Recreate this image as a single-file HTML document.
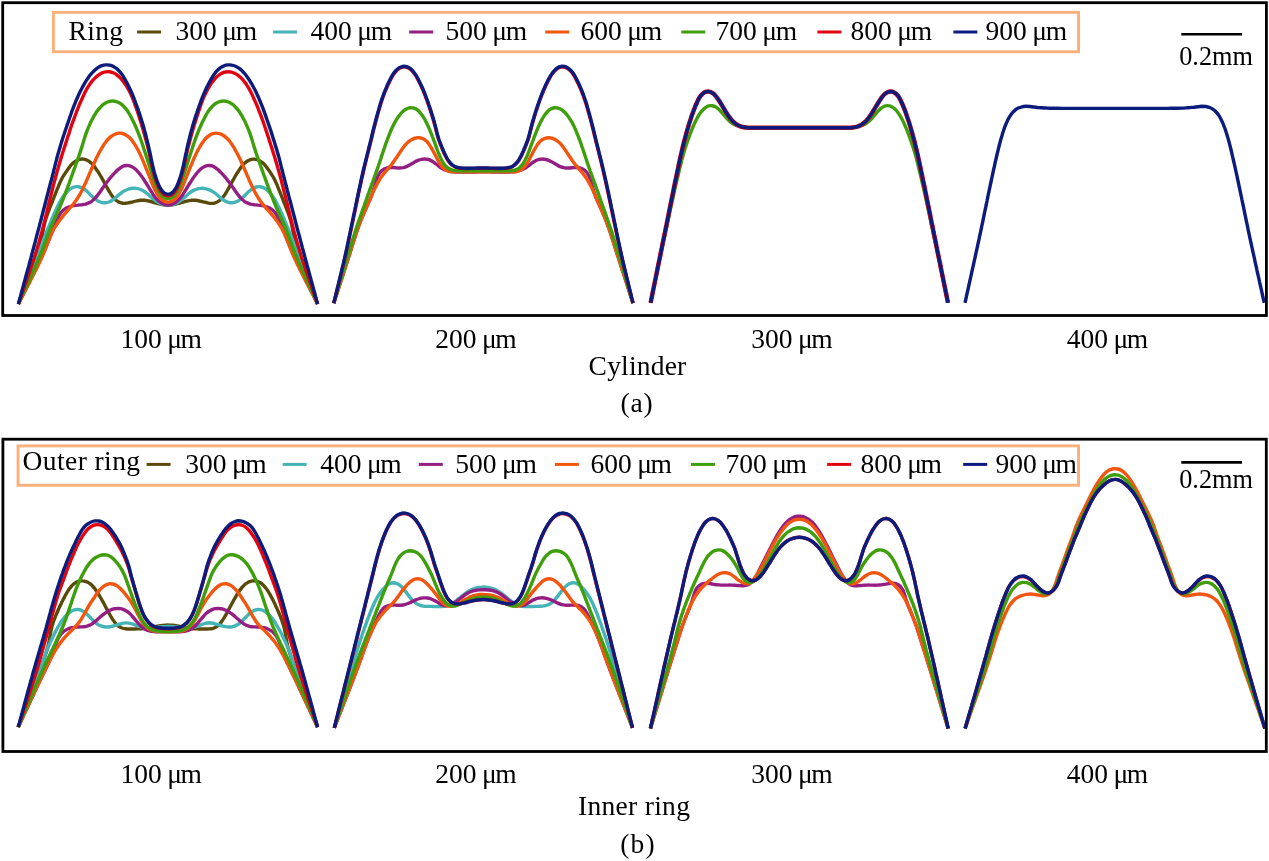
<!DOCTYPE html>
<html><head><meta charset="utf-8"><title>figure</title>
<style>
html,body{margin:0;padding:0;background:#fff;}
svg{display:block;}
text{font-family:"Liberation Serif",serif;font-size:27.5px;fill:#000;}
.c{fill:none;stroke-linecap:butt;stroke-linejoin:round;}
</style></head><body>
<svg width="1269" height="861" viewBox="0 0 1269 861">
<rect width="1269" height="861" fill="#fff"/>
<defs><filter id="g" x="0" y="0" width="1269" height="861" filterUnits="userSpaceOnUse"><feOffset dx="0" dy="0"/></filter></defs>
<g class="c" stroke-width="3.4">
<path d="M18.4,304.0C18.9,302.8 19.4,301.5 19.9,300.3C20.4,299.0 20.9,297.8 21.4,296.6C21.9,295.4 22.5,294.1 23.0,292.9C23.5,291.7 24.0,290.4 24.5,289.2C25.1,288.0 25.6,286.8 26.1,285.5C26.7,284.3 27.2,283.1 27.7,281.9C28.2,280.6 28.8,279.4 29.3,278.2C29.8,277.0 30.3,275.7 30.8,274.5C31.4,273.3 31.9,272.0 32.4,270.8C32.8,269.6 33.3,268.3 33.8,267.1C34.3,265.8 34.8,264.6 35.2,263.3C35.7,262.1 36.1,260.8 36.6,259.5C37.0,258.3 37.4,257.0 37.8,255.7C38.2,254.5 38.6,253.2 38.9,251.9C39.3,250.6 39.6,249.3 40.0,248.0C40.3,246.7 40.6,245.4 40.8,244.1C41.1,242.8 41.3,241.5 41.6,240.2C41.8,238.9 42.0,237.6 42.2,236.3C42.4,234.9 42.6,233.6 42.9,232.3C43.1,231.0 43.3,229.7 43.6,228.4C43.8,227.1 44.1,225.7 44.4,224.4C44.7,223.1 45.0,221.9 45.4,220.6C45.7,219.3 46.1,218.0 46.6,216.7C47.0,215.5 47.4,214.2 47.9,213.0C48.4,211.7 48.9,210.5 49.3,209.2C49.8,208.0 50.3,206.8 50.8,205.5C51.3,204.3 51.8,203.0 52.3,201.8C52.7,200.5 53.2,199.3 53.7,198.1C54.2,196.8 54.7,195.6 55.2,194.3C55.7,193.1 56.2,191.9 56.6,190.6C57.1,189.4 57.6,188.1 58.2,186.9C58.7,185.7 59.2,184.5 59.7,183.2C60.3,182.0 60.8,180.8 61.4,179.6C62.0,178.4 62.6,177.2 63.3,176.1C64.0,174.9 64.7,173.8 65.5,172.7C66.2,171.6 67.0,170.5 67.8,169.4C68.6,168.4 69.3,167.3 70.1,166.2C71.0,165.2 71.8,164.2 72.8,163.3C73.8,162.4 74.9,161.6 76.0,160.9C77.1,160.3 78.4,159.7 79.6,159.4C80.8,159.1 82.2,159.0 83.5,159.1C84.7,159.3 86.0,159.7 87.2,160.3C88.4,160.8 89.5,161.6 90.5,162.4C91.6,163.2 92.5,164.2 93.3,165.2C94.2,166.2 95.0,167.3 95.7,168.4C96.5,169.5 97.3,170.6 98.0,171.7C98.7,172.8 99.4,173.9 100.1,175.1C100.8,176.2 101.4,177.4 102.1,178.6C102.8,179.7 103.4,180.9 104.0,182.0C104.7,183.2 105.3,184.4 105.9,185.6C106.6,186.7 107.2,187.9 107.9,189.1C108.5,190.2 109.2,191.4 109.9,192.5C110.6,193.7 111.3,194.8 112.1,195.9C112.9,196.9 113.7,198.0 114.6,198.9C115.6,199.8 116.6,200.7 117.7,201.4C118.8,202.0 120.1,202.6 121.3,202.9C122.6,203.3 123.9,203.4 125.2,203.3C126.5,203.3 127.8,203.0 129.1,202.7C130.4,202.5 131.7,202.1 133.0,201.8C134.3,201.4 135.6,201.1 136.9,200.9C138.2,200.6 139.5,200.3 140.8,200.2C142.1,200.2 143.5,200.2 144.8,200.3C146.1,200.5 147.4,200.8 148.7,201.0C150.0,201.3 151.3,201.7 152.6,202.0C153.9,202.4 155.2,202.8 156.4,203.1C157.7,203.5 159.0,203.8 160.3,204.1C161.6,204.4 162.9,204.6 164.3,204.7C165.6,204.8 166.9,204.9 168.2,204.9C169.6,204.9 170.9,204.8 172.2,204.7C173.6,204.5 174.9,204.3 176.2,204.0C177.5,203.7 178.8,203.3 180.0,203.0C181.3,202.6 182.6,202.2 183.9,201.9C185.2,201.5 186.5,201.2 187.8,200.9C189.1,200.7 190.4,200.4 191.7,200.3C193.0,200.2 194.3,200.2 195.7,200.3C197.0,200.4 198.3,200.7 199.6,201.0C200.9,201.2 202.2,201.6 203.5,201.9C204.8,202.2 206.1,202.6 207.4,202.8C208.7,203.1 210.0,203.4 211.3,203.4C212.6,203.4 213.9,203.2 215.2,202.8C216.4,202.4 217.6,201.8 218.7,201.1C219.8,200.4 220.8,199.5 221.7,198.6C222.6,197.6 223.4,196.5 224.2,195.5C225.0,194.4 225.7,193.2 226.4,192.1C227.1,191.0 227.7,189.8 228.4,188.6C229.0,187.5 229.7,186.3 230.3,185.1C230.9,184.0 231.5,182.8 232.2,181.6C232.8,180.4 233.5,179.3 234.2,178.1C234.8,177.0 235.5,175.8 236.2,174.7C236.8,173.5 237.6,172.4 238.3,171.3C239.0,170.1 239.8,169.0 240.5,168.0C241.3,166.9 242.1,165.8 243.0,164.8C243.9,163.8 244.8,162.9 245.9,162.1C246.9,161.3 248.1,160.6 249.3,160.1C250.4,159.6 251.7,159.2 253.0,159.1C254.3,159.0 255.6,159.2 256.9,159.5C258.1,159.9 259.3,160.5 260.4,161.2C261.6,161.9 262.6,162.7 263.6,163.6C264.5,164.5 265.3,165.6 266.2,166.6C267.0,167.7 267.7,168.8 268.5,169.9C269.3,170.9 270.1,172.0 270.8,173.1C271.5,174.2 272.3,175.4 272.9,176.5C273.6,177.7 274.2,178.9 274.8,180.1C275.4,181.3 275.9,182.5 276.5,183.7C277.0,184.9 277.5,186.1 278.0,187.4C278.5,188.6 279.0,189.8 279.5,191.1C280.0,192.3 280.5,193.6 281.0,194.8C281.5,196.0 282.0,197.3 282.5,198.5C283.0,199.8 283.4,201.0 283.9,202.3C284.4,203.5 284.9,204.7 285.4,206.0C285.9,207.2 286.4,208.5 286.8,209.7C287.3,211.0 287.8,212.2 288.3,213.4C288.7,214.7 289.2,216.0 289.6,217.2C290.0,218.5 290.4,219.8 290.8,221.0C291.1,222.3 291.4,223.6 291.7,224.9C292.0,226.2 292.3,227.5 292.5,228.9C292.8,230.2 293.0,231.5 293.2,232.8C293.4,234.1 293.6,235.4 293.9,236.7C294.1,238.1 294.3,239.4 294.5,240.7C294.8,242.0 295.0,243.3 295.3,244.6C295.5,245.9 295.8,247.2 296.2,248.5C296.5,249.8 296.8,251.1 297.2,252.4C297.6,253.7 297.9,254.9 298.4,256.2C298.8,257.5 299.2,258.8 299.6,260.0C300.0,261.3 300.5,262.5 301.0,263.8C301.4,265.0 301.9,266.3 302.4,267.5C302.8,268.8 303.3,270.0 303.8,271.3C304.3,272.5 304.8,273.7 305.4,275.0C305.9,276.2 306.4,277.4 306.9,278.6C307.4,279.9 307.9,281.1 308.5,282.3C309.0,283.6 309.5,284.8 310.1,286.0C310.6,287.2 311.1,288.5 311.6,289.7C312.2,290.9 312.7,292.1 313.2,293.4C313.7,294.6 314.3,295.8 314.8,297.0C315.3,298.3 315.8,299.5 316.3,300.7C316.7,301.8 317.2,302.9 317.6,304.0" stroke="#5a4a0a"/>
<path d="M18.4,304.0C18.9,302.8 19.4,301.5 19.9,300.3C20.3,299.0 20.8,297.8 21.3,296.5C21.8,295.3 22.3,294.1 22.8,292.8C23.2,291.6 23.7,290.3 24.2,289.1C24.7,287.8 25.2,286.6 25.7,285.3C26.1,284.1 26.6,282.9 27.1,281.6C27.6,280.4 28.1,279.1 28.6,277.9C29.0,276.6 29.5,275.4 30.0,274.2C30.5,272.9 31.0,271.7 31.5,270.4C32.0,269.2 32.4,267.9 32.9,266.7C33.4,265.5 33.9,264.2 34.4,263.0C34.9,261.7 35.4,260.5 35.8,259.2C36.3,258.0 36.8,256.8 37.3,255.5C37.8,254.3 38.3,253.0 38.8,251.8C39.3,250.6 39.8,249.3 40.3,248.1C40.7,246.8 41.2,245.6 41.7,244.4C42.2,243.1 42.7,241.9 43.2,240.6C43.7,239.4 44.2,238.1 44.6,236.9C45.1,235.7 45.6,234.4 46.1,233.2C46.6,231.9 47.1,230.7 47.6,229.5C48.1,228.2 48.6,227.0 49.1,225.8C49.6,224.5 50.2,223.3 50.7,222.1C51.2,220.8 51.7,219.6 52.2,218.4C52.7,217.1 53.3,215.9 53.8,214.7C54.3,213.5 54.8,212.2 55.4,211.0C56.0,209.8 56.5,208.6 57.1,207.4C57.7,206.2 58.3,205.0 58.9,203.8C59.5,202.6 60.1,201.5 60.8,200.3C61.5,199.2 62.2,198.0 62.9,196.9C63.7,195.8 64.5,194.7 65.3,193.7C66.2,192.7 67.1,191.7 68.0,190.8C69.0,189.9 70.0,189.0 71.1,188.4C72.2,187.7 73.5,187.1 74.7,186.9C76.0,186.6 77.3,186.6 78.6,186.8C79.9,187.0 81.1,187.5 82.3,188.1C83.5,188.6 84.6,189.4 85.7,190.2C86.7,191.0 87.6,191.9 88.6,192.9C89.5,193.8 90.4,194.8 91.3,195.8C92.3,196.7 93.3,197.6 94.3,198.4C95.4,199.2 96.4,200.0 97.6,200.7C98.7,201.3 99.9,201.9 101.2,202.3C102.4,202.6 103.8,202.9 105.0,202.8C106.3,202.8 107.6,202.4 108.8,202.0C110.1,201.5 111.3,200.9 112.4,200.2C113.5,199.4 114.5,198.6 115.5,197.7C116.5,196.9 117.5,195.9 118.5,195.1C119.5,194.2 120.6,193.4 121.7,192.7C122.8,191.9 123.9,191.2 125.1,190.6C126.3,190.0 127.5,189.4 128.7,189.0C130.0,188.7 131.3,188.4 132.6,188.3C133.9,188.2 135.3,188.2 136.6,188.4C137.9,188.6 139.2,189.0 140.4,189.5C141.6,189.9 142.8,190.6 143.9,191.3C145.1,192.0 146.1,192.8 147.2,193.6C148.2,194.4 149.2,195.3 150.2,196.2C151.2,197.1 152.2,198.0 153.2,198.8C154.2,199.7 155.3,200.5 156.4,201.3C157.5,202.0 158.6,202.7 159.8,203.2C161.0,203.8 162.3,204.2 163.6,204.5C164.9,204.8 166.2,205.0 167.5,205.0C168.8,205.1 170.2,204.9 171.5,204.7C172.7,204.5 174.0,204.1 175.3,203.6C176.5,203.1 177.7,202.5 178.8,201.8C179.9,201.1 181.0,200.3 182.0,199.5C183.1,198.6 184.1,197.7 185.1,196.9C186.1,196.0 187.0,195.1 188.1,194.2C189.1,193.4 190.1,192.5 191.2,191.8C192.3,191.1 193.5,190.4 194.7,189.9C195.9,189.3 197.2,188.9 198.5,188.6C199.7,188.3 201.1,188.2 202.4,188.2C203.7,188.2 205.0,188.5 206.3,188.8C207.6,189.1 208.8,189.6 210.0,190.1C211.2,190.7 212.4,191.4 213.5,192.1C214.6,192.8 215.7,193.6 216.7,194.5C217.8,195.3 218.7,196.2 219.7,197.1C220.8,197.9 221.7,198.8 222.8,199.6C223.9,200.4 225.0,201.1 226.2,201.6C227.4,202.1 228.7,202.6 230.0,202.7C231.3,202.9 232.6,202.8 233.9,202.5C235.1,202.3 236.4,201.7 237.5,201.2C238.7,200.6 239.8,199.8 240.9,199.0C242.0,198.2 243.0,197.4 243.9,196.5C244.9,195.5 245.8,194.5 246.7,193.6C247.7,192.7 248.5,191.6 249.6,190.8C250.6,189.9 251.7,189.1 252.8,188.5C254.0,187.9 255.2,187.3 256.5,187.0C257.7,186.7 259.1,186.6 260.3,186.7C261.6,186.9 262.9,187.3 264.0,187.9C265.2,188.4 266.2,189.3 267.2,190.1C268.2,191.0 269.2,192.0 270.0,193.0C270.9,194.0 271.7,195.0 272.5,196.1C273.3,197.2 274.0,198.3 274.7,199.4C275.4,200.6 276.0,201.8 276.6,202.9C277.3,204.1 277.9,205.3 278.4,206.5C279.0,207.7 279.6,208.9 280.2,210.1C280.7,211.3 281.3,212.6 281.8,213.8C282.4,215.0 282.9,216.2 283.4,217.5C283.9,218.7 284.4,219.9 284.9,221.1C285.5,222.4 286.0,223.6 286.5,224.8C287.0,226.1 287.5,227.3 288.0,228.5C288.5,229.8 289.0,231.0 289.5,232.2C290.0,233.5 290.5,234.7 291.0,236.0C291.5,237.2 292.0,238.5 292.4,239.7C292.9,240.9 293.4,242.2 293.9,243.4C294.4,244.7 294.9,245.9 295.4,247.1C295.9,248.4 296.4,249.6 296.8,250.9C297.3,252.1 297.8,253.4 298.3,254.6C298.8,255.8 299.3,257.1 299.8,258.3C300.3,259.6 300.8,260.8 301.2,262.0C301.7,263.3 302.2,264.5 302.7,265.8C303.2,267.0 303.7,268.3 304.2,269.5C304.7,270.7 305.1,272.0 305.6,273.2C306.1,274.5 306.6,275.7 307.1,277.0C307.6,278.2 308.0,279.4 308.5,280.7C309.0,281.9 309.5,283.2 310.0,284.4C310.5,285.7 310.9,286.9 311.4,288.1C311.9,289.4 312.4,290.6 312.9,291.9C313.4,293.1 313.8,294.4 314.3,295.6C314.8,296.9 315.3,298.1 315.8,299.3C316.3,300.6 316.8,301.8 317.2,303.1C317.4,303.4 317.5,303.7 317.6,304.0" stroke="#44b4b6"/>
<path d="M18.4,304.0C19.0,302.8 19.6,301.6 20.2,300.4C20.8,299.2 21.3,298.0 21.9,296.8C22.5,295.6 23.1,294.4 23.7,293.2C24.3,292.0 24.9,290.8 25.5,289.7C26.1,288.5 26.7,287.3 27.3,286.1C27.9,284.9 28.5,283.7 29.1,282.5C29.7,281.3 30.3,280.1 30.9,278.9C31.5,277.7 32.1,276.5 32.7,275.3C33.3,274.1 33.8,272.9 34.4,271.7C35.0,270.5 35.6,269.3 36.2,268.1C36.8,266.9 37.3,265.7 37.9,264.5C38.5,263.3 39.0,262.1 39.6,260.9C40.2,259.7 40.7,258.5 41.3,257.3C41.8,256.0 42.4,254.8 42.9,253.6C43.5,252.4 44.0,251.2 44.5,249.9C45.1,248.7 45.6,247.5 46.2,246.3C46.7,245.1 47.2,243.8 47.7,242.6C48.3,241.4 48.8,240.2 49.3,238.9C49.8,237.7 50.4,236.5 50.9,235.2C51.4,234.0 51.9,232.8 52.4,231.5C52.9,230.3 53.4,229.0 53.8,227.8C54.3,226.6 54.8,225.3 55.3,224.1C55.8,222.8 56.3,221.6 56.8,220.4C57.4,219.1 57.9,217.9 58.5,216.7C59.1,215.6 59.7,214.4 60.5,213.3C61.3,212.2 62.1,211.2 63.1,210.3C64.1,209.5 65.2,208.7 66.3,208.0C67.5,207.4 68.7,206.9 70.0,206.5C71.2,206.1 72.6,205.8 73.9,205.6C75.2,205.3 76.5,205.2 77.8,205.1C79.1,204.9 80.5,204.9 81.8,204.8C83.1,204.6 84.4,204.4 85.7,204.1C87.0,203.7 88.2,203.2 89.4,202.6C90.6,202.1 91.7,201.3 92.7,200.5C93.8,199.7 94.7,198.7 95.6,197.7C96.5,196.7 97.3,195.7 98.1,194.6C98.9,193.6 99.7,192.5 100.4,191.4C101.2,190.3 101.9,189.2 102.7,188.1C103.4,187.0 104.2,185.9 105.0,184.8C105.8,183.7 106.5,182.6 107.4,181.5C108.2,180.5 109.0,179.4 109.8,178.4C110.7,177.4 111.5,176.3 112.4,175.4C113.3,174.4 114.2,173.4 115.2,172.4C116.1,171.5 117.0,170.5 118.0,169.7C119.0,168.8 120.1,167.9 121.2,167.2C122.3,166.6 123.5,166.0 124.8,165.7C126.0,165.5 127.4,165.4 128.6,165.6C129.9,165.8 131.2,166.3 132.3,166.9C133.5,167.5 134.5,168.4 135.5,169.2C136.5,170.1 137.4,171.1 138.3,172.1C139.2,173.0 140.0,174.1 140.8,175.2C141.6,176.2 142.4,177.3 143.1,178.5C143.9,179.6 144.6,180.7 145.3,181.8C146.0,182.9 146.7,184.1 147.4,185.2C148.1,186.3 148.8,187.5 149.5,188.6C150.2,189.8 150.9,190.9 151.6,192.0C152.3,193.2 153.0,194.3 153.8,195.4C154.5,196.5 155.4,197.5 156.2,198.5C157.1,199.5 158.0,200.5 159.1,201.3C160.1,202.2 161.2,203.0 162.3,203.5C163.5,204.1 164.8,204.6 166.0,204.8C167.3,205.0 168.7,205.0 170.0,204.8C171.2,204.6 172.5,204.1 173.7,203.5C174.8,203.0 175.9,202.2 176.9,201.3C178.0,200.5 178.9,199.5 179.8,198.5C180.6,197.5 181.5,196.5 182.2,195.4C183.0,194.3 183.7,193.2 184.4,192.0C185.1,190.9 185.8,189.8 186.5,188.6C187.2,187.5 187.9,186.3 188.6,185.2C189.3,184.1 190.0,182.9 190.7,181.8C191.4,180.7 192.1,179.6 192.9,178.5C193.6,177.3 194.4,176.2 195.2,175.2C196.0,174.1 196.8,173.0 197.7,172.1C198.6,171.1 199.5,170.1 200.5,169.2C201.5,168.4 202.5,167.5 203.7,166.9C204.8,166.3 206.1,165.8 207.4,165.6C208.6,165.4 210.0,165.5 211.2,165.7C212.5,166.0 213.7,166.6 214.8,167.2C215.9,167.9 217.0,168.8 218.0,169.7C219.0,170.5 219.9,171.5 220.8,172.4C221.8,173.4 222.7,174.4 223.6,175.4C224.5,176.3 225.3,177.4 226.2,178.4C227.0,179.4 227.8,180.5 228.6,181.5C229.5,182.6 230.2,183.7 231.0,184.8C231.8,185.9 232.6,187.0 233.3,188.1C234.1,189.2 234.8,190.3 235.6,191.4C236.3,192.5 237.1,193.6 237.9,194.6C238.7,195.7 239.5,196.7 240.4,197.7C241.3,198.7 242.2,199.7 243.3,200.5C244.3,201.3 245.4,202.1 246.6,202.6C247.8,203.2 249.0,203.7 250.3,204.1C251.6,204.4 252.9,204.6 254.2,204.8C255.5,204.9 256.9,204.9 258.2,205.1C259.5,205.2 260.8,205.3 262.1,205.6C263.4,205.8 264.8,206.1 266.0,206.5C267.3,206.9 268.5,207.4 269.7,208.0C270.8,208.7 271.9,209.5 272.9,210.3C273.9,211.2 274.7,212.2 275.5,213.3C276.3,214.4 276.9,215.6 277.5,216.7C278.1,217.9 278.6,219.1 279.2,220.4C279.7,221.6 280.2,222.8 280.7,224.1C281.2,225.3 281.7,226.6 282.2,227.8C282.6,229.0 283.1,230.3 283.6,231.5C284.1,232.8 284.6,234.0 285.1,235.2C285.6,236.5 286.2,237.7 286.7,238.9C287.2,240.2 287.7,241.4 288.3,242.6C288.8,243.8 289.3,245.1 289.8,246.3C290.4,247.5 290.9,248.7 291.5,249.9C292.0,251.2 292.5,252.4 293.1,253.6C293.6,254.8 294.2,256.0 294.7,257.3C295.3,258.5 295.8,259.7 296.4,260.9C297.0,262.1 297.5,263.3 298.1,264.5C298.7,265.7 299.2,266.9 299.8,268.1C300.4,269.3 301.0,270.5 301.6,271.7C302.2,272.9 302.7,274.1 303.3,275.3C303.9,276.5 304.5,277.7 305.1,278.9C305.7,280.1 306.3,281.3 306.9,282.5C307.5,283.7 308.1,284.9 308.7,286.1C309.3,287.3 309.9,288.5 310.5,289.7C311.1,290.8 311.7,292.0 312.3,293.2C312.9,294.4 313.5,295.6 314.1,296.8C314.7,298.0 315.2,299.2 315.8,300.4C316.4,301.6 317.0,302.8 317.6,304.0" stroke="#951e82"/>
<path d="M18.4,304.0C19.0,302.8 19.6,301.6 20.2,300.4C20.8,299.2 21.4,298.0 22.0,296.9C22.6,295.7 23.2,294.5 23.8,293.3C24.4,292.1 25.1,290.9 25.7,289.7C26.3,288.6 26.9,287.4 27.5,286.2C28.1,285.0 28.7,283.8 29.4,282.6C30.0,281.5 30.6,280.3 31.2,279.1C31.8,277.9 32.4,276.7 33.0,275.5C33.6,274.3 34.2,273.1 34.8,272.0C35.4,270.8 36.0,269.6 36.6,268.4C37.2,267.2 37.8,266.0 38.4,264.8C39.0,263.6 39.5,262.4 40.1,261.2C40.7,260.0 41.2,258.8 41.8,257.5C42.3,256.3 42.9,255.1 43.4,253.9C44.0,252.7 44.5,251.4 45.0,250.2C45.5,249.0 46.0,247.7 46.4,246.5C46.9,245.2 47.4,244.0 47.8,242.7C48.3,241.5 48.7,240.2 49.2,239.0C49.7,237.7 50.1,236.5 50.7,235.2C51.2,234.0 51.8,232.8 52.4,231.6C53.0,230.5 53.7,229.3 54.4,228.2C55.0,227.0 55.8,225.9 56.5,224.8C57.2,223.7 58.0,222.6 58.8,221.5C59.5,220.4 60.3,219.3 61.2,218.3C62.0,217.2 62.8,216.2 63.7,215.2C64.5,214.1 65.4,213.1 66.3,212.1C67.1,211.1 68.0,210.1 68.9,209.1C69.8,208.1 70.7,207.2 71.6,206.2C72.5,205.2 73.3,204.1 74.1,203.1C75.0,202.0 75.7,200.9 76.5,199.8C77.2,198.7 77.9,197.6 78.6,196.5C79.3,195.3 80.0,194.2 80.6,193.0C81.3,191.8 81.9,190.6 82.5,189.4C83.1,188.2 83.6,187.0 84.2,185.8C84.8,184.6 85.3,183.4 85.9,182.2C86.4,181.0 86.9,179.8 87.5,178.5C88.0,177.3 88.5,176.1 89.0,174.8C89.5,173.6 90.1,172.4 90.6,171.2C91.1,169.9 91.7,168.7 92.2,167.5C92.7,166.3 93.3,165.1 93.8,163.8C94.4,162.6 94.9,161.4 95.5,160.2C96.0,159.0 96.6,157.8 97.2,156.6C97.8,155.4 98.4,154.2 99.0,153.0C99.6,151.8 100.3,150.7 100.9,149.5C101.6,148.4 102.3,147.2 103.0,146.1C103.7,144.9 104.4,143.8 105.2,142.8C106.0,141.7 106.8,140.7 107.7,139.7C108.6,138.7 109.6,137.7 110.6,136.9C111.6,136.1 112.7,135.3 113.9,134.7C115.0,134.1 116.3,133.6 117.6,133.3C118.8,133.1 120.2,133.0 121.4,133.2C122.7,133.4 124.0,133.9 125.1,134.5C126.3,135.1 127.4,135.8 128.4,136.7C129.4,137.5 130.3,138.5 131.2,139.5C132.1,140.5 132.8,141.6 133.6,142.7C134.4,143.8 135.1,144.9 135.8,146.0C136.5,147.2 137.1,148.3 137.7,149.5C138.4,150.7 139.0,151.9 139.6,153.1C140.1,154.3 140.7,155.5 141.2,156.7C141.8,157.9 142.3,159.1 142.8,160.4C143.4,161.6 143.9,162.8 144.4,164.1C144.9,165.3 145.4,166.5 145.9,167.8C146.4,169.0 146.9,170.2 147.4,171.5C147.9,172.7 148.4,174.0 148.9,175.2C149.4,176.4 149.9,177.7 150.4,178.9C150.8,180.2 151.3,181.4 151.8,182.6C152.3,183.9 152.8,185.1 153.3,186.3C153.9,187.6 154.4,188.8 155.0,190.0C155.6,191.2 156.2,192.3 156.9,193.5C157.6,194.6 158.3,195.7 159.2,196.8C160.0,197.8 160.9,198.8 161.9,199.7C162.9,200.5 164.0,201.3 165.2,201.7C166.4,202.1 167.7,202.3 169.0,202.1C170.2,202.0 171.5,201.4 172.6,200.8C173.7,200.2 174.7,199.2 175.6,198.3C176.5,197.3 177.3,196.3 178.0,195.2C178.8,194.1 179.4,192.9 180.0,191.7C180.7,190.6 181.3,189.4 181.9,188.2C182.4,187.0 182.9,185.7 183.4,184.5C184.0,183.3 184.4,182.0 184.9,180.8C185.4,179.5 185.9,178.3 186.4,177.1C186.9,175.8 187.4,174.6 187.9,173.3C188.4,172.1 188.8,170.9 189.3,169.6C189.8,168.4 190.3,167.1 190.8,165.9C191.4,164.7 191.9,163.4 192.4,162.2C192.9,161.0 193.4,159.8 193.9,158.5C194.5,157.3 195.0,156.1 195.6,154.9C196.1,153.7 196.7,152.5 197.3,151.3C197.9,150.1 198.6,148.9 199.2,147.8C199.9,146.6 200.6,145.5 201.3,144.3C202.0,143.2 202.8,142.1 203.6,141.1C204.4,140.0 205.2,138.9 206.1,138.0C207.1,137.1 208.1,136.2 209.2,135.5C210.3,134.8 211.5,134.1 212.7,133.7C213.9,133.3 215.2,133.0 216.5,133.1C217.8,133.1 219.1,133.4 220.3,133.9C221.5,134.3 222.7,135.0 223.8,135.7C224.9,136.4 225.9,137.3 226.9,138.2C227.8,139.1 228.7,140.2 229.6,141.2C230.4,142.2 231.2,143.3 231.9,144.4C232.7,145.5 233.4,146.6 234.1,147.8C234.7,148.9 235.4,150.1 236.0,151.3C236.7,152.4 237.3,153.6 237.9,154.8C238.5,156.0 239.1,157.2 239.7,158.4C240.3,159.6 240.8,160.8 241.4,162.0C241.9,163.2 242.4,164.4 243.0,165.7C243.5,166.9 244.1,168.1 244.6,169.3C245.1,170.6 245.7,171.8 246.2,173.0C246.7,174.2 247.2,175.5 247.8,176.7C248.3,177.9 248.8,179.1 249.3,180.4C249.9,181.6 250.4,182.8 251.0,184.0C251.5,185.2 252.1,186.4 252.7,187.6C253.2,188.8 253.8,190.0 254.4,191.2C255.0,192.4 255.7,193.6 256.3,194.7C257.0,195.9 257.7,197.0 258.4,198.2C259.1,199.3 259.9,200.4 260.7,201.5C261.4,202.6 262.3,203.6 263.1,204.6C263.9,205.7 264.8,206.7 265.7,207.7C266.6,208.6 267.5,209.6 268.4,210.6C269.3,211.6 270.2,212.6 271.0,213.6C271.9,214.7 272.8,215.7 273.6,216.7C274.4,217.8 275.3,218.8 276.1,219.9C276.9,220.9 277.6,222.0 278.4,223.1C279.1,224.2 279.9,225.3 280.6,226.5C281.3,227.6 282.0,228.7 282.7,229.9C283.3,231.0 283.9,232.2 284.5,233.4C285.1,234.6 285.6,235.9 286.1,237.1C286.6,238.3 287.0,239.6 287.5,240.8C288.0,242.1 288.4,243.3 288.9,244.6C289.3,245.9 289.8,247.1 290.3,248.3C290.8,249.6 291.3,250.8 291.8,252.0C292.3,253.3 292.8,254.5 293.4,255.7C293.9,256.9 294.5,258.1 295.1,259.4C295.6,260.6 296.2,261.8 296.8,263.0C297.3,264.2 297.9,265.4 298.5,266.6C299.1,267.8 299.7,269.0 300.3,270.2C300.9,271.4 301.5,272.6 302.1,273.7C302.7,274.9 303.3,276.1 303.9,277.3C304.5,278.5 305.1,279.7 305.7,280.9C306.3,282.0 307.0,283.2 307.6,284.4C308.2,285.6 308.8,286.8 309.4,288.0C310.0,289.1 310.6,290.3 311.3,291.5C311.9,292.7 312.5,293.9 313.1,295.1C313.7,296.3 314.3,297.4 314.9,298.6C315.5,299.8 316.1,301.0 316.7,302.2C317.0,302.8 317.3,303.4 317.6,304.0" stroke="#f2560e"/>
<path d="M18.4,304.0C18.9,302.8 19.5,301.6 20.0,300.3C20.6,299.1 21.1,297.9 21.7,296.7C22.2,295.5 22.8,294.3 23.3,293.1C23.9,291.8 24.4,290.6 25.0,289.4C25.6,288.2 26.1,287.0 26.7,285.8C27.2,284.6 27.8,283.4 28.3,282.1C28.9,280.9 29.4,279.7 30.0,278.5C30.5,277.3 31.1,276.1 31.6,274.9C32.2,273.7 32.7,272.4 33.3,271.2C33.8,270.0 34.4,268.8 34.9,267.6C35.5,266.3 36.0,265.1 36.5,263.9C37.0,262.7 37.6,261.5 38.1,260.2C38.6,259.0 39.1,257.8 39.6,256.5C40.2,255.3 40.7,254.1 41.2,252.8C41.7,251.6 42.1,250.4 42.6,249.1C43.1,247.9 43.6,246.6 44.1,245.4C44.5,244.1 45.0,242.9 45.4,241.6C45.9,240.4 46.3,239.1 46.8,237.9C47.2,236.6 47.7,235.4 48.2,234.1C48.6,232.9 49.1,231.6 49.6,230.4C50.1,229.1 50.6,227.9 51.1,226.7C51.6,225.4 52.2,224.2 52.7,223.0C53.2,221.8 53.8,220.6 54.3,219.3C54.9,218.1 55.5,216.9 56.0,215.7C56.6,214.5 57.1,213.3 57.7,212.1C58.2,210.8 58.7,209.6 59.2,208.4C59.8,207.2 60.3,205.9 60.8,204.7C61.3,203.5 61.8,202.2 62.3,201.0C62.8,199.8 63.3,198.5 63.8,197.3C64.3,196.1 64.8,194.8 65.3,193.6C65.8,192.3 66.2,191.1 66.7,189.8C67.2,188.6 67.7,187.3 68.1,186.1C68.6,184.8 69.0,183.6 69.5,182.3C69.9,181.1 70.4,179.8 70.8,178.6C71.3,177.3 71.7,176.1 72.2,174.8C72.6,173.6 73.1,172.3 73.5,171.0C74.0,169.8 74.4,168.5 74.9,167.3C75.3,166.0 75.8,164.8 76.2,163.5C76.7,162.2 77.1,161.0 77.6,159.7C78.0,158.5 78.4,157.2 78.9,156.0C79.3,154.7 79.7,153.4 80.2,152.2C80.6,150.9 81.0,149.6 81.4,148.4C81.8,147.1 82.2,145.8 82.6,144.5C83.0,143.3 83.3,142.0 83.7,140.7C84.1,139.4 84.5,138.2 84.9,136.9C85.3,135.6 85.7,134.4 86.2,133.1C86.7,131.9 87.1,130.6 87.6,129.4C88.1,128.1 88.6,126.9 89.2,125.7C89.7,124.5 90.3,123.2 90.8,122.0C91.4,120.8 92.0,119.7 92.7,118.5C93.3,117.3 93.9,116.1 94.6,115.0C95.3,113.9 96.0,112.7 96.8,111.6C97.5,110.5 98.3,109.5 99.2,108.5C100.1,107.5 101.0,106.5 101.9,105.6C102.9,104.7 103.9,103.8 105.1,103.2C106.2,102.5 107.4,101.9 108.7,101.6C109.9,101.2 111.3,101.0 112.6,101.0C113.9,101.0 115.2,101.2 116.4,101.6C117.7,102.0 118.9,102.6 120.0,103.2C121.1,103.9 122.2,104.8 123.1,105.7C124.1,106.6 124.9,107.7 125.7,108.7C126.6,109.7 127.4,110.8 128.1,111.9C128.8,113.0 129.5,114.2 130.1,115.3C130.8,116.5 131.4,117.7 132.0,118.9C132.6,120.1 133.2,121.3 133.8,122.5C134.4,123.7 134.9,124.9 135.4,126.1C136.0,127.3 136.5,128.6 137.0,129.8C137.5,131.0 138.0,132.3 138.5,133.5C139.0,134.7 139.5,136.0 139.9,137.2C140.4,138.5 140.8,139.7 141.3,141.0C141.7,142.3 142.1,143.5 142.6,144.8C143.0,146.0 143.4,147.3 143.8,148.6C144.3,149.8 144.7,151.1 145.1,152.4C145.5,153.7 145.9,154.9 146.3,156.2C146.7,157.5 147.1,158.7 147.5,160.0C147.9,161.3 148.3,162.6 148.7,163.8C149.1,165.1 149.5,166.4 149.9,167.6C150.3,168.9 150.7,170.2 151.2,171.4C151.6,172.7 152.0,174.0 152.4,175.2C152.8,176.5 153.2,177.8 153.6,179.0C154.1,180.3 154.5,181.6 155.0,182.8C155.4,184.1 155.9,185.3 156.5,186.5C157.0,187.7 157.6,189.0 158.2,190.1C158.8,191.3 159.5,192.5 160.2,193.5C161.0,194.6 161.8,195.7 162.8,196.5C163.8,197.3 164.9,198.0 166.1,198.4C167.3,198.7 168.7,198.7 169.9,198.4C171.1,198.0 172.2,197.3 173.2,196.5C174.2,195.7 175.0,194.6 175.8,193.5C176.5,192.5 177.2,191.3 177.8,190.1C178.4,189.0 179.0,187.7 179.5,186.5C180.1,185.3 180.6,184.1 181.0,182.8C181.5,181.6 181.9,180.3 182.4,179.0C182.8,177.8 183.2,176.5 183.6,175.2C184.0,174.0 184.4,172.7 184.8,171.4C185.3,170.2 185.7,168.9 186.1,167.6C186.5,166.4 186.9,165.1 187.3,163.8C187.7,162.6 188.1,161.3 188.5,160.0C188.9,158.7 189.3,157.5 189.7,156.2C190.1,154.9 190.5,153.7 190.9,152.4C191.3,151.1 191.7,149.8 192.2,148.6C192.6,147.3 193.0,146.0 193.4,144.8C193.9,143.5 194.3,142.3 194.7,141.0C195.2,139.7 195.6,138.5 196.1,137.2C196.5,136.0 197.0,134.7 197.5,133.5C198.0,132.3 198.5,131.0 199.0,129.8C199.5,128.6 200.0,127.3 200.6,126.1C201.1,124.9 201.6,123.7 202.2,122.5C202.8,121.3 203.4,120.1 204.0,118.9C204.6,117.7 205.2,116.5 205.9,115.3C206.5,114.2 207.2,113.0 207.9,111.9C208.6,110.8 209.4,109.7 210.3,108.7C211.1,107.7 211.9,106.6 212.9,105.7C213.8,104.8 214.9,103.9 216.0,103.2C217.1,102.6 218.3,102.0 219.6,101.6C220.8,101.2 222.1,101.0 223.4,101.0C224.7,101.0 226.1,101.2 227.3,101.6C228.6,101.9 229.8,102.5 230.9,103.2C232.1,103.8 233.1,104.7 234.1,105.6C235.0,106.5 235.9,107.5 236.8,108.5C237.7,109.5 238.5,110.5 239.2,111.6C240.0,112.7 240.7,113.9 241.4,115.0C242.1,116.1 242.7,117.3 243.3,118.5C244.0,119.7 244.6,120.8 245.2,122.0C245.7,123.2 246.3,124.5 246.8,125.7C247.4,126.9 247.9,128.1 248.4,129.4C248.9,130.6 249.3,131.9 249.8,133.1C250.3,134.4 250.7,135.6 251.1,136.9C251.5,138.2 251.9,139.4 252.3,140.7C252.7,142.0 253.0,143.3 253.4,144.5C253.8,145.8 254.2,147.1 254.6,148.4C255.0,149.6 255.4,150.9 255.8,152.2C256.3,153.4 256.7,154.7 257.1,156.0C257.6,157.2 258.0,158.5 258.4,159.7C258.9,161.0 259.3,162.2 259.8,163.5C260.2,164.8 260.7,166.0 261.1,167.3C261.6,168.5 262.0,169.8 262.5,171.0C262.9,172.3 263.4,173.6 263.8,174.8C264.3,176.1 264.7,177.3 265.2,178.6C265.6,179.8 266.1,181.1 266.5,182.3C267.0,183.6 267.4,184.8 267.9,186.1C268.3,187.3 268.8,188.6 269.3,189.8C269.8,191.1 270.2,192.3 270.7,193.6C271.2,194.8 271.7,196.1 272.2,197.3C272.7,198.5 273.2,199.8 273.7,201.0C274.2,202.2 274.7,203.5 275.2,204.7C275.7,205.9 276.2,207.2 276.8,208.4C277.3,209.6 277.8,210.8 278.3,212.1C278.9,213.3 279.4,214.5 280.0,215.7C280.5,216.9 281.1,218.1 281.7,219.3C282.2,220.6 282.8,221.8 283.3,223.0C283.8,224.2 284.4,225.4 284.9,226.7C285.4,227.9 285.9,229.1 286.4,230.4C286.9,231.6 287.4,232.9 287.8,234.1C288.3,235.4 288.8,236.6 289.2,237.9C289.7,239.1 290.1,240.4 290.6,241.6C291.0,242.9 291.5,244.1 291.9,245.4C292.4,246.6 292.9,247.9 293.4,249.1C293.9,250.4 294.3,251.6 294.8,252.8C295.3,254.1 295.8,255.3 296.4,256.5C296.9,257.8 297.4,259.0 297.9,260.2C298.4,261.5 299.0,262.7 299.5,263.9C300.0,265.1 300.5,266.3 301.1,267.6C301.6,268.8 302.2,270.0 302.7,271.2C303.3,272.4 303.8,273.7 304.4,274.9C304.9,276.1 305.5,277.3 306.0,278.5C306.6,279.7 307.1,280.9 307.7,282.1C308.2,283.4 308.8,284.6 309.3,285.8C309.9,287.0 310.4,288.2 311.0,289.4C311.6,290.6 312.1,291.8 312.7,293.1C313.2,294.3 313.8,295.5 314.3,296.7C314.9,297.9 315.4,299.1 316.0,300.3C316.5,301.6 317.1,302.8 317.6,304.0" stroke="#3e9e0c"/>
<path d="M18.4,304.0C18.8,302.7 19.3,301.5 19.7,300.2C20.1,299.0 20.6,297.7 21.0,296.4C21.4,295.2 21.9,293.9 22.3,292.6C22.7,291.4 23.2,290.1 23.6,288.9C24.1,287.6 24.5,286.3 24.9,285.1C25.4,283.8 25.8,282.6 26.3,281.3C26.7,280.1 27.1,278.8 27.6,277.5C28.0,276.3 28.5,275.0 28.9,273.7C29.3,272.5 29.8,271.2 30.2,270.0C30.6,268.7 31.0,267.4 31.5,266.2C31.9,264.9 32.3,263.6 32.7,262.4C33.2,261.1 33.6,259.8 34.0,258.6C34.4,257.3 34.8,256.0 35.2,254.8C35.6,253.5 36.0,252.2 36.4,250.9C36.8,249.7 37.2,248.4 37.6,247.1C37.9,245.8 38.3,244.6 38.7,243.3C39.1,242.0 39.4,240.7 39.8,239.4C40.1,238.1 40.5,236.8 40.8,235.6C41.2,234.3 41.5,233.0 41.9,231.7C42.2,230.4 42.6,229.1 42.9,227.8C43.2,226.5 43.6,225.2 43.9,223.9C44.2,222.6 44.5,221.4 44.9,220.1C45.2,218.8 45.5,217.5 45.8,216.2C46.1,214.9 46.5,213.6 46.8,212.3C47.1,211.0 47.4,209.7 47.7,208.4C48.0,207.1 48.4,205.8 48.7,204.5C49.0,203.2 49.3,201.9 49.6,200.6C49.9,199.3 50.2,198.0 50.6,196.7C50.9,195.4 51.2,194.1 51.5,192.8C51.9,191.6 52.2,190.3 52.5,189.0C52.8,187.7 53.2,186.4 53.5,185.1C53.8,183.8 54.2,182.5 54.5,181.2C54.9,179.9 55.2,178.6 55.6,177.4C55.9,176.1 56.3,174.8 56.6,173.5C57.0,172.2 57.3,170.9 57.7,169.6C58.1,168.4 58.4,167.1 58.8,165.8C59.2,164.5 59.6,163.2 59.9,162.0C60.3,160.7 60.7,159.4 61.1,158.1C61.4,156.8 61.8,155.6 62.2,154.3C62.6,153.0 63.0,151.7 63.4,150.5C63.8,149.2 64.2,147.9 64.7,146.7C65.1,145.4 65.5,144.1 65.9,142.9C66.3,141.6 66.7,140.3 67.1,139.0C67.5,137.8 67.9,136.5 68.4,135.2C68.8,134.0 69.2,132.7 69.6,131.4C70.0,130.2 70.4,128.9 70.8,127.6C71.3,126.4 71.7,125.1 72.1,123.8C72.6,122.6 73.0,121.3 73.5,120.1C73.9,118.8 74.4,117.6 74.9,116.3C75.3,115.1 75.8,113.8 76.3,112.6C76.8,111.3 77.2,110.1 77.7,108.8C78.2,107.6 78.7,106.4 79.2,105.1C79.7,103.9 80.3,102.7 80.8,101.5C81.4,100.2 81.9,99.0 82.5,97.8C83.0,96.6 83.6,95.4 84.1,94.2C84.7,93.0 85.3,91.8 85.9,90.6C86.5,89.4 87.2,88.2 87.9,87.1C88.6,86.0 89.3,84.9 90.1,83.8C90.9,82.7 91.7,81.6 92.5,80.6C93.4,79.6 94.3,78.6 95.3,77.7C96.2,76.8 97.2,75.9 98.3,75.2C99.4,74.4 100.6,73.7 101.7,73.1C102.9,72.6 104.2,72.1 105.5,71.9C106.8,71.7 108.1,71.6 109.4,71.7C110.7,71.9 112.0,72.2 113.2,72.7C114.4,73.2 115.6,73.9 116.6,74.7C117.7,75.4 118.7,76.4 119.6,77.3C120.6,78.2 121.5,79.2 122.3,80.2C123.2,81.3 123.9,82.4 124.7,83.4C125.5,84.5 126.2,85.7 126.9,86.8C127.6,87.9 128.2,89.1 128.9,90.3C129.5,91.5 130.1,92.6 130.7,93.8C131.3,95.0 131.8,96.3 132.3,97.5C132.8,98.7 133.3,100.0 133.8,101.2C134.3,102.5 134.7,103.7 135.1,105.0C135.6,106.2 136.0,107.5 136.5,108.8C136.9,110.0 137.3,111.3 137.8,112.5C138.2,113.8 138.6,115.1 139.0,116.3C139.4,117.6 139.8,118.9 140.2,120.2C140.6,121.4 141.0,122.7 141.4,124.0C141.8,125.3 142.2,126.5 142.5,127.8C142.9,129.1 143.3,130.4 143.6,131.7C144.0,132.9 144.4,134.2 144.7,135.5C145.1,136.8 145.4,138.1 145.8,139.4C146.1,140.7 146.5,142.0 146.8,143.2C147.2,144.5 147.5,145.8 147.8,147.1C148.1,148.4 148.5,149.7 148.8,151.0C149.1,152.3 149.3,153.6 149.6,154.9C149.9,156.2 150.2,157.5 150.4,158.8C150.7,160.1 150.9,161.5 151.2,162.8C151.5,164.1 151.8,165.4 152.1,166.7C152.4,168.0 152.7,169.3 153.0,170.6C153.3,171.9 153.7,173.2 154.0,174.4C154.4,175.7 154.7,177.0 155.1,178.3C155.5,179.5 156.0,180.8 156.4,182.1C156.9,183.3 157.3,184.6 157.9,185.8C158.4,187.0 159.0,188.2 159.6,189.4C160.3,190.5 161.0,191.7 161.9,192.6C162.8,193.6 163.7,194.5 164.9,195.1C165.9,195.6 167.3,196.0 168.5,195.9C169.7,195.8 170.9,195.3 172.0,194.6C173.0,193.9 173.9,192.9 174.7,191.9C175.5,190.8 176.2,189.7 176.8,188.5C177.5,187.3 178.0,186.1 178.5,184.9C179.0,183.6 179.5,182.4 179.9,181.1C180.3,179.9 180.8,178.6 181.2,177.3C181.5,176.0 181.9,174.8 182.2,173.5C182.6,172.2 182.9,170.9 183.2,169.6C183.5,168.3 183.9,167.0 184.1,165.7C184.4,164.4 184.7,163.1 185.0,161.8C185.3,160.5 185.5,159.2 185.8,157.9C186.0,156.6 186.3,155.2 186.6,153.9C186.9,152.6 187.2,151.3 187.5,150.0C187.8,148.7 188.1,147.4 188.4,146.2C188.8,144.9 189.1,143.6 189.4,142.3C189.8,141.0 190.1,139.7 190.5,138.4C190.8,137.1 191.2,135.8 191.5,134.6C191.9,133.3 192.3,132.0 192.6,130.7C193.0,129.4 193.4,128.1 193.7,126.9C194.1,125.6 194.5,124.3 194.9,123.0C195.3,121.7 195.7,120.5 196.1,119.2C196.5,117.9 196.9,116.7 197.3,115.4C197.7,114.1 198.1,112.9 198.6,111.6C199.0,110.3 199.4,109.1 199.9,107.8C200.3,106.5 200.7,105.3 201.2,104.0C201.6,102.8 202.1,101.5 202.6,100.3C203.0,99.0 203.5,97.8 204.1,96.6C204.6,95.3 205.2,94.1 205.8,92.9C206.4,91.7 207.0,90.6 207.6,89.4C208.3,88.2 208.9,87.1 209.6,86.0C210.4,84.8 211.1,83.7 211.9,82.6C212.6,81.6 213.5,80.5 214.3,79.5C215.2,78.5 216.1,77.5 217.1,76.6C218.0,75.7 219.1,74.8 220.2,74.1C221.3,73.4 222.5,72.8 223.7,72.4C224.9,72.0 226.3,71.7 227.6,71.7C228.9,71.6 230.2,71.8 231.5,72.1C232.7,72.4 234.0,73.0 235.1,73.6C236.3,74.2 237.4,74.9 238.5,75.7C239.5,76.6 240.5,77.4 241.5,78.4C242.4,79.3 243.3,80.4 244.1,81.4C244.9,82.4 245.7,83.5 246.5,84.6C247.2,85.7 247.9,86.8 248.6,88.0C249.3,89.1 249.9,90.3 250.5,91.5C251.1,92.7 251.7,93.9 252.3,95.1C252.8,96.3 253.4,97.5 253.9,98.7C254.5,99.9 255.1,101.1 255.6,102.4C256.1,103.6 256.6,104.8 257.2,106.1C257.7,107.3 258.2,108.5 258.6,109.8C259.1,111.0 259.6,112.3 260.1,113.5C260.6,114.7 261.0,116.0 261.5,117.3C261.9,118.5 262.4,119.8 262.9,121.0C263.3,122.3 263.7,123.5 264.2,124.8C264.6,126.0 265.0,127.3 265.5,128.6C265.9,129.8 266.3,131.1 266.7,132.4C267.1,133.6 267.5,134.9 268.0,136.2C268.4,137.5 268.8,138.7 269.2,140.0C269.6,141.3 270.0,142.5 270.4,143.8C270.8,145.1 271.2,146.3 271.7,147.6C272.1,148.9 272.5,150.1 272.9,151.4C273.3,152.7 273.7,154.0 274.1,155.2C274.5,156.5 274.8,157.8 275.2,159.1C275.6,160.4 276.0,161.6 276.4,162.9C276.7,164.2 277.1,165.5 277.5,166.8C277.8,168.0 278.2,169.3 278.6,170.6C278.9,171.9 279.3,173.2 279.7,174.5C280.0,175.7 280.4,177.0 280.7,178.3C281.1,179.6 281.4,180.9 281.7,182.2C282.1,183.5 282.4,184.8 282.7,186.1C283.1,187.4 283.4,188.6 283.7,189.9C284.1,191.2 284.4,192.5 284.7,193.8C285.0,195.1 285.4,196.4 285.7,197.7C286.0,199.0 286.3,200.3 286.6,201.6C286.9,202.9 287.3,204.2 287.6,205.5C287.9,206.8 288.2,208.1 288.5,209.4C288.8,210.7 289.1,212.0 289.5,213.3C289.8,214.6 290.1,215.9 290.4,217.1C290.7,218.4 291.1,219.7 291.4,221.0C291.7,222.3 292.0,223.6 292.4,224.9C292.7,226.2 293.0,227.5 293.4,228.8C293.7,230.1 294.0,231.4 294.4,232.7C294.7,233.9 295.1,235.2 295.4,236.5C295.8,237.8 296.1,239.1 296.5,240.4C296.8,241.7 297.2,242.9 297.6,244.2C298.0,245.5 298.3,246.8 298.7,248.1C299.1,249.3 299.5,250.6 299.9,251.9C300.3,253.2 300.7,254.4 301.1,255.7C301.5,257.0 301.9,258.3 302.3,259.5C302.7,260.8 303.2,262.1 303.6,263.3C304.0,264.6 304.4,265.9 304.8,267.1C305.3,268.4 305.7,269.6 306.1,270.9C306.6,272.2 307.0,273.4 307.4,274.7C307.9,276.0 308.3,277.2 308.7,278.5C309.2,279.7 309.6,281.0 310.1,282.3C310.5,283.5 310.9,284.8 311.4,286.0C311.8,287.3 312.3,288.6 312.7,289.8C313.1,291.1 313.6,292.3 314.0,293.6C314.5,294.9 314.9,296.1 315.3,297.4C315.8,298.6 316.2,299.9 316.6,301.2C317.0,302.1 317.3,303.1 317.6,304.0" stroke="#e00410"/>
<path d="M18.4,304.0C18.7,302.7 19.1,301.4 19.4,300.1C19.8,298.9 20.1,297.6 20.5,296.3C20.8,295.0 21.2,293.7 21.5,292.4C21.9,291.1 22.2,289.8 22.6,288.6C22.9,287.3 23.3,286.0 23.6,284.7C24.0,283.4 24.3,282.1 24.7,280.8C25.0,279.5 25.4,278.3 25.7,277.0C26.1,275.7 26.4,274.4 26.8,273.1C27.1,271.8 27.5,270.5 27.8,269.2C28.2,268.0 28.5,266.7 28.9,265.4C29.2,264.1 29.6,262.8 29.9,261.5C30.3,260.2 30.6,258.9 31.0,257.7C31.3,256.4 31.6,255.1 32.0,253.8C32.3,252.5 32.7,251.2 33.0,249.9C33.4,248.6 33.7,247.3 34.1,246.1C34.4,244.8 34.7,243.5 35.1,242.2C35.4,240.9 35.8,239.6 36.1,238.3C36.4,237.0 36.8,235.7 37.1,234.4C37.5,233.2 37.8,231.9 38.1,230.6C38.5,229.3 38.8,228.0 39.2,226.7C39.5,225.4 39.8,224.1 40.2,222.8C40.5,221.5 40.9,220.3 41.2,219.0C41.5,217.7 41.9,216.4 42.2,215.1C42.5,213.8 42.9,212.5 43.2,211.2C43.5,209.9 43.9,208.6 44.2,207.4C44.6,206.1 44.9,204.8 45.2,203.5C45.6,202.2 45.9,200.9 46.2,199.6C46.6,198.3 46.9,197.0 47.2,195.7C47.6,194.4 47.9,193.2 48.2,191.9C48.6,190.6 48.9,189.3 49.2,188.0C49.6,186.7 49.9,185.4 50.2,184.1C50.6,182.8 50.9,181.5 51.3,180.2C51.6,178.9 51.9,177.7 52.3,176.4C52.6,175.1 52.9,173.8 53.3,172.5C53.6,171.2 53.9,169.9 54.3,168.6C54.6,167.3 54.9,166.0 55.2,164.7C55.6,163.4 55.9,162.2 56.2,160.9C56.6,159.6 56.9,158.3 57.2,157.0C57.6,155.7 57.9,154.4 58.3,153.1C58.7,151.8 59.0,150.6 59.4,149.3C59.8,148.0 60.2,146.7 60.5,145.5C60.9,144.2 61.3,142.9 61.7,141.6C62.1,140.4 62.5,139.1 62.9,137.8C63.3,136.5 63.7,135.3 64.2,134.0C64.6,132.7 65.0,131.5 65.4,130.2C65.8,128.9 66.3,127.7 66.7,126.4C67.1,125.1 67.5,123.9 68.0,122.6C68.4,121.4 68.8,120.1 69.3,118.8C69.7,117.6 70.1,116.3 70.6,115.1C71.0,113.8 71.5,112.5 71.9,111.3C72.4,110.0 72.9,108.8 73.3,107.5C73.8,106.3 74.3,105.1 74.8,103.8C75.3,102.6 75.8,101.4 76.3,100.1C76.9,98.9 77.4,97.7 77.9,96.5C78.5,95.2 79.0,94.0 79.6,92.8C80.2,91.6 80.8,90.4 81.4,89.2C82.0,88.1 82.6,86.9 83.3,85.7C83.9,84.5 84.6,83.4 85.3,82.2C86.0,81.1 86.7,80.0 87.4,78.9C88.2,77.8 88.9,76.7 89.7,75.6C90.6,74.6 91.4,73.5 92.3,72.6C93.2,71.6 94.1,70.6 95.1,69.8C96.2,68.9 97.2,68.1 98.3,67.4C99.4,66.7 100.7,66.1 101.9,65.7C103.1,65.3 104.5,65.0 105.8,64.9C107.1,64.8 108.4,64.9 109.7,65.1C111.0,65.4 112.2,65.8 113.4,66.4C114.6,67.0 115.7,67.7 116.7,68.6C117.7,69.4 118.7,70.4 119.5,71.4C120.4,72.3 121.2,73.4 122.0,74.5C122.8,75.6 123.5,76.7 124.1,77.9C124.8,79.0 125.5,80.2 126.1,81.3C126.8,82.5 127.4,83.7 128.0,84.9C128.6,86.1 129.2,87.3 129.7,88.5C130.3,89.7 130.9,90.9 131.4,92.1C131.9,93.3 132.5,94.6 133.0,95.8C133.5,97.0 134.0,98.3 134.4,99.5C134.9,100.8 135.4,102.0 135.8,103.3C136.3,104.5 136.8,105.8 137.2,107.0C137.6,108.3 138.1,109.5 138.5,110.8C139.0,112.1 139.4,113.3 139.8,114.6C140.2,115.9 140.6,117.1 141.0,118.4C141.4,119.7 141.8,121.0 142.2,122.2C142.6,123.5 143.0,124.8 143.3,126.1C143.7,127.4 144.1,128.6 144.4,129.9C144.8,131.2 145.1,132.5 145.5,133.8C145.8,135.1 146.1,136.4 146.4,137.7C146.8,139.0 147.1,140.3 147.4,141.6C147.7,142.8 148.0,144.1 148.3,145.4C148.6,146.7 148.9,148.0 149.2,149.3C149.5,150.6 149.8,152.0 150.1,153.3C150.3,154.6 150.6,155.9 150.9,157.2C151.1,158.5 151.4,159.8 151.7,161.1C151.9,162.4 152.2,163.7 152.5,165.0C152.8,166.3 153.1,167.6 153.4,168.9C153.7,170.2 154.1,171.5 154.4,172.8C154.8,174.1 155.2,175.3 155.6,176.6C156.0,177.9 156.4,179.1 156.8,180.4C157.3,181.6 157.8,182.9 158.3,184.1C158.8,185.3 159.4,186.6 160.0,187.7C160.7,188.9 161.4,190.0 162.3,191.0C163.1,192.0 164.0,193.0 165.2,193.5C166.2,194.1 167.5,194.4 168.7,194.3C169.8,194.2 171.1,193.5 172.0,192.7C173.1,192.0 173.9,190.9 174.6,189.8C175.4,188.8 176.1,187.6 176.7,186.4C177.3,185.2 177.8,184.0 178.3,182.7C178.8,181.5 179.2,180.2 179.7,179.0C180.1,177.7 180.5,176.5 180.9,175.2C181.3,173.9 181.6,172.6 182.0,171.3C182.3,170.0 182.6,168.7 182.9,167.4C183.3,166.1 183.6,164.8 183.8,163.5C184.1,162.2 184.4,160.9 184.6,159.6C184.9,158.3 185.2,157.0 185.4,155.7C185.7,154.4 186.0,153.1 186.3,151.8C186.5,150.5 186.8,149.2 187.1,147.9C187.4,146.6 187.7,145.3 188.0,144.0C188.3,142.7 188.6,141.4 189.0,140.1C189.3,138.8 189.6,137.5 189.9,136.2C190.2,134.9 190.6,133.6 190.9,132.3C191.3,131.0 191.6,129.8 192.0,128.5C192.3,127.2 192.7,125.9 193.1,124.6C193.5,123.4 193.8,122.1 194.2,120.8C194.6,119.5 195.0,118.3 195.4,117.0C195.8,115.7 196.3,114.4 196.7,113.2C197.1,111.9 197.5,110.6 198.0,109.4C198.4,108.1 198.9,106.9 199.3,105.6C199.8,104.4 200.2,103.1 200.7,101.9C201.1,100.6 201.6,99.4 202.1,98.1C202.6,96.9 203.1,95.6 203.6,94.4C204.1,93.2 204.7,92.0 205.2,90.8C205.8,89.5 206.3,88.3 206.9,87.1C207.5,85.9 208.1,84.7 208.7,83.5C209.3,82.4 209.9,81.2 210.6,80.0C211.3,78.9 211.9,77.7 212.6,76.6C213.4,75.5 214.1,74.3 214.9,73.3C215.7,72.2 216.5,71.2 217.5,70.3C218.4,69.3 219.4,68.4 220.5,67.7C221.6,66.9 222.7,66.3 224.0,65.8C225.2,65.3 226.5,65.0 227.8,64.9C229.1,64.8 230.4,64.8 231.7,65.1C233.0,65.3 234.3,65.7 235.5,66.2C236.7,66.7 237.8,67.4 238.9,68.2C240.0,69.0 241.0,69.9 242.0,70.8C242.9,71.7 243.8,72.7 244.7,73.7C245.6,74.7 246.4,75.7 247.1,76.8C247.9,77.9 248.7,79.0 249.4,80.1C250.1,81.2 250.8,82.4 251.5,83.5C252.2,84.7 252.8,85.8 253.4,87.0C254.1,88.2 254.7,89.4 255.3,90.6C255.9,91.8 256.5,93.0 257.0,94.2C257.6,95.4 258.1,96.6 258.7,97.8C259.2,99.1 259.7,100.3 260.2,101.5C260.7,102.7 261.2,104.0 261.7,105.2C262.2,106.5 262.7,107.7 263.2,108.9C263.7,110.2 264.1,111.4 264.6,112.7C265.0,114.0 265.5,115.2 265.9,116.5C266.4,117.7 266.8,119.0 267.2,120.3C267.7,121.5 268.1,122.8 268.5,124.0C268.9,125.3 269.4,126.6 269.8,127.8C270.2,129.1 270.6,130.4 271.1,131.6C271.5,132.9 271.9,134.2 272.3,135.4C272.7,136.7 273.1,138.0 273.5,139.2C273.9,140.5 274.3,141.8 274.7,143.1C275.1,144.3 275.5,145.6 275.9,146.9C276.3,148.2 276.6,149.4 277.0,150.7C277.4,152.0 277.8,153.3 278.1,154.6C278.5,155.9 278.8,157.1 279.2,158.4C279.5,159.7 279.8,161.0 280.2,162.3C280.5,163.6 280.8,164.9 281.1,166.2C281.5,167.5 281.8,168.8 282.1,170.1C282.5,171.4 282.8,172.7 283.1,173.9C283.5,175.2 283.8,176.5 284.1,177.8C284.5,179.1 284.8,180.4 285.1,181.7C285.5,183.0 285.8,184.3 286.1,185.6C286.5,186.9 286.8,188.1 287.1,189.4C287.5,190.7 287.8,192.0 288.1,193.3C288.5,194.6 288.8,195.9 289.1,197.2C289.5,198.5 289.8,199.8 290.1,201.1C290.5,202.4 290.8,203.6 291.2,204.9C291.5,206.2 291.8,207.5 292.2,208.8C292.5,210.1 292.8,211.4 293.2,212.7C293.5,214.0 293.8,215.3 294.2,216.5C294.5,217.8 294.9,219.1 295.2,220.4C295.5,221.7 295.9,223.0 296.2,224.3C296.5,225.6 296.9,226.9 297.2,228.2C297.6,229.5 297.9,230.7 298.2,232.0C298.6,233.3 298.9,234.6 299.3,235.9C299.6,237.2 299.9,238.5 300.3,239.8C300.6,241.1 301.0,242.3 301.3,243.6C301.6,244.9 302.0,246.2 302.3,247.5C302.7,248.8 303.0,250.1 303.4,251.4C303.7,252.7 304.1,253.9 304.4,255.2C304.7,256.5 305.1,257.8 305.4,259.1C305.8,260.4 306.1,261.7 306.5,263.0C306.8,264.3 307.2,265.5 307.5,266.8C307.9,268.1 308.2,269.4 308.6,270.7C308.9,272.0 309.3,273.3 309.6,274.6C310.0,275.8 310.3,277.1 310.7,278.4C311.0,279.7 311.4,281.0 311.7,282.3C312.1,283.6 312.4,284.9 312.8,286.1C313.1,287.4 313.5,288.7 313.8,290.0C314.2,291.3 314.5,292.6 314.9,293.9C315.2,295.1 315.6,296.4 315.9,297.7C316.2,299.0 316.6,300.3 316.9,301.6C317.2,302.4 317.4,303.2 317.6,304.0" stroke="#0c1c7c"/>
</g>
<g class="c" stroke-width="3.4">
<path d="M333.8,303.2C334.2,301.9 334.6,300.7 335.0,299.4C335.4,298.1 335.8,296.9 336.2,295.6C336.7,294.3 337.1,293.0 337.5,291.8C337.9,290.5 338.3,289.2 338.7,288.0C339.1,286.7 339.5,285.4 339.9,284.2C340.3,282.9 340.7,281.6 341.2,280.3C341.6,279.1 342.0,277.8 342.4,276.5C342.8,275.3 343.2,274.0 343.6,272.7C344.0,271.5 344.4,270.2 344.8,268.9C345.2,267.6 345.6,266.4 346.1,265.1C346.5,263.8 346.9,262.6 347.3,261.3C347.7,260.0 348.1,258.8 348.5,257.5C348.9,256.2 349.3,254.9 349.7,253.7C350.1,252.4 350.5,251.1 350.9,249.9C351.3,248.6 351.7,247.3 352.1,246.0C352.5,244.8 352.9,243.5 353.3,242.2C353.7,241.0 354.1,239.7 354.5,238.4C354.9,237.1 355.3,235.9 355.7,234.6C356.2,233.3 356.6,232.1 357.0,230.8C357.5,229.5 357.9,228.3 358.4,227.0C358.8,225.8 359.3,224.5 359.8,223.3C360.2,222.0 360.7,220.8 361.2,219.6C361.7,218.3 362.2,217.1 362.7,215.9C363.2,214.6 363.8,213.4 364.3,212.2C364.8,211.0 365.4,209.7 365.9,208.5C366.5,207.3 367.0,206.1 367.5,204.9C368.1,203.6 368.6,202.4 369.2,201.2C369.7,200.0 370.3,198.8 370.8,197.5C371.3,196.3 371.7,195.1 372.2,193.8C372.6,192.5 373.0,191.3 373.4,190.0C373.8,188.7 374.2,187.4 374.6,186.2C375.0,184.9 375.3,183.6 375.7,182.3C376.1,181.0 376.4,179.8 376.9,178.5C377.4,177.3 377.9,176.0 378.5,174.9C379.1,173.7 379.9,172.6 380.7,171.6C381.6,170.7 382.7,169.8 383.8,169.2C384.9,168.5 386.2,168.1 387.4,167.8C388.7,167.5 390.1,167.5 391.4,167.5C392.7,167.5 394.0,167.7 395.3,167.8C396.7,167.9 398.0,168.1 399.3,168.0C400.6,168.0 402.0,167.8 403.3,167.6C404.6,167.3 405.8,166.9 407.0,166.4C408.3,165.8 409.4,165.1 410.5,164.5C411.7,163.8 412.8,163.1 414.0,162.4C415.1,161.8 416.3,161.1 417.5,160.6C418.7,160.1 420.0,159.6 421.3,159.4C422.6,159.1 423.9,158.9 425.2,159.0C426.5,159.0 427.8,159.3 429.0,159.7C430.3,160.2 431.4,160.8 432.6,161.5C433.7,162.2 434.7,163.0 435.8,163.8C436.8,164.6 437.9,165.5 438.9,166.3C440.0,167.1 441.1,167.9 442.2,168.5C443.4,169.2 444.6,169.7 445.9,170.2C447.1,170.6 448.4,170.9 449.7,171.2C451.0,171.4 452.3,171.6 453.7,171.8C455.0,171.9 456.3,172.0 457.6,172.0C459.0,172.1 460.3,172.1 461.6,172.1C463.0,172.1 464.3,172.1 465.6,172.1C467.0,172.1 468.3,172.1 469.6,172.1C471.0,172.1 472.3,172.0 473.6,172.0C475.0,172.0 476.3,171.9 477.6,171.9C479.0,171.9 480.3,171.9 481.6,171.9C483.0,171.9 484.3,171.9 485.7,171.9C487.0,171.9 488.3,171.9 489.7,171.9C491.0,172.0 492.3,172.0 493.7,172.0C495.0,172.0 496.3,172.1 497.7,172.1C499.0,172.1 500.3,172.1 501.7,172.1C503.0,172.1 504.3,172.1 505.7,172.1C507.0,172.1 508.3,172.1 509.7,172.0C511.0,171.9 512.3,171.9 513.6,171.7C515.0,171.6 516.3,171.4 517.6,171.1C518.9,170.8 520.2,170.5 521.4,170.0C522.6,169.5 523.8,168.9 525.0,168.3C526.1,167.6 527.2,166.8 528.3,166.0C529.3,165.2 530.3,164.3 531.4,163.5C532.5,162.7 533.5,161.9 534.7,161.2C535.8,160.6 537.0,160.0 538.2,159.6C539.5,159.2 540.8,159.0 542.1,159.0C543.4,158.9 544.7,159.2 546.0,159.5C547.3,159.8 548.5,160.3 549.7,160.8C551.0,161.3 552.1,162.0 553.3,162.7C554.4,163.3 555.5,164.1 556.7,164.7C557.8,165.4 559.0,166.1 560.2,166.6C561.4,167.0 562.7,167.4 564.0,167.7C565.3,167.9 566.7,168.0 568.0,168.0C569.3,168.0 570.6,167.9 571.9,167.8C573.3,167.7 574.6,167.4 575.9,167.5C577.2,167.5 578.6,167.6 579.8,167.9C581.1,168.2 582.3,168.7 583.4,169.4C584.5,170.1 585.5,171.0 586.4,172.0C587.2,173.0 587.9,174.2 588.5,175.3C589.1,176.5 589.6,177.7 590.1,179.0C590.5,180.2 590.9,181.5 591.3,182.8C591.6,184.1 592.0,185.4 592.4,186.6C592.7,187.9 593.1,189.2 593.5,190.5C593.9,191.7 594.3,193.0 594.8,194.3C595.2,195.5 595.7,196.8 596.2,198.0C596.7,199.2 597.3,200.4 597.8,201.7C598.4,202.9 598.9,204.1 599.5,205.3C600.0,206.5 600.6,207.8 601.1,209.0C601.6,210.2 602.2,211.4 602.7,212.6C603.2,213.9 603.8,215.1 604.3,216.3C604.8,217.5 605.3,218.8 605.8,220.0C606.3,221.3 606.8,222.5 607.2,223.8C607.7,225.0 608.1,226.3 608.6,227.5C609.1,228.8 609.5,230.0 609.9,231.3C610.4,232.5 610.8,233.8 611.2,235.1C611.6,236.3 612.0,237.6 612.4,238.9C612.8,240.2 613.2,241.4 613.6,242.7C614.0,244.0 614.4,245.3 614.8,246.5C615.2,247.8 615.6,249.1 616.0,250.3C616.4,251.6 616.8,252.9 617.2,254.2C617.6,255.4 618.0,256.7 618.5,258.0C618.9,259.2 619.3,260.5 619.7,261.8C620.1,263.0 620.5,264.3 620.9,265.6C621.3,266.9 621.7,268.1 622.1,269.4C622.5,270.7 622.9,271.9 623.4,273.2C623.8,274.5 624.2,275.7 624.6,277.0C625.0,278.3 625.4,279.6 625.8,280.8C626.2,282.1 626.6,283.4 627.0,284.6C627.4,285.9 627.8,287.2 628.3,288.4C628.7,289.7 629.1,291.0 629.5,292.2C629.9,293.5 630.3,294.8 630.7,296.1C631.1,297.3 631.5,298.6 631.9,299.9C632.3,301.0 632.6,302.1 633.0,303.2" stroke="#951e82"/>
<path d="M333.8,303.2C334.2,301.9 334.6,300.7 335.0,299.4C335.4,298.1 335.8,296.9 336.2,295.6C336.7,294.3 337.1,293.0 337.5,291.8C337.9,290.5 338.3,289.2 338.7,288.0C339.1,286.7 339.5,285.4 339.9,284.2C340.3,282.9 340.7,281.6 341.2,280.3C341.6,279.1 342.0,277.8 342.4,276.5C342.8,275.3 343.2,274.0 343.6,272.7C344.0,271.5 344.4,270.2 344.8,268.9C345.2,267.7 345.6,266.4 346.0,265.1C346.5,263.8 346.9,262.6 347.3,261.3C347.7,260.0 348.1,258.8 348.5,257.5C348.9,256.2 349.3,255.0 349.7,253.7C350.1,252.4 350.5,251.1 350.9,249.9C351.3,248.6 351.7,247.3 352.1,246.1C352.5,244.8 352.9,243.5 353.3,242.2C353.7,241.0 354.1,239.7 354.5,238.4C354.9,237.1 355.3,235.9 355.7,234.6C356.2,233.3 356.6,232.1 357.0,230.8C357.5,229.6 357.9,228.3 358.4,227.1C358.8,225.8 359.3,224.5 359.7,223.3C360.2,222.1 360.7,220.8 361.2,219.6C361.7,218.3 362.2,217.1 362.7,215.9C363.2,214.6 363.8,213.4 364.3,212.2C364.8,211.0 365.4,209.8 365.9,208.5C366.4,207.3 367.0,206.1 367.5,204.9C368.0,203.6 368.6,202.4 369.1,201.2C369.6,200.0 370.2,198.7 370.7,197.5C371.2,196.3 371.8,195.1 372.3,193.9C372.8,192.6 373.4,191.4 373.9,190.2C374.5,189.0 375.1,187.8 375.7,186.6C376.3,185.4 376.9,184.2 377.5,183.1C378.2,181.9 378.9,180.8 379.6,179.6C380.3,178.5 381.0,177.4 381.8,176.3C382.6,175.2 383.4,174.2 384.2,173.1C385.1,172.1 385.9,171.1 386.8,170.1C387.7,169.1 388.6,168.1 389.5,167.1C390.3,166.1 391.2,165.0 392.0,164.0C392.8,162.9 393.6,161.8 394.3,160.7C395.1,159.7 395.8,158.5 396.6,157.4C397.3,156.3 398.1,155.2 398.8,154.1C399.5,153.0 400.2,151.9 401.0,150.8C401.7,149.7 402.5,148.5 403.3,147.5C404.1,146.4 404.9,145.4 405.8,144.4C406.7,143.4 407.7,142.5 408.7,141.6C409.7,140.8 410.8,140.0 411.9,139.4C413.1,138.8 414.3,138.2 415.6,138.0C416.9,137.7 418.2,137.6 419.5,137.7C420.8,137.9 422.1,138.3 423.2,138.8C424.4,139.4 425.5,140.2 426.4,141.1C427.4,142.0 428.2,143.1 429.0,144.1C429.7,145.2 430.4,146.3 431.1,147.5C431.8,148.6 432.5,149.8 433.1,151.0C433.7,152.1 434.3,153.3 435.0,154.5C435.6,155.7 436.2,156.9 436.8,158.1C437.4,159.2 438.0,160.4 438.7,161.6C439.4,162.7 440.0,163.9 440.8,165.0C441.6,166.0 442.3,167.1 443.3,168.0C444.3,168.9 445.3,169.7 446.5,170.3C447.6,170.9 448.9,171.3 450.2,171.5C451.5,171.8 452.8,171.8 454.1,171.8C455.5,171.9 456.8,171.8 458.1,171.9C459.5,171.9 460.8,171.9 462.1,171.9C463.5,171.9 464.8,171.9 466.1,171.9C467.5,171.9 468.8,171.9 470.1,171.9C471.5,171.8 472.8,171.8 474.1,171.8C475.5,171.8 476.8,171.7 478.1,171.7C479.5,171.7 480.8,171.7 482.1,171.7C483.5,171.7 484.8,171.7 486.2,171.7C487.5,171.7 488.8,171.7 490.2,171.7C491.5,171.8 492.8,171.8 494.2,171.8C495.5,171.8 496.8,171.9 498.2,171.9C499.5,171.9 500.8,171.9 502.2,171.9C503.5,171.9 504.8,171.9 506.2,171.9C507.5,171.9 508.8,171.9 510.2,171.8C511.5,171.8 512.8,171.9 514.1,171.8C515.4,171.7 516.8,171.6 518.0,171.2C519.3,170.8 520.5,170.3 521.6,169.5C522.7,168.8 523.6,167.9 524.5,166.9C525.4,166.0 526.1,164.8 526.8,163.7C527.6,162.6 528.2,161.4 528.9,160.3C529.5,159.1 530.1,157.9 530.7,156.7C531.3,155.5 531.9,154.3 532.5,153.2C533.2,152.0 533.8,150.8 534.4,149.6C535.1,148.5 535.7,147.3 536.5,146.2C537.2,145.1 537.9,143.9 538.7,142.9C539.6,141.9 540.5,140.9 541.5,140.1C542.5,139.3 543.7,138.7 544.9,138.3C546.1,137.9 547.5,137.7 548.8,137.7C550.1,137.7 551.4,138.0 552.6,138.4C553.8,138.8 555.0,139.4 556.1,140.1C557.2,140.9 558.3,141.7 559.2,142.6C560.2,143.5 561.1,144.5 562.0,145.5C562.8,146.5 563.6,147.6 564.4,148.7C565.2,149.8 565.9,150.9 566.6,152.0C567.4,153.1 568.1,154.2 568.8,155.4C569.6,156.5 570.3,157.6 571.1,158.7C571.8,159.8 572.6,160.9 573.3,162.0C574.1,163.0 574.9,164.1 575.7,165.2C576.6,166.2 577.5,167.2 578.3,168.2C579.2,169.2 580.1,170.2 581.0,171.2C581.8,172.2 582.7,173.3 583.5,174.3C584.3,175.4 585.1,176.4 585.9,177.5C586.6,178.6 587.3,179.8 588.0,180.9C588.7,182.1 589.3,183.2 590.0,184.4C590.6,185.6 591.2,186.8 591.8,188.0C592.4,189.2 592.9,190.4 593.5,191.6C594.0,192.8 594.6,194.0 595.1,195.2C595.6,196.5 596.2,197.7 596.7,198.9C597.2,200.1 597.8,201.3 598.3,202.6C598.8,203.8 599.4,205.0 599.9,206.2C600.4,207.5 601.0,208.7 601.5,209.9C602.0,211.1 602.6,212.3 603.1,213.6C603.6,214.8 604.2,216.0 604.7,217.2C605.2,218.5 605.7,219.7 606.2,221.0C606.6,222.2 607.1,223.5 607.6,224.7C608.0,226.0 608.5,227.2 608.9,228.5C609.4,229.7 609.8,231.0 610.3,232.2C610.7,233.5 611.1,234.8 611.5,236.0C611.9,237.3 612.3,238.6 612.7,239.9C613.1,241.1 613.5,242.4 613.9,243.7C614.3,244.9 614.7,246.2 615.1,247.5C615.5,248.8 615.9,250.0 616.3,251.3C616.7,252.6 617.1,253.8 617.5,255.1C617.9,256.4 618.4,257.7 618.8,258.9C619.2,260.2 619.6,261.5 620.0,262.7C620.4,264.0 620.8,265.3 621.2,266.5C621.6,267.8 622.0,269.1 622.4,270.4C622.8,271.6 623.2,272.9 623.7,274.2C624.1,275.4 624.5,276.7 624.9,278.0C625.3,279.2 625.7,280.5 626.1,281.8C626.5,283.0 626.9,284.3 627.3,285.6C627.7,286.9 628.2,288.1 628.6,289.4C629.0,290.7 629.4,291.9 629.8,293.2C630.2,294.5 630.6,295.7 631.0,297.0C631.4,298.3 631.8,299.5 632.2,300.8C632.5,301.6 632.7,302.4 633.0,303.2" stroke="#f2560e"/>
<path d="M333.8,303.2C334.2,301.9 334.6,300.6 334.9,299.4C335.3,298.1 335.7,296.8 336.1,295.5C336.5,294.2 336.8,293.0 337.2,291.7C337.6,290.4 338.0,289.1 338.3,287.9C338.7,286.6 339.1,285.3 339.5,284.0C339.8,282.7 340.2,281.5 340.6,280.2C341.0,278.9 341.4,277.6 341.7,276.3C342.1,275.1 342.5,273.8 342.9,272.5C343.3,271.2 343.6,270.0 344.0,268.7C344.4,267.4 344.8,266.1 345.1,264.8C345.5,263.6 345.9,262.3 346.3,261.0C346.7,259.7 347.1,258.5 347.4,257.2C347.8,255.9 348.2,254.6 348.6,253.3C349.0,252.1 349.4,250.8 349.7,249.5C350.1,248.2 350.5,247.0 350.9,245.7C351.3,244.4 351.7,243.1 352.0,241.8C352.4,240.6 352.8,239.3 353.2,238.0C353.6,236.7 354.0,235.5 354.4,234.2C354.8,232.9 355.2,231.7 355.6,230.4C356.0,229.1 356.4,227.8 356.8,226.6C357.3,225.3 357.7,224.1 358.1,222.8C358.6,221.5 359.0,220.3 359.5,219.0C359.9,217.8 360.4,216.5 360.8,215.3C361.3,214.0 361.7,212.7 362.1,211.5C362.6,210.2 363.0,209.0 363.5,207.7C363.9,206.5 364.4,205.2 364.8,203.9C365.2,202.7 365.7,201.4 366.1,200.2C366.6,198.9 367.0,197.6 367.4,196.4C367.9,195.1 368.3,193.9 368.8,192.6C369.2,191.4 369.7,190.1 370.1,188.9C370.6,187.6 371.0,186.3 371.5,185.1C371.9,183.8 372.4,182.6 372.9,181.3C373.3,180.1 373.8,178.8 374.2,177.6C374.7,176.3 375.1,175.1 375.6,173.8C376.0,172.6 376.5,171.3 376.9,170.0C377.4,168.8 377.8,167.5 378.3,166.3C378.7,165.0 379.1,163.7 379.5,162.5C380.0,161.2 380.4,159.9 380.8,158.7C381.2,157.4 381.6,156.1 382.0,154.9C382.5,153.6 382.9,152.3 383.3,151.1C383.7,149.8 384.2,148.6 384.6,147.3C385.0,146.0 385.5,144.8 385.9,143.5C386.4,142.3 386.8,141.0 387.3,139.8C387.7,138.5 388.2,137.3 388.7,136.0C389.2,134.8 389.7,133.5 390.2,132.3C390.7,131.1 391.2,129.8 391.8,128.6C392.3,127.4 392.9,126.2 393.5,125.0C394.1,123.8 394.7,122.6 395.4,121.5C396.0,120.3 396.7,119.2 397.4,118.1C398.2,117.0 398.9,115.9 399.8,114.8C400.6,113.8 401.5,112.8 402.4,111.9C403.4,111.0 404.4,110.1 405.5,109.4C406.6,108.8 407.9,108.2 409.1,107.9C410.4,107.7 411.7,107.7 413.0,107.9C414.2,108.1 415.5,108.7 416.6,109.3C417.7,110.0 418.6,110.9 419.5,111.9C420.5,112.8 421.2,113.9 422.0,115.0C422.8,116.1 423.5,117.2 424.2,118.4C424.9,119.5 425.5,120.7 426.1,121.9C426.7,123.1 427.3,124.3 427.8,125.5C428.4,126.7 428.9,127.9 429.4,129.1C430.0,130.4 430.4,131.6 430.9,132.8C431.4,134.1 431.9,135.3 432.4,136.6C432.9,137.8 433.3,139.1 433.8,140.3C434.3,141.6 434.7,142.8 435.2,144.1C435.6,145.3 436.1,146.6 436.5,147.8C437.0,149.1 437.5,150.3 437.9,151.6C438.4,152.8 438.9,154.1 439.4,155.3C440.0,156.5 440.5,157.7 441.1,158.9C441.7,160.1 442.3,161.3 443.0,162.4C443.7,163.6 444.4,164.7 445.3,165.7C446.2,166.7 447.1,167.6 448.2,168.3C449.3,169.0 450.5,169.5 451.8,169.9C453.0,170.3 454.4,170.5 455.7,170.6C457.0,170.8 458.3,170.8 459.6,170.9C461.0,170.9 462.3,170.9 463.6,170.9C465.0,170.9 466.3,170.9 467.6,170.9C469.0,170.9 470.3,170.9 471.6,170.9C473.0,170.9 474.3,170.9 475.6,170.8C477.0,170.8 478.3,170.8 479.6,170.8C481.0,170.8 482.3,170.8 483.7,170.8C485.0,170.8 486.3,170.8 487.7,170.8C489.0,170.8 490.3,170.8 491.7,170.8C493.0,170.9 494.3,170.9 495.7,170.9C497.0,170.9 498.3,170.9 499.7,170.9C501.0,170.9 502.3,170.9 503.7,170.9C505.0,170.9 506.3,170.9 507.6,170.9C509.0,170.8 510.3,170.8 511.6,170.6C512.9,170.4 514.3,170.2 515.5,169.8C516.7,169.4 517.9,168.8 519.0,168.0C520.0,167.3 521.0,166.3 521.8,165.3C522.7,164.3 523.4,163.1 524.1,162.0C524.7,160.9 525.3,159.7 525.9,158.5C526.5,157.3 527.0,156.1 527.5,154.8C528.1,153.6 528.6,152.4 529.0,151.1C529.5,149.9 530.0,148.6 530.4,147.4C530.9,146.1 531.3,144.9 531.8,143.6C532.3,142.4 532.7,141.1 533.2,139.9C533.7,138.6 534.1,137.4 534.6,136.1C535.1,134.9 535.6,133.6 536.1,132.4C536.5,131.1 537.0,129.9 537.6,128.7C538.1,127.4 538.6,126.2 539.2,125.0C539.7,123.8 540.3,122.6 540.9,121.4C541.6,120.3 542.2,119.1 542.9,117.9C543.6,116.8 544.3,115.7 545.1,114.6C545.9,113.5 546.7,112.5 547.6,111.5C548.5,110.6 549.5,109.7 550.7,109.1C551.8,108.5 553.1,108.0 554.3,107.8C555.6,107.6 556.9,107.7 558.2,108.1C559.4,108.4 560.6,109.0 561.7,109.7C562.8,110.4 563.8,111.3 564.7,112.2C565.7,113.2 566.5,114.2 567.3,115.2C568.2,116.3 568.9,117.4 569.6,118.5C570.4,119.6 571.0,120.8 571.7,121.9C572.4,123.1 573.0,124.3 573.6,125.5C574.2,126.6 574.7,127.9 575.2,129.1C575.8,130.3 576.3,131.5 576.8,132.8C577.3,134.0 577.8,135.2 578.3,136.5C578.8,137.7 579.2,139.0 579.7,140.2C580.2,141.5 580.6,142.7 581.1,144.0C581.5,145.2 581.9,146.5 582.4,147.8C582.8,149.0 583.2,150.3 583.7,151.6C584.1,152.8 584.5,154.1 584.9,155.4C585.3,156.6 585.7,157.9 586.2,159.2C586.6,160.4 587.0,161.7 587.4,163.0C587.8,164.2 588.3,165.5 588.7,166.7C589.1,168.0 589.6,169.3 590.0,170.5C590.5,171.8 590.9,173.0 591.4,174.3C591.8,175.5 592.3,176.8 592.7,178.0C593.2,179.3 593.7,180.5 594.1,181.8C594.6,183.1 595.0,184.3 595.5,185.6C595.9,186.8 596.4,188.1 596.8,189.3C597.3,190.6 597.7,191.8 598.2,193.1C598.6,194.3 599.1,195.6 599.5,196.9C600.0,198.1 600.4,199.4 600.8,200.6C601.3,201.9 601.7,203.2 602.2,204.4C602.6,205.7 603.0,206.9 603.5,208.2C603.9,209.4 604.4,210.7 604.8,212.0C605.3,213.2 605.7,214.5 606.2,215.7C606.6,217.0 607.0,218.2 607.5,219.5C607.9,220.8 608.4,222.0 608.8,223.3C609.3,224.5 609.7,225.8 610.1,227.1C610.5,228.3 611.0,229.6 611.4,230.9C611.8,232.1 612.2,233.4 612.6,234.7C613.0,235.9 613.4,237.2 613.8,238.5C614.1,239.8 614.5,241.0 614.9,242.3C615.3,243.6 615.7,244.9 616.0,246.2C616.4,247.4 616.8,248.7 617.2,250.0C617.6,251.3 618.0,252.5 618.4,253.8C618.7,255.1 619.1,256.4 619.5,257.7C619.9,258.9 620.3,260.2 620.7,261.5C621.0,262.8 621.4,264.0 621.8,265.3C622.2,266.6 622.6,267.9 622.9,269.2C623.3,270.4 623.7,271.7 624.1,273.0C624.4,274.3 624.8,275.5 625.2,276.8C625.6,278.1 626.0,279.4 626.3,280.7C626.7,281.9 627.1,283.2 627.5,284.5C627.8,285.8 628.2,287.1 628.6,288.3C629.0,289.6 629.4,290.9 629.7,292.2C630.1,293.5 630.5,294.7 630.9,296.0C631.2,297.3 631.6,298.6 632.0,299.8C632.3,301.0 632.7,302.1 633.0,303.2" stroke="#3e9e0c"/>
<path d="M333.8,303.2C334.1,301.9 334.4,300.6 334.7,299.3C335.1,298.0 335.4,296.7 335.7,295.4C336.0,294.1 336.3,292.8 336.7,291.5C337.0,290.2 337.3,289.0 337.6,287.7C338.0,286.4 338.3,285.1 338.6,283.8C338.9,282.5 339.2,281.2 339.6,279.9C339.9,278.6 340.2,277.3 340.5,276.0C340.8,274.7 341.2,273.4 341.5,272.1C341.8,270.8 342.1,269.5 342.4,268.2C342.7,266.9 343.1,265.6 343.4,264.3C343.7,263.0 344.0,261.7 344.3,260.4C344.6,259.1 344.9,257.9 345.2,256.6C345.5,255.3 345.8,254.0 346.1,252.6C346.4,251.3 346.7,250.0 347.0,248.7C347.3,247.4 347.5,246.1 347.8,244.8C348.1,243.5 348.4,242.2 348.7,240.9C348.9,239.6 349.2,238.3 349.5,237.0C349.8,235.7 350.1,234.4 350.3,233.1C350.6,231.8 350.9,230.5 351.2,229.2C351.5,227.9 351.7,226.6 352.0,225.3C352.3,224.0 352.6,222.7 352.8,221.3C353.1,220.0 353.4,218.7 353.7,217.4C353.9,216.1 354.2,214.8 354.5,213.5C354.7,212.2 355.0,210.9 355.3,209.6C355.6,208.3 355.8,207.0 356.1,205.7C356.4,204.4 356.6,203.1 356.9,201.8C357.2,200.5 357.5,199.1 357.7,197.8C358.0,196.5 358.3,195.2 358.5,193.9C358.8,192.6 359.1,191.3 359.4,190.0C359.7,188.7 359.9,187.4 360.2,186.1C360.5,184.8 360.8,183.5 361.1,182.2C361.4,180.9 361.6,179.6 361.9,178.3C362.2,177.0 362.5,175.7 362.8,174.4C363.1,173.1 363.4,171.8 363.7,170.5C364.0,169.2 364.3,167.9 364.6,166.6C364.9,165.3 365.2,164.0 365.6,162.7C365.9,161.4 366.2,160.1 366.5,158.8C366.8,157.5 367.2,156.2 367.5,154.9C367.8,153.6 368.1,152.3 368.5,151.0C368.8,149.7 369.1,148.4 369.4,147.2C369.8,145.9 370.1,144.6 370.4,143.3C370.7,142.0 371.0,140.7 371.4,139.4C371.7,138.1 372.0,136.8 372.3,135.5C372.6,134.2 372.9,132.9 373.2,131.6C373.6,130.3 373.9,129.0 374.2,127.7C374.5,126.4 374.9,125.1 375.2,123.8C375.5,122.6 375.9,121.3 376.2,120.0C376.6,118.7 376.9,117.4 377.3,116.1C377.6,114.8 378.0,113.5 378.3,112.3C378.7,111.0 379.0,109.7 379.4,108.4C379.8,107.1 380.2,105.8 380.6,104.6C380.9,103.3 381.4,102.0 381.8,100.8C382.2,99.5 382.7,98.2 383.1,97.0C383.6,95.7 384.0,94.5 384.5,93.2C385.0,92.0 385.5,90.8 386.0,89.5C386.5,88.3 387.1,87.1 387.6,85.9C388.2,84.6 388.7,83.4 389.3,82.2C389.9,81.0 390.5,79.8 391.1,78.7C391.7,77.5 392.4,76.3 393.1,75.2C393.8,74.1 394.6,73.0 395.4,72.0C396.3,71.0 397.2,70.0 398.3,69.2C399.3,68.4 400.4,67.7 401.7,67.3C402.8,67.0 404.2,66.8 405.4,67.0C406.7,67.2 408.0,67.7 409.1,68.4C410.2,69.0 411.2,69.9 412.1,70.9C413.0,71.8 413.8,72.9 414.6,74.0C415.4,75.0 416.1,76.2 416.7,77.3C417.4,78.5 418.0,79.7 418.6,80.9C419.2,82.0 419.8,83.2 420.4,84.4C420.9,85.6 421.5,86.9 422.0,88.1C422.6,89.3 423.1,90.5 423.6,91.8C424.1,93.0 424.6,94.2 425.1,95.5C425.6,96.7 426.0,98.0 426.5,99.2C427.0,100.5 427.4,101.7 427.8,103.0C428.3,104.2 428.7,105.5 429.1,106.8C429.6,108.0 430.0,109.3 430.4,110.6C430.8,111.8 431.2,113.1 431.6,114.4C432.0,115.7 432.4,116.9 432.8,118.2C433.2,119.5 433.6,120.8 433.9,122.1C434.3,123.3 434.6,124.6 435.0,125.9C435.3,127.2 435.6,128.5 436.0,129.8C436.3,131.1 436.6,132.4 436.9,133.7C437.3,135.0 437.6,136.2 438.0,137.5C438.4,138.8 438.8,140.1 439.3,141.3C439.7,142.6 440.2,143.8 440.7,145.1C441.2,146.3 441.7,147.5 442.2,148.8C442.7,150.0 443.2,151.2 443.8,152.5C444.3,153.7 444.8,154.9 445.4,156.1C446.0,157.3 446.7,158.5 447.4,159.6C448.1,160.7 448.8,161.8 449.7,162.8C450.6,163.8 451.5,164.7 452.6,165.5C453.6,166.2 454.8,166.9 456.1,167.3C457.3,167.8 458.6,168.0 459.9,168.2C461.2,168.4 462.6,168.4 463.9,168.5C465.2,168.5 466.6,168.5 467.9,168.5C469.2,168.5 470.6,168.5 471.9,168.4C473.2,168.4 474.6,168.4 475.9,168.4C477.2,168.3 478.6,168.3 479.9,168.3C481.2,168.3 482.6,168.2 483.9,168.2C485.2,168.2 486.6,168.3 487.9,168.3C489.2,168.3 490.6,168.4 491.9,168.4C493.2,168.4 494.6,168.4 495.9,168.5C497.2,168.5 498.6,168.5 499.9,168.5C501.2,168.5 502.6,168.5 503.9,168.4C505.2,168.4 506.6,168.3 507.9,168.0C509.2,167.8 510.5,167.5 511.7,167.0C512.8,166.4 514.0,165.7 515.0,164.9C516.0,164.1 516.9,163.1 517.7,162.0C518.6,161.0 519.3,159.9 519.9,158.7C520.6,157.6 521.2,156.4 521.8,155.2C522.4,154.0 522.9,152.8 523.4,151.5C524.0,150.3 524.5,149.1 525.0,147.8C525.5,146.6 526.0,145.4 526.5,144.1C526.9,142.9 527.4,141.6 527.9,140.4C528.3,139.1 528.7,137.8 529.1,136.6C529.4,135.3 529.8,134.0 530.1,132.7C530.4,131.4 530.7,130.1 531.1,128.8C531.4,127.5 531.7,126.2 532.1,124.9C532.4,123.7 532.8,122.4 533.2,121.1C533.5,119.8 533.9,118.5 534.3,117.3C534.7,116.0 535.1,114.7 535.5,113.4C535.9,112.2 536.3,110.9 536.7,109.6C537.1,108.4 537.5,107.1 538.0,105.8C538.4,104.6 538.8,103.3 539.3,102.0C539.7,100.8 540.2,99.5 540.6,98.3C541.1,97.0 541.6,95.8 542.1,94.5C542.6,93.3 543.1,92.1 543.6,90.8C544.1,89.6 544.6,88.4 545.2,87.2C545.7,85.9 546.3,84.7 546.9,83.5C547.4,82.3 548.0,81.1 548.7,80.0C549.3,78.8 549.9,77.6 550.6,76.5C551.3,75.3 552.0,74.2 552.8,73.2C553.6,72.1 554.5,71.0 555.4,70.2C556.4,69.3 557.4,68.4 558.6,67.9C559.7,67.4 561.1,67.0 562.3,66.9C563.5,66.9 564.9,67.2 566.0,67.7C567.2,68.2 568.3,69.0 569.3,69.8C570.3,70.7 571.2,71.7 572.0,72.7C572.8,73.8 573.6,74.9 574.2,76.0C574.9,77.2 575.5,78.4 576.1,79.6C576.7,80.7 577.3,81.9 577.9,83.1C578.5,84.3 579.1,85.6 579.6,86.8C580.1,88.0 580.7,89.2 581.2,90.4C581.7,91.7 582.2,92.9 582.6,94.2C583.1,95.4 583.6,96.7 584.0,97.9C584.5,99.2 584.9,100.4 585.3,101.7C585.8,103.0 586.1,104.2 586.5,105.5C586.9,106.8 587.3,108.1 587.7,109.4C588.0,110.6 588.4,111.9 588.7,113.2C589.1,114.5 589.4,115.8 589.8,117.1C590.2,118.4 590.5,119.7 590.8,120.9C591.2,122.2 591.5,123.5 591.9,124.8C592.2,126.1 592.5,127.4 592.8,128.7C593.2,130.0 593.5,131.3 593.8,132.6C594.1,133.9 594.4,135.2 594.7,136.5C595.1,137.8 595.4,139.1 595.7,140.4C596.0,141.7 596.3,142.9 596.6,144.2C597.0,145.5 597.3,146.8 597.6,148.1C597.9,149.4 598.3,150.7 598.6,152.0C598.9,153.3 599.2,154.6 599.6,155.9C599.9,157.2 600.2,158.5 600.5,159.8C600.8,161.1 601.2,162.4 601.5,163.7C601.8,165.0 602.1,166.3 602.4,167.6C602.7,168.8 603.0,170.1 603.3,171.4C603.6,172.7 603.9,174.0 604.2,175.3C604.5,176.7 604.8,178.0 605.1,179.3C605.4,180.6 605.7,181.9 605.9,183.2C606.2,184.5 606.5,185.8 606.8,187.1C607.1,188.4 607.4,189.7 607.6,191.0C607.9,192.3 608.2,193.6 608.5,194.9C608.7,196.2 609.0,197.5 609.3,198.8C609.6,200.1 609.8,201.4 610.1,202.7C610.4,204.0 610.6,205.4 610.9,206.7C611.2,208.0 611.5,209.3 611.7,210.6C612.0,211.9 612.3,213.2 612.5,214.5C612.8,215.8 613.1,217.1 613.4,218.4C613.6,219.7 613.9,221.0 614.2,222.3C614.4,223.6 614.7,224.9 615.0,226.2C615.3,227.5 615.6,228.9 615.8,230.2C616.1,231.5 616.4,232.8 616.7,234.1C616.9,235.4 617.2,236.7 617.5,238.0C617.8,239.3 618.1,240.6 618.3,241.9C618.6,243.2 618.9,244.5 619.2,245.8C619.5,247.1 619.8,248.4 620.0,249.7C620.3,251.0 620.6,252.3 620.9,253.6C621.2,254.9 621.5,256.2 621.8,257.5C622.1,258.8 622.4,260.1 622.7,261.4C623.0,262.7 623.3,264.0 623.7,265.3C624.0,266.6 624.3,267.9 624.6,269.2C624.9,270.5 625.2,271.8 625.6,273.1C625.9,274.4 626.2,275.7 626.5,277.0C626.8,278.3 627.2,279.6 627.5,280.9C627.8,282.2 628.1,283.5 628.4,284.7C628.8,286.0 629.1,287.3 629.4,288.6C629.7,289.9 630.1,291.2 630.4,292.5C630.7,293.8 631.0,295.1 631.3,296.4C631.7,297.7 632.0,299.0 632.3,300.3C632.5,301.3 632.8,302.2 633.0,303.2" stroke="#e00410"/>
<path d="M333.8,303.2C334.1,301.9 334.4,300.6 334.7,299.3C335.0,298.0 335.4,296.7 335.7,295.4C336.0,294.1 336.3,292.8 336.6,291.5C336.9,290.2 337.2,288.9 337.5,287.6C337.9,286.3 338.2,285.1 338.5,283.8C338.8,282.5 339.1,281.2 339.4,279.9C339.8,278.6 340.1,277.3 340.4,276.0C340.7,274.7 341.0,273.4 341.3,272.1C341.6,270.8 341.9,269.5 342.2,268.2C342.5,266.9 342.9,265.6 343.2,264.3C343.5,263.0 343.8,261.7 344.1,260.4C344.4,259.1 344.7,257.8 345.0,256.5C345.2,255.2 345.5,253.9 345.8,252.6C346.1,251.3 346.4,250.0 346.7,248.7C347.0,247.4 347.2,246.1 347.5,244.8C347.8,243.5 348.1,242.2 348.3,240.9C348.6,239.6 348.9,238.3 349.1,237.0C349.4,235.7 349.7,234.3 350.0,233.0C350.2,231.7 350.5,230.4 350.8,229.1C351.1,227.8 351.3,226.5 351.6,225.2C351.9,223.9 352.2,222.6 352.4,221.3C352.7,220.0 353.0,218.7 353.2,217.4C353.5,216.1 353.8,214.8 354.0,213.5C354.3,212.2 354.6,210.8 354.9,209.5C355.1,208.2 355.4,206.9 355.7,205.6C355.9,204.3 356.2,203.0 356.5,201.7C356.8,200.4 357.0,199.1 357.3,197.8C357.6,196.5 357.9,195.2 358.1,193.9C358.4,192.6 358.7,191.3 359.0,190.0C359.2,188.7 359.5,187.4 359.8,186.1C360.1,184.8 360.4,183.5 360.7,182.2C360.9,180.8 361.2,179.5 361.5,178.2C361.8,176.9 362.1,175.6 362.4,174.3C362.7,173.0 363.0,171.7 363.3,170.4C363.6,169.1 363.9,167.9 364.2,166.6C364.5,165.3 364.9,164.0 365.2,162.7C365.5,161.4 365.8,160.1 366.1,158.8C366.4,157.5 366.8,156.2 367.1,154.9C367.4,153.6 367.7,152.3 368.1,151.0C368.4,149.7 368.7,148.4 369.0,147.1C369.4,145.8 369.7,144.6 370.0,143.3C370.3,142.0 370.6,140.7 371.0,139.4C371.3,138.1 371.6,136.8 371.9,135.5C372.2,134.2 372.5,132.9 372.8,131.6C373.2,130.3 373.5,129.0 373.8,127.7C374.1,126.4 374.5,125.1 374.8,123.8C375.1,122.5 375.5,121.3 375.8,120.0C376.2,118.7 376.5,117.4 376.9,116.1C377.2,114.8 377.6,113.5 377.9,112.2C378.3,111.0 378.6,109.7 379.0,108.4C379.3,107.1 379.7,105.8 380.1,104.6C380.5,103.3 380.9,102.0 381.3,100.7C381.7,99.5 382.2,98.2 382.6,97.0C383.1,95.7 383.5,94.5 384.0,93.2C384.5,92.0 384.9,90.7 385.5,89.5C386.0,88.2 386.5,87.0 387.0,85.8C387.6,84.6 388.1,83.4 388.7,82.2C389.3,81.0 389.9,79.8 390.5,78.6C391.1,77.4 391.7,76.2 392.4,75.1C393.1,74.0 393.9,72.9 394.7,71.9C395.6,70.8 396.5,69.8 397.5,69.0C398.5,68.2 399.6,67.4 400.8,67.0C402.0,66.5 403.3,66.3 404.6,66.3C405.8,66.4 407.2,66.7 408.3,67.3C409.5,67.8 410.5,68.7 411.5,69.5C412.5,70.4 413.3,71.5 414.1,72.5C414.9,73.6 415.7,74.7 416.4,75.8C417.1,76.9 417.7,78.1 418.3,79.3C418.9,80.5 419.5,81.7 420.1,82.9C420.7,84.1 421.3,85.3 421.8,86.5C422.3,87.7 422.9,88.9 423.4,90.1C423.9,91.4 424.4,92.6 424.9,93.9C425.4,95.1 425.9,96.3 426.3,97.6C426.8,98.8 427.3,100.1 427.7,101.3C428.2,102.6 428.6,103.9 429.0,105.1C429.5,106.4 429.9,107.6 430.3,108.9C430.7,110.2 431.1,111.4 431.5,112.7C431.9,114.0 432.3,115.3 432.7,116.5C433.1,117.8 433.5,119.1 433.9,120.4C434.2,121.7 434.6,122.9 434.9,124.2C435.3,125.5 435.6,126.8 435.9,128.1C436.2,129.4 436.5,130.7 436.8,132.0C437.2,133.3 437.5,134.6 437.8,135.9C438.2,137.1 438.6,138.4 439.0,139.7C439.4,140.9 439.9,142.2 440.4,143.4C440.9,144.7 441.4,145.9 441.9,147.1C442.5,148.4 443.0,149.6 443.5,150.8C444.0,152.0 444.5,153.3 445.1,154.5C445.7,155.7 446.3,156.9 446.9,158.0C447.6,159.2 448.3,160.3 449.1,161.4C449.9,162.4 450.7,163.5 451.7,164.3C452.7,165.2 453.8,166.0 454.9,166.5C456.1,167.1 457.4,167.4 458.7,167.7C460.0,168.0 461.3,168.0 462.7,168.1C464.0,168.2 465.3,168.2 466.7,168.2C468.0,168.2 469.3,168.2 470.7,168.2C472.0,168.1 473.3,168.1 474.7,168.1C476.0,168.1 477.3,168.0 478.7,168.0C480.0,168.0 481.3,167.9 482.7,167.9C484.0,167.9 485.3,168.0 486.6,168.0C488.0,168.0 489.3,168.0 490.6,168.1C492.0,168.1 493.3,168.1 494.6,168.1C496.0,168.2 497.3,168.2 498.6,168.2C500.0,168.2 501.3,168.2 502.6,168.2C504.0,168.1 505.3,168.1 506.6,167.9C507.9,167.7 509.3,167.5 510.5,167.1C511.7,166.7 512.9,166.0 513.9,165.3C515.0,164.5 515.9,163.5 516.8,162.5C517.7,161.5 518.4,160.4 519.1,159.3C519.8,158.2 520.4,157.0 521.0,155.8C521.7,154.6 522.2,153.4 522.7,152.2C523.3,151.0 523.8,149.7 524.3,148.5C524.8,147.3 525.3,146.1 525.8,144.8C526.3,143.6 526.8,142.3 527.3,141.1C527.7,139.8 528.2,138.6 528.5,137.3C528.9,136.0 529.3,134.7 529.6,133.4C529.9,132.2 530.2,130.9 530.5,129.6C530.8,128.3 531.1,127.0 531.5,125.7C531.8,124.4 532.2,123.1 532.5,121.8C532.9,120.5 533.3,119.3 533.7,118.0C534.0,116.7 534.4,115.4 534.8,114.2C535.2,112.9 535.6,111.6 536.0,110.3C536.5,109.1 536.9,107.8 537.3,106.5C537.7,105.3 538.2,104.0 538.6,102.8C539.0,101.5 539.5,100.2 539.9,99.0C540.4,97.7 540.9,96.5 541.3,95.2C541.8,94.0 542.3,92.8 542.8,91.5C543.3,90.3 543.9,89.1 544.4,87.9C544.9,86.6 545.5,85.4 546.0,84.2C546.6,83.0 547.2,81.8 547.8,80.6C548.4,79.4 549.0,78.2 549.7,77.1C550.4,75.9 551.0,74.8 551.8,73.7C552.6,72.6 553.4,71.5 554.3,70.6C555.2,69.6 556.1,68.7 557.2,68.0C558.3,67.3 559.6,66.7 560.8,66.5C562.0,66.2 563.4,66.3 564.6,66.5C565.8,66.8 567.1,67.4 568.1,68.1C569.2,68.8 570.2,69.8 571.1,70.7C572.0,71.7 572.8,72.8 573.6,73.8C574.3,74.9 575.0,76.1 575.6,77.3C576.2,78.4 576.8,79.6 577.4,80.8C578.0,82.0 578.6,83.2 579.2,84.4C579.7,85.7 580.3,86.9 580.8,88.1C581.3,89.3 581.8,90.6 582.3,91.8C582.8,93.0 583.2,94.3 583.7,95.5C584.1,96.8 584.6,98.1 585.0,99.3C585.5,100.6 585.9,101.8 586.3,103.1C586.7,104.4 587.0,105.7 587.4,107.0C587.8,108.2 588.1,109.5 588.5,110.8C588.9,112.1 589.2,113.4 589.6,114.7C589.9,115.9 590.2,117.2 590.6,118.5C590.9,119.8 591.3,121.1 591.6,122.4C592.0,123.7 592.3,125.0 592.6,126.3C593.0,127.6 593.3,128.8 593.6,130.1C593.9,131.4 594.2,132.7 594.5,134.0C594.9,135.3 595.2,136.6 595.5,137.9C595.8,139.2 596.1,140.5 596.4,141.8C596.8,143.1 597.1,144.4 597.4,145.7C597.7,147.0 598.0,148.3 598.4,149.6C598.7,150.9 599.0,152.2 599.3,153.4C599.7,154.7 600.0,156.0 600.3,157.3C600.6,158.6 601.0,159.9 601.3,161.2C601.6,162.5 601.9,163.8 602.2,165.1C602.5,166.4 602.8,167.7 603.1,169.0C603.4,170.3 603.8,171.6 604.1,172.9C604.4,174.2 604.6,175.5 604.9,176.8C605.2,178.1 605.5,179.4 605.8,180.7C606.1,182.0 606.4,183.3 606.7,184.6C607.0,185.9 607.2,187.2 607.5,188.5C607.8,189.8 608.1,191.1 608.4,192.4C608.6,193.7 608.9,195.0 609.2,196.3C609.5,197.6 609.7,198.9 610.0,200.2C610.3,201.5 610.6,202.9 610.8,204.2C611.1,205.5 611.4,206.8 611.6,208.1C611.9,209.4 612.2,210.7 612.5,212.0C612.7,213.3 613.0,214.6 613.3,215.9C613.5,217.2 613.8,218.5 614.1,219.8C614.3,221.1 614.6,222.4 614.9,223.7C615.2,225.0 615.4,226.4 615.7,227.7C616.0,229.0 616.3,230.3 616.5,231.6C616.8,232.9 617.1,234.2 617.3,235.5C617.6,236.8 617.9,238.1 618.2,239.4C618.4,240.7 618.7,242.0 619.0,243.3C619.3,244.6 619.5,245.9 619.8,247.2C620.1,248.5 620.4,249.8 620.7,251.1C620.9,252.4 621.2,253.7 621.5,255.0C621.8,256.3 622.1,257.6 622.4,258.9C622.7,260.2 623.0,261.5 623.3,262.8C623.6,264.1 623.9,265.4 624.2,266.7C624.5,268.0 624.8,269.3 625.1,270.6C625.4,271.9 625.8,273.2 626.1,274.5C626.4,275.8 626.7,277.1 627.0,278.4C627.3,279.7 627.6,281.0 628.0,282.3C628.3,283.6 628.6,284.9 628.9,286.2C629.2,287.5 629.5,288.8 629.8,290.1C630.2,291.4 630.5,292.7 630.8,294.0C631.1,295.3 631.4,296.6 631.7,297.9C632.0,299.1 632.3,300.4 632.7,301.7C632.8,302.2 632.9,302.7 633.0,303.2" stroke="#0c1c7c"/>
</g>
<g class="c" stroke-width="3.4">
<path d="M650.6,302.8C650.9,301.5 651.2,300.2 651.4,298.9C651.7,297.6 652.0,296.3 652.2,295.0C652.5,293.7 652.8,292.4 653.1,291.0C653.3,289.7 653.6,288.4 653.9,287.1C654.2,285.8 654.4,284.5 654.7,283.2C655.0,281.9 655.3,280.6 655.5,279.3C655.8,278.0 656.1,276.7 656.4,275.4C656.6,274.1 656.9,272.8 657.2,271.5C657.5,270.2 657.7,268.8 658.0,267.5C658.3,266.2 658.5,264.9 658.8,263.6C659.1,262.3 659.4,261.0 659.6,259.7C659.9,258.4 660.2,257.1 660.5,255.8C660.8,254.5 661.0,253.2 661.3,251.9C661.6,250.6 661.9,249.3 662.1,248.0C662.4,246.7 662.7,245.4 663.0,244.0C663.3,242.7 663.5,241.4 663.8,240.1C664.1,238.8 664.4,237.5 664.7,236.2C664.9,234.9 665.2,233.6 665.5,232.3C665.8,231.0 666.1,229.7 666.3,228.4C666.6,227.1 666.9,225.8 667.2,224.5C667.5,223.2 667.7,221.9 668.0,220.6C668.3,219.3 668.6,218.0 668.9,216.7C669.1,215.3 669.4,214.0 669.7,212.7C670.0,211.4 670.3,210.1 670.5,208.8C670.8,207.5 671.1,206.2 671.4,204.9C671.7,203.6 671.9,202.3 672.2,201.0C672.5,199.7 672.8,198.4 673.1,197.1C673.4,195.8 673.7,194.5 674.0,193.2C674.3,191.9 674.5,190.6 674.8,189.3C675.1,188.0 675.4,186.7 675.7,185.4C676.0,184.1 676.3,182.8 676.6,181.5C676.9,180.2 677.2,178.9 677.6,177.6C677.9,176.3 678.2,175.0 678.5,173.7C678.8,172.4 679.1,171.1 679.4,169.8C679.7,168.5 680.1,167.2 680.4,165.9C680.7,164.6 681.0,163.3 681.3,162.0C681.6,160.7 682.0,159.4 682.3,158.1C682.7,156.9 683.0,155.6 683.4,154.3C683.7,153.0 684.1,151.7 684.5,150.4C684.9,149.2 685.3,147.9 685.7,146.6C686.1,145.4 686.6,144.1 687.0,142.8C687.4,141.6 687.9,140.3 688.3,139.1C688.8,137.8 689.2,136.5 689.7,135.3C690.1,134.0 690.6,132.8 691.1,131.6C691.6,130.3 692.1,129.1 692.6,127.8C693.1,126.6 693.7,125.4 694.2,124.2C694.7,123.0 695.3,121.7 695.9,120.5C696.5,119.3 697.1,118.2 697.7,117.0C698.4,115.9 699.1,114.7 699.9,113.6C700.6,112.5 701.4,111.5 702.3,110.5C703.2,109.5 704.2,108.5 705.2,107.8C706.3,107.0 707.4,106.3 708.7,105.9C709.8,105.6 711.2,105.5 712.4,105.7C713.7,105.9 714.9,106.5 716.0,107.1C717.1,107.8 718.1,108.7 719.1,109.6C720.0,110.5 720.9,111.5 721.8,112.5C722.7,113.5 723.5,114.6 724.3,115.6C725.2,116.6 726.1,117.6 727.0,118.6C727.9,119.6 728.8,120.5 729.8,121.4C730.8,122.3 731.9,123.1 733.0,123.8C734.1,124.5 735.4,125.0 736.6,125.5C737.8,126.0 739.1,126.4 740.4,126.7C741.7,127.1 743.0,127.3 744.3,127.5C745.6,127.7 746.9,127.8 748.3,127.9C749.6,128.0 750.9,128.0 752.3,128.0C753.6,128.0 754.9,128.0 756.3,128.0C757.6,128.0 758.9,128.0 760.3,128.0C761.6,128.0 762.9,128.0 764.3,128.0C765.6,128.0 766.9,128.0 768.3,128.0C769.6,128.0 770.9,128.0 772.3,128.0C773.6,128.0 774.9,128.0 776.3,128.0C777.6,128.0 779.0,128.0 780.3,128.0C781.6,128.0 783.0,128.0 784.3,128.0C785.6,128.0 787.0,128.0 788.3,128.0C789.6,128.0 791.0,128.0 792.3,128.0C793.6,128.0 795.0,128.0 796.3,128.0C797.6,128.0 799.0,128.0 800.3,128.0C801.6,128.0 803.0,128.0 804.3,128.0C805.6,128.0 807.0,128.0 808.3,128.0C809.6,128.0 811.0,128.0 812.3,128.0C813.6,128.0 815.0,128.0 816.3,128.0C817.6,128.0 819.0,128.0 820.3,128.0C821.6,128.0 823.0,128.0 824.3,128.0C825.7,128.0 827.0,128.0 828.3,128.0C829.7,128.0 831.0,128.0 832.3,128.0C833.7,128.0 835.0,128.0 836.3,128.0C837.7,128.0 839.0,128.0 840.3,128.0C841.7,128.0 843.0,128.0 844.3,128.0C845.7,128.0 847.0,128.0 848.3,128.0C849.7,127.9 851.0,127.9 852.3,127.8C853.6,127.6 855.0,127.5 856.3,127.2C857.6,126.9 858.9,126.6 860.1,126.2C861.4,125.8 862.7,125.3 863.8,124.7C865.0,124.1 866.2,123.4 867.2,122.6C868.3,121.9 869.3,121.0 870.2,120.0C871.2,119.1 872.1,118.1 872.9,117.1C873.8,116.1 874.7,115.1 875.5,114.1C876.4,113.0 877.2,112.0 878.2,111.0C879.1,110.1 880.0,109.1 881.0,108.3C882.0,107.5 883.1,106.7 884.3,106.2C885.5,105.8 886.8,105.5 888.1,105.6C889.3,105.6 890.6,106.1 891.7,106.7C892.9,107.3 893.9,108.2 894.9,109.1C895.9,110.0 896.7,111.0 897.5,112.0C898.4,113.1 899.1,114.2 899.8,115.3C900.5,116.4 901.2,117.6 901.8,118.8C902.4,119.9 903.0,121.1 903.6,122.4C904.1,123.6 904.7,124.8 905.2,126.0C905.7,127.2 906.3,128.5 906.8,129.7C907.3,130.9 907.7,132.2 908.2,133.4C908.7,134.7 909.2,135.9 909.6,137.2C910.1,138.4 910.5,139.7 911.0,140.9C911.4,142.2 911.8,143.5 912.2,144.7C912.7,146.0 913.1,147.3 913.5,148.5C913.9,149.8 914.3,151.1 914.7,152.4C915.0,153.6 915.4,154.9 915.8,156.2C916.1,157.5 916.5,158.8 916.8,160.1C917.1,161.4 917.4,162.7 917.8,164.0C918.1,165.3 918.4,166.6 918.7,167.9C919.0,169.2 919.3,170.4 919.6,171.7C920.0,173.0 920.3,174.3 920.6,175.6C920.9,176.9 921.2,178.2 921.5,179.5C921.8,180.8 922.1,182.1 922.4,183.4C922.7,184.7 923.0,186.0 923.3,187.3C923.6,188.6 923.9,189.9 924.2,191.2C924.5,192.5 924.8,193.8 925.1,195.1C925.4,196.4 925.7,197.7 925.9,199.0C926.2,200.3 926.5,201.7 926.8,203.0C927.1,204.3 927.4,205.6 927.6,206.9C927.9,208.2 928.2,209.5 928.5,210.8C928.8,212.1 929.0,213.4 929.3,214.7C929.6,216.0 929.9,217.3 930.2,218.6C930.4,219.9 930.7,221.2 931.0,222.5C931.3,223.8 931.6,225.1 931.8,226.4C932.1,227.7 932.4,229.0 932.7,230.4C933.0,231.7 933.2,233.0 933.5,234.3C933.8,235.6 934.1,236.9 934.4,238.2C934.6,239.5 934.9,240.8 935.2,242.1C935.5,243.4 935.8,244.7 936.0,246.0C936.3,247.3 936.6,248.6 936.9,249.9C937.2,251.2 937.4,252.5 937.7,253.8C938.0,255.1 938.3,256.4 938.5,257.8C938.8,259.1 939.1,260.4 939.4,261.7C939.6,263.0 939.9,264.3 940.2,265.6C940.5,266.9 940.7,268.2 941.0,269.5C941.3,270.8 941.6,272.1 941.8,273.4C942.1,274.7 942.4,276.0 942.7,277.3C942.9,278.6 943.2,279.9 943.5,281.3C943.7,282.6 944.0,283.9 944.3,285.2C944.6,286.5 944.8,287.8 945.1,289.1C945.4,290.4 945.7,291.7 945.9,293.0C946.2,294.3 946.5,295.6 946.8,296.9C947.0,298.2 947.3,299.5 947.6,300.8C947.7,301.5 947.9,302.1 948.0,302.8" stroke="#3e9e0c"/>
<path d="M650.6,302.8C650.9,301.5 651.1,300.2 651.4,298.9C651.7,297.6 651.9,296.3 652.2,295.0C652.5,293.6 652.7,292.3 653.0,291.0C653.3,289.7 653.5,288.4 653.8,287.1C654.1,285.8 654.3,284.5 654.6,283.2C654.9,281.9 655.1,280.6 655.4,279.3C655.7,278.0 655.9,276.7 656.2,275.3C656.5,274.0 656.7,272.7 657.0,271.4C657.3,270.1 657.5,268.8 657.8,267.5C658.0,266.2 658.3,264.9 658.6,263.6C658.8,262.3 659.1,261.0 659.4,259.7C659.6,258.4 659.9,257.0 660.2,255.7C660.4,254.4 660.7,253.1 661.0,251.8C661.2,250.5 661.5,249.2 661.8,247.9C662.0,246.6 662.3,245.3 662.6,244.0C662.8,242.7 663.1,241.4 663.4,240.0C663.6,238.7 663.9,237.4 664.2,236.1C664.4,234.8 664.7,233.5 665.0,232.2C665.2,230.9 665.5,229.6 665.8,228.3C666.0,227.0 666.3,225.7 666.6,224.4C666.8,223.1 667.1,221.7 667.4,220.4C667.6,219.1 667.9,217.8 668.2,216.5C668.4,215.2 668.7,213.9 668.9,212.6C669.2,211.3 669.5,210.0 669.7,208.7C670.0,207.4 670.3,206.1 670.5,204.7C670.8,203.4 671.1,202.1 671.3,200.8C671.6,199.5 671.9,198.2 672.1,196.9C672.4,195.6 672.7,194.3 672.9,193.0C673.2,191.7 673.5,190.4 673.7,189.1C674.0,187.8 674.3,186.4 674.5,185.1C674.8,183.8 675.1,182.5 675.3,181.2C675.6,179.9 675.9,178.6 676.2,177.3C676.4,176.0 676.7,174.7 677.0,173.4C677.3,172.1 677.5,170.8 677.8,169.5C678.1,168.2 678.4,166.9 678.6,165.5C678.9,164.2 679.2,162.9 679.5,161.6C679.7,160.3 680.0,159.0 680.3,157.7C680.6,156.4 680.9,155.1 681.2,153.8C681.5,152.5 681.8,151.2 682.1,149.9C682.4,148.6 682.7,147.3 683.0,146.0C683.4,144.7 683.7,143.4 684.0,142.1C684.3,140.9 684.7,139.6 685.0,138.3C685.4,137.0 685.7,135.7 686.1,134.4C686.4,133.1 686.8,131.8 687.1,130.6C687.5,129.3 687.9,128.0 688.3,126.7C688.6,125.4 689.0,124.2 689.4,122.9C689.8,121.6 690.2,120.3 690.7,119.1C691.1,117.8 691.5,116.5 691.9,115.3C692.4,114.0 692.8,112.8 693.3,111.5C693.7,110.3 694.2,109.0 694.7,107.8C695.2,106.5 695.7,105.3 696.3,104.1C696.8,102.9 697.3,101.6 697.9,100.4C698.5,99.3 699.1,98.0 699.8,97.0C700.6,95.9 701.4,94.8 702.4,94.0C703.3,93.1 704.5,92.3 705.6,91.9C706.8,91.5 708.2,91.4 709.4,91.6C710.6,91.8 711.8,92.4 712.8,93.2C713.9,93.9 714.8,94.9 715.6,95.9C716.5,96.9 717.2,98.0 718.0,99.1C718.8,100.2 719.5,101.3 720.2,102.5C720.9,103.6 721.6,104.7 722.3,105.9C723.0,107.0 723.6,108.2 724.3,109.3C725.0,110.5 725.7,111.6 726.4,112.7C727.1,113.9 727.8,115.0 728.6,116.1C729.4,117.2 730.2,118.2 731.0,119.3C731.9,120.3 732.8,121.3 733.8,122.2C734.7,123.0 735.8,123.9 736.9,124.6C738.0,125.3 739.2,125.9 740.5,126.3C741.7,126.8 743.0,127.1 744.3,127.3C745.6,127.5 746.9,127.6 748.3,127.7C749.6,127.8 750.9,127.8 752.3,127.8C753.6,127.8 754.9,127.8 756.3,127.8C757.6,127.8 758.9,127.8 760.3,127.8C761.6,127.8 762.9,127.8 764.3,127.8C765.6,127.8 766.9,127.8 768.3,127.8C769.6,127.8 770.9,127.8 772.3,127.8C773.6,127.8 775.0,127.8 776.3,127.8C777.6,127.8 779.0,127.8 780.3,127.8C781.6,127.8 783.0,127.8 784.3,127.8C785.6,127.8 787.0,127.8 788.3,127.8C789.6,127.8 791.0,127.8 792.3,127.8C793.6,127.8 795.0,127.8 796.3,127.8C797.6,127.8 799.0,127.8 800.3,127.8C801.6,127.8 803.0,127.8 804.3,127.8C805.6,127.8 807.0,127.8 808.3,127.8C809.6,127.8 811.0,127.8 812.3,127.8C813.6,127.8 815.0,127.8 816.3,127.8C817.6,127.8 819.0,127.8 820.3,127.8C821.6,127.8 823.0,127.8 824.3,127.8C825.6,127.8 827.0,127.8 828.3,127.8C829.7,127.8 831.0,127.8 832.3,127.8C833.7,127.8 835.0,127.8 836.3,127.8C837.7,127.8 839.0,127.8 840.3,127.8C841.7,127.8 843.0,127.8 844.3,127.8C845.7,127.8 847.0,127.8 848.3,127.8C849.7,127.7 851.0,127.7 852.3,127.6C853.6,127.4 855.0,127.2 856.2,126.9C857.5,126.6 858.8,126.1 860.0,125.5C861.1,125.0 862.3,124.2 863.3,123.4C864.4,122.6 865.3,121.7 866.3,120.8C867.2,119.8 868.0,118.7 868.8,117.7C869.6,116.6 870.4,115.5 871.1,114.4C871.8,113.3 872.5,112.2 873.2,111.0C873.9,109.9 874.6,108.7 875.3,107.6C876.0,106.5 876.7,105.3 877.4,104.2C878.1,103.0 878.8,101.9 879.5,100.8C880.2,99.7 880.9,98.5 881.7,97.5C882.5,96.4 883.3,95.3 884.3,94.4C885.2,93.5 886.3,92.7 887.4,92.2C888.5,91.7 889.9,91.4 891.1,91.5C892.3,91.6 893.6,92.1 894.7,92.8C895.8,93.4 896.7,94.4 897.6,95.4C898.4,96.4 899.1,97.5 899.8,98.7C900.4,99.8 901.0,101.1 901.5,102.3C902.1,103.5 902.6,104.7 903.1,105.9C903.6,107.2 904.1,108.4 904.6,109.6C905.1,110.9 905.6,112.1 906.0,113.4C906.4,114.7 906.9,115.9 907.3,117.2C907.7,118.4 908.2,119.7 908.6,121.0C909.0,122.2 909.4,123.5 909.8,124.8C910.2,126.1 910.5,127.4 910.9,128.6C911.3,129.9 911.6,131.2 912.0,132.5C912.4,133.8 912.7,135.1 913.1,136.3C913.4,137.6 913.8,138.9 914.1,140.2C914.4,141.5 914.8,142.8 915.1,144.1C915.4,145.4 915.7,146.7 916.0,148.0C916.3,149.3 916.7,150.6 917.0,151.9C917.3,153.2 917.6,154.5 917.9,155.8C918.1,157.1 918.4,158.4 918.7,159.7C919.0,161.0 919.3,162.3 919.6,163.6C919.8,164.9 920.1,166.2 920.4,167.5C920.7,168.8 920.9,170.1 921.2,171.4C921.5,172.7 921.8,174.0 922.0,175.3C922.3,176.6 922.6,178.0 922.8,179.3C923.1,180.6 923.4,181.9 923.7,183.2C923.9,184.5 924.2,185.8 924.5,187.1C924.7,188.4 925.0,189.7 925.3,191.0C925.5,192.3 925.8,193.6 926.1,194.9C926.3,196.2 926.6,197.6 926.9,198.9C927.1,200.2 927.4,201.5 927.7,202.8C927.9,204.1 928.2,205.4 928.5,206.7C928.7,208.0 929.0,209.3 929.3,210.6C929.5,211.9 929.8,213.2 930.1,214.6C930.3,215.9 930.6,217.2 930.8,218.5C931.1,219.8 931.4,221.1 931.6,222.4C931.9,223.7 932.2,225.0 932.4,226.3C932.7,227.6 933.0,228.9 933.2,230.2C933.5,231.6 933.8,232.9 934.0,234.2C934.3,235.5 934.6,236.8 934.8,238.1C935.1,239.4 935.4,240.7 935.6,242.0C935.9,243.3 936.2,244.6 936.4,245.9C936.7,247.2 937.0,248.5 937.2,249.9C937.5,251.2 937.8,252.5 938.0,253.8C938.3,255.1 938.6,256.4 938.8,257.7C939.1,259.0 939.4,260.3 939.6,261.6C939.9,262.9 940.2,264.2 940.4,265.5C940.7,266.8 940.9,268.2 941.2,269.5C941.5,270.8 941.7,272.1 942.0,273.4C942.3,274.7 942.5,276.0 942.8,277.3C943.1,278.6 943.3,279.9 943.6,281.2C943.9,282.5 944.1,283.8 944.4,285.2C944.7,286.5 944.9,287.8 945.2,289.1C945.5,290.4 945.7,291.7 946.0,293.0C946.3,294.3 946.5,295.6 946.8,296.9C947.1,298.2 947.3,299.5 947.6,300.8C947.7,301.5 947.9,302.1 948.0,302.8" stroke="#e00410" stroke-width="4.5"/>
<path d="M650.6,302.8C650.9,301.5 651.1,300.2 651.4,298.9C651.7,297.6 651.9,296.3 652.2,295.0C652.5,293.6 652.7,292.3 653.0,291.0C653.3,289.7 653.5,288.4 653.8,287.1C654.1,285.8 654.3,284.5 654.6,283.2C654.9,281.9 655.1,280.6 655.4,279.3C655.7,278.0 655.9,276.7 656.2,275.3C656.5,274.0 656.7,272.7 657.0,271.4C657.3,270.1 657.5,268.8 657.8,267.5C658.0,266.2 658.3,264.9 658.6,263.6C658.8,262.3 659.1,261.0 659.4,259.7C659.6,258.4 659.9,257.0 660.2,255.7C660.4,254.4 660.7,253.1 661.0,251.8C661.2,250.5 661.5,249.2 661.8,247.9C662.0,246.6 662.3,245.3 662.6,244.0C662.8,242.7 663.1,241.4 663.4,240.0C663.6,238.7 663.9,237.4 664.2,236.1C664.4,234.8 664.7,233.5 665.0,232.2C665.2,230.9 665.5,229.6 665.8,228.3C666.0,227.0 666.3,225.7 666.6,224.4C666.8,223.1 667.1,221.7 667.4,220.4C667.6,219.1 667.9,217.8 668.2,216.5C668.4,215.2 668.7,213.9 668.9,212.6C669.2,211.3 669.5,210.0 669.7,208.7C670.0,207.4 670.3,206.1 670.5,204.7C670.8,203.4 671.1,202.1 671.3,200.8C671.6,199.5 671.9,198.2 672.1,196.9C672.4,195.6 672.7,194.3 672.9,193.0C673.2,191.7 673.5,190.4 673.7,189.1C674.0,187.8 674.3,186.4 674.5,185.1C674.8,183.8 675.1,182.5 675.3,181.2C675.6,179.9 675.9,178.6 676.2,177.3C676.4,176.0 676.7,174.7 677.0,173.4C677.3,172.1 677.5,170.8 677.8,169.5C678.1,168.2 678.4,166.9 678.6,165.5C678.9,164.2 679.2,162.9 679.5,161.6C679.7,160.3 680.0,159.0 680.3,157.7C680.6,156.4 680.9,155.1 681.2,153.8C681.5,152.5 681.8,151.2 682.1,149.9C682.4,148.6 682.7,147.3 683.0,146.0C683.4,144.7 683.7,143.4 684.0,142.1C684.3,140.9 684.7,139.6 685.0,138.3C685.4,137.0 685.7,135.7 686.1,134.4C686.4,133.1 686.8,131.8 687.1,130.6C687.5,129.3 687.9,128.0 688.3,126.7C688.6,125.4 689.0,124.2 689.4,122.9C689.8,121.6 690.2,120.3 690.7,119.1C691.1,117.8 691.5,116.5 691.9,115.3C692.4,114.0 692.8,112.8 693.3,111.5C693.7,110.3 694.2,109.0 694.7,107.8C695.2,106.5 695.7,105.3 696.3,104.1C696.8,102.9 697.3,101.6 697.9,100.4C698.5,99.3 699.1,98.0 699.8,97.0C700.6,95.9 701.4,94.8 702.4,94.0C703.3,93.1 704.5,92.3 705.6,91.9C706.8,91.5 708.2,91.4 709.4,91.6C710.6,91.8 711.8,92.4 712.8,93.2C713.9,93.9 714.8,94.9 715.6,95.9C716.5,96.9 717.2,98.0 718.0,99.1C718.8,100.2 719.5,101.3 720.2,102.5C720.9,103.6 721.6,104.7 722.3,105.9C723.0,107.0 723.6,108.2 724.3,109.3C725.0,110.5 725.7,111.6 726.4,112.7C727.1,113.9 727.8,115.0 728.6,116.1C729.4,117.2 730.2,118.2 731.0,119.3C731.9,120.3 732.8,121.3 733.8,122.2C734.7,123.0 735.8,123.9 736.9,124.6C738.0,125.3 739.2,125.9 740.5,126.3C741.7,126.8 743.0,127.1 744.3,127.3C745.6,127.5 746.9,127.6 748.3,127.7C749.6,127.8 750.9,127.8 752.3,127.8C753.6,127.8 754.9,127.8 756.3,127.8C757.6,127.8 758.9,127.8 760.3,127.8C761.6,127.8 762.9,127.8 764.3,127.8C765.6,127.8 766.9,127.8 768.3,127.8C769.6,127.8 770.9,127.8 772.3,127.8C773.6,127.8 775.0,127.8 776.3,127.8C777.6,127.8 779.0,127.8 780.3,127.8C781.6,127.8 783.0,127.8 784.3,127.8C785.6,127.8 787.0,127.8 788.3,127.8C789.6,127.8 791.0,127.8 792.3,127.8C793.6,127.8 795.0,127.8 796.3,127.8C797.6,127.8 799.0,127.8 800.3,127.8C801.6,127.8 803.0,127.8 804.3,127.8C805.6,127.8 807.0,127.8 808.3,127.8C809.6,127.8 811.0,127.8 812.3,127.8C813.6,127.8 815.0,127.8 816.3,127.8C817.6,127.8 819.0,127.8 820.3,127.8C821.6,127.8 823.0,127.8 824.3,127.8C825.6,127.8 827.0,127.8 828.3,127.8C829.7,127.8 831.0,127.8 832.3,127.8C833.7,127.8 835.0,127.8 836.3,127.8C837.7,127.8 839.0,127.8 840.3,127.8C841.7,127.8 843.0,127.8 844.3,127.8C845.7,127.8 847.0,127.8 848.3,127.8C849.7,127.7 851.0,127.7 852.3,127.6C853.6,127.4 855.0,127.2 856.2,126.9C857.5,126.6 858.8,126.1 860.0,125.5C861.1,125.0 862.3,124.2 863.3,123.4C864.4,122.6 865.3,121.7 866.3,120.8C867.2,119.8 868.0,118.7 868.8,117.7C869.6,116.6 870.4,115.5 871.1,114.4C871.8,113.3 872.5,112.2 873.2,111.0C873.9,109.9 874.6,108.7 875.3,107.6C876.0,106.5 876.7,105.3 877.4,104.2C878.1,103.0 878.8,101.9 879.5,100.8C880.2,99.7 880.9,98.5 881.7,97.5C882.5,96.4 883.3,95.3 884.3,94.4C885.2,93.5 886.3,92.7 887.4,92.2C888.5,91.7 889.9,91.4 891.1,91.5C892.3,91.6 893.6,92.1 894.7,92.8C895.8,93.4 896.7,94.4 897.6,95.4C898.4,96.4 899.1,97.5 899.8,98.7C900.4,99.8 901.0,101.1 901.5,102.3C902.1,103.5 902.6,104.7 903.1,105.9C903.6,107.2 904.1,108.4 904.6,109.6C905.1,110.9 905.6,112.1 906.0,113.4C906.4,114.7 906.9,115.9 907.3,117.2C907.7,118.4 908.2,119.7 908.6,121.0C909.0,122.2 909.4,123.5 909.8,124.8C910.2,126.1 910.5,127.4 910.9,128.6C911.3,129.9 911.6,131.2 912.0,132.5C912.4,133.8 912.7,135.1 913.1,136.3C913.4,137.6 913.8,138.9 914.1,140.2C914.4,141.5 914.8,142.8 915.1,144.1C915.4,145.4 915.7,146.7 916.0,148.0C916.3,149.3 916.7,150.6 917.0,151.9C917.3,153.2 917.6,154.5 917.9,155.8C918.1,157.1 918.4,158.4 918.7,159.7C919.0,161.0 919.3,162.3 919.6,163.6C919.8,164.9 920.1,166.2 920.4,167.5C920.7,168.8 920.9,170.1 921.2,171.4C921.5,172.7 921.8,174.0 922.0,175.3C922.3,176.6 922.6,178.0 922.8,179.3C923.1,180.6 923.4,181.9 923.7,183.2C923.9,184.5 924.2,185.8 924.5,187.1C924.7,188.4 925.0,189.7 925.3,191.0C925.5,192.3 925.8,193.6 926.1,194.9C926.3,196.2 926.6,197.6 926.9,198.9C927.1,200.2 927.4,201.5 927.7,202.8C927.9,204.1 928.2,205.4 928.5,206.7C928.7,208.0 929.0,209.3 929.3,210.6C929.5,211.9 929.8,213.2 930.1,214.6C930.3,215.9 930.6,217.2 930.8,218.5C931.1,219.8 931.4,221.1 931.6,222.4C931.9,223.7 932.2,225.0 932.4,226.3C932.7,227.6 933.0,228.9 933.2,230.2C933.5,231.6 933.8,232.9 934.0,234.2C934.3,235.5 934.6,236.8 934.8,238.1C935.1,239.4 935.4,240.7 935.6,242.0C935.9,243.3 936.2,244.6 936.4,245.9C936.7,247.2 937.0,248.5 937.2,249.9C937.5,251.2 937.8,252.5 938.0,253.8C938.3,255.1 938.6,256.4 938.8,257.7C939.1,259.0 939.4,260.3 939.6,261.6C939.9,262.9 940.2,264.2 940.4,265.5C940.7,266.8 940.9,268.2 941.2,269.5C941.5,270.8 941.7,272.1 942.0,273.4C942.3,274.7 942.5,276.0 942.8,277.3C943.1,278.6 943.3,279.9 943.6,281.2C943.9,282.5 944.1,283.8 944.4,285.2C944.7,286.5 944.9,287.8 945.2,289.1C945.5,290.4 945.7,291.7 946.0,293.0C946.3,294.3 946.5,295.6 946.8,296.9C947.1,298.2 947.3,299.5 947.6,300.8C947.7,301.5 947.9,302.1 948.0,302.8" stroke="#0c1c7c"/>
</g>
<g class="c" stroke-width="3.4">
<path d="M965.0,302.8C965.3,301.5 965.6,300.2 965.9,298.9C966.2,297.6 966.4,296.3 966.7,295.0C967.0,293.7 967.3,292.4 967.6,291.1C967.9,289.8 968.2,288.5 968.5,287.2C968.7,285.9 969.0,284.6 969.3,283.3C969.6,282.0 969.9,280.7 970.2,279.4C970.5,278.0 970.8,276.7 971.1,275.4C971.4,274.1 971.6,272.8 971.9,271.5C972.2,270.2 972.5,268.9 972.8,267.6C973.1,266.3 973.4,265.0 973.7,263.7C974.0,262.4 974.2,261.1 974.5,259.8C974.8,258.5 975.1,257.2 975.4,255.9C975.7,254.6 976.0,253.3 976.2,252.0C976.5,250.7 976.8,249.4 977.1,248.1C977.4,246.8 977.7,245.5 977.9,244.2C978.2,242.9 978.5,241.6 978.8,240.3C979.1,239.0 979.4,237.6 979.6,236.3C979.9,235.0 980.2,233.7 980.5,232.4C980.7,231.1 981.0,229.8 981.3,228.5C981.6,227.2 981.8,225.9 982.1,224.6C982.4,223.3 982.7,222.0 982.9,220.7C983.2,219.4 983.5,218.1 983.7,216.8C984.0,215.4 984.3,214.1 984.5,212.8C984.8,211.5 985.1,210.2 985.3,208.9C985.6,207.6 985.9,206.3 986.2,205.0C986.4,203.7 986.7,202.4 987.0,201.1C987.2,199.8 987.5,198.5 987.8,197.2C988.0,195.8 988.3,194.5 988.6,193.2C988.9,191.9 989.1,190.6 989.4,189.3C989.7,188.0 990.0,186.7 990.2,185.4C990.5,184.1 990.8,182.8 991.1,181.5C991.4,180.2 991.6,178.9 991.9,177.6C992.2,176.3 992.5,175.0 992.8,173.7C993.0,172.4 993.3,171.1 993.6,169.7C993.9,168.4 994.2,167.1 994.5,165.8C994.8,164.5 995.0,163.2 995.3,161.9C995.6,160.6 995.9,159.3 996.2,158.0C996.5,156.7 996.8,155.4 997.1,154.1C997.5,152.8 997.8,151.5 998.1,150.2C998.4,148.9 998.7,147.6 999.0,146.3C999.3,145.1 999.7,143.8 1000.0,142.5C1000.4,141.2 1000.7,139.9 1001.1,138.6C1001.5,137.3 1001.9,136.1 1002.2,134.8C1002.6,133.5 1003.0,132.2 1003.4,131.0C1003.8,129.7 1004.3,128.4 1004.7,127.2C1005.2,125.9 1005.7,124.7 1006.2,123.5C1006.8,122.2 1007.3,121.0 1007.9,119.8C1008.5,118.6 1009.1,117.5 1009.8,116.3C1010.5,115.2 1011.3,114.1 1012.1,113.1C1013.0,112.1 1013.9,111.1 1014.9,110.3C1015.9,109.4 1017.1,108.7 1018.2,108.1C1019.4,107.5 1020.7,107.1 1022.0,106.8C1023.2,106.5 1024.6,106.4 1025.9,106.3C1027.2,106.3 1028.6,106.4 1029.9,106.5C1031.2,106.6 1032.5,106.9 1033.8,107.0C1035.2,107.2 1036.5,107.3 1037.8,107.5C1039.2,107.6 1040.5,107.7 1041.8,107.8C1043.1,107.9 1044.5,108.0 1045.8,108.0C1047.1,108.1 1048.5,108.1 1049.8,108.2C1051.1,108.2 1052.5,108.2 1053.8,108.3C1055.1,108.3 1056.5,108.3 1057.8,108.3C1059.1,108.3 1060.5,108.3 1061.8,108.4C1063.1,108.4 1064.5,108.4 1065.8,108.4C1067.1,108.4 1068.5,108.4 1069.8,108.4C1071.2,108.4 1072.5,108.4 1073.8,108.4C1075.2,108.4 1076.5,108.4 1077.8,108.4C1079.2,108.4 1080.5,108.4 1081.8,108.4C1083.2,108.4 1084.5,108.4 1085.8,108.4C1087.2,108.4 1088.5,108.4 1089.8,108.4C1091.2,108.4 1092.5,108.4 1093.8,108.4C1095.2,108.4 1096.5,108.4 1097.8,108.4C1099.2,108.4 1100.5,108.4 1101.8,108.4C1103.2,108.4 1104.5,108.4 1105.8,108.4C1107.2,108.4 1108.5,108.4 1109.8,108.4C1111.2,108.4 1112.5,108.4 1113.8,108.4C1115.2,108.4 1116.5,108.4 1117.9,108.4C1119.2,108.4 1120.5,108.4 1121.9,108.4C1123.2,108.4 1124.5,108.4 1125.9,108.4C1127.2,108.4 1128.5,108.4 1129.9,108.4C1131.2,108.4 1132.5,108.4 1133.9,108.4C1135.2,108.4 1136.5,108.4 1137.9,108.4C1139.2,108.4 1140.5,108.4 1141.9,108.4C1143.2,108.4 1144.5,108.4 1145.9,108.4C1147.2,108.4 1148.5,108.4 1149.9,108.4C1151.2,108.4 1152.5,108.4 1153.9,108.4C1155.2,108.4 1156.5,108.4 1157.9,108.4C1159.2,108.4 1160.5,108.4 1161.9,108.4C1163.2,108.4 1164.6,108.4 1165.9,108.4C1167.2,108.4 1168.6,108.3 1169.9,108.3C1171.2,108.3 1172.6,108.3 1173.9,108.3C1175.2,108.3 1176.6,108.2 1177.9,108.2C1179.2,108.2 1180.6,108.2 1181.9,108.1C1183.2,108.1 1184.6,108.0 1185.9,107.9C1187.2,107.8 1188.6,107.7 1189.9,107.6C1191.2,107.5 1192.5,107.3 1193.9,107.2C1195.2,107.0 1196.5,106.8 1197.8,106.7C1199.2,106.6 1200.5,106.4 1201.8,106.3C1203.1,106.3 1204.5,106.3 1205.8,106.5C1207.1,106.7 1208.4,107.0 1209.6,107.5C1210.8,108.0 1212.0,108.6 1213.1,109.4C1214.2,110.1 1215.2,111.0 1216.1,112.0C1217.0,112.9 1217.8,114.0 1218.6,115.1C1219.3,116.2 1220.0,117.3 1220.6,118.5C1221.3,119.7 1221.8,120.9 1222.4,122.1C1222.9,123.3 1223.4,124.5 1223.9,125.8C1224.4,127.0 1224.9,128.3 1225.3,129.5C1225.7,130.8 1226.1,132.1 1226.5,133.3C1226.9,134.6 1227.3,135.9 1227.7,137.2C1228.0,138.5 1228.4,139.7 1228.8,141.0C1229.1,142.3 1229.5,143.6 1229.8,144.9C1230.1,146.2 1230.5,147.5 1230.8,148.8C1231.1,150.1 1231.4,151.4 1231.7,152.7C1232.0,154.0 1232.3,155.3 1232.6,156.6C1232.9,157.9 1233.2,159.2 1233.5,160.5C1233.8,161.8 1234.1,163.1 1234.4,164.4C1234.7,165.7 1235.0,167.0 1235.3,168.3C1235.6,169.6 1235.8,170.9 1236.1,172.2C1236.4,173.5 1236.7,174.8 1237.0,176.1C1237.2,177.4 1237.5,178.7 1237.8,180.0C1238.1,181.3 1238.4,182.6 1238.6,183.9C1238.9,185.2 1239.2,186.5 1239.5,187.8C1239.8,189.2 1240.0,190.5 1240.3,191.8C1240.6,193.1 1240.8,194.4 1241.1,195.7C1241.4,197.0 1241.7,198.3 1241.9,199.6C1242.2,200.9 1242.5,202.2 1242.7,203.5C1243.0,204.8 1243.3,206.1 1243.6,207.4C1243.8,208.7 1244.1,210.1 1244.4,211.4C1244.6,212.7 1244.9,214.0 1245.2,215.3C1245.4,216.6 1245.7,217.9 1246.0,219.2C1246.2,220.5 1246.5,221.8 1246.8,223.1C1247.1,224.4 1247.3,225.7 1247.6,227.0C1247.9,228.3 1248.1,229.7 1248.4,231.0C1248.7,232.3 1249.0,233.6 1249.3,234.9C1249.5,236.2 1249.8,237.5 1250.1,238.8C1250.4,240.1 1250.7,241.4 1250.9,242.7C1251.2,244.0 1251.5,245.3 1251.8,246.6C1252.1,247.9 1252.4,249.2 1252.6,250.5C1252.9,251.8 1253.2,253.1 1253.5,254.4C1253.8,255.7 1254.1,257.0 1254.4,258.3C1254.6,259.6 1254.9,261.0 1255.2,262.3C1255.5,263.6 1255.8,264.9 1256.1,266.2C1256.4,267.5 1256.7,268.8 1256.9,270.1C1257.2,271.4 1257.5,272.7 1257.8,274.0C1258.1,275.3 1258.4,276.6 1258.7,277.9C1259.0,279.2 1259.3,280.5 1259.5,281.8C1259.8,283.1 1260.1,284.4 1260.4,285.7C1260.7,287.0 1261.0,288.3 1261.3,289.6C1261.6,290.9 1261.9,292.2 1262.1,293.5C1262.4,294.8 1262.7,296.1 1263.0,297.4C1263.3,298.7 1263.6,300.0 1263.9,301.3C1264.0,301.8 1264.1,302.3 1264.2,302.8" stroke="#0c1c7c"/>
</g>
<g class="c" stroke-width="3.4">
<path d="M18.2,727.1C18.7,725.9 19.2,724.6 19.6,723.4C20.1,722.1 20.6,720.9 21.1,719.6C21.6,718.4 22.0,717.1 22.5,715.9C23.0,714.7 23.5,713.4 24.0,712.2C24.5,710.9 25.0,709.7 25.4,708.4C25.9,707.2 26.4,706.0 26.9,704.7C27.4,703.5 27.9,702.2 28.3,701.0C28.8,699.7 29.3,698.5 29.8,697.3C30.3,696.0 30.8,694.8 31.2,693.5C31.7,692.3 32.2,691.0 32.7,689.8C33.2,688.5 33.6,687.3 34.1,686.1C34.6,684.8 35.0,683.6 35.5,682.3C36.0,681.1 36.4,679.8 36.9,678.6C37.4,677.3 37.8,676.1 38.3,674.8C38.7,673.5 39.2,672.3 39.6,671.0C40.1,669.8 40.5,668.5 41.0,667.3C41.4,666.0 41.9,664.8 42.4,663.5C42.8,662.3 43.3,661.0 43.7,659.8C44.2,658.5 44.6,657.2 45.1,656.0C45.5,654.7 45.9,653.5 46.3,652.2C46.7,650.9 47.1,649.6 47.5,648.4C47.8,647.1 48.2,645.8 48.5,644.5C48.8,643.2 49.0,641.9 49.3,640.6C49.5,639.2 49.7,637.9 49.9,636.6C50.1,635.3 50.4,634.0 50.6,632.7C50.8,631.4 51.1,630.0 51.4,628.7C51.7,627.4 52.0,626.2 52.4,624.9C52.8,623.6 53.2,622.3 53.7,621.1C54.1,619.8 54.6,618.6 55.1,617.4C55.6,616.1 56.1,614.9 56.6,613.7C57.2,612.4 57.7,611.2 58.2,610.0C58.7,608.8 59.3,607.5 59.9,606.3C60.4,605.1 61.0,603.9 61.6,602.7C62.1,601.5 62.7,600.3 63.4,599.1C64.0,597.9 64.6,596.8 65.2,595.6C65.8,594.4 66.5,593.3 67.2,592.1C67.9,591.0 68.6,589.9 69.4,588.8C70.2,587.7 71.0,586.6 71.9,585.7C72.8,584.7 73.8,583.8 74.9,583.1C75.9,582.4 77.2,581.8 78.4,581.4C79.6,581.0 81.0,580.8 82.3,580.9C83.5,580.9 84.9,581.2 86.1,581.6C87.3,582.0 88.5,582.7 89.6,583.4C90.7,584.2 91.6,585.1 92.6,586.0C93.5,587.0 94.3,588.0 95.1,589.1C95.9,590.1 96.7,591.2 97.4,592.3C98.1,593.5 98.8,594.6 99.5,595.8C100.2,596.9 100.8,598.1 101.5,599.2C102.1,600.4 102.8,601.6 103.4,602.7C104.1,603.9 104.7,605.1 105.3,606.3C105.9,607.4 106.6,608.6 107.2,609.8C107.8,611.0 108.4,612.2 109.1,613.3C109.7,614.5 110.4,615.7 111.1,616.8C111.7,617.9 112.4,619.1 113.2,620.2C113.9,621.3 114.7,622.4 115.6,623.4C116.5,624.3 117.4,625.3 118.5,626.1C119.5,626.9 120.7,627.5 121.9,628.0C123.1,628.4 124.4,628.7 125.7,628.8C127.1,629.0 128.4,629.0 129.7,629.0C131.1,629.1 132.4,629.0 133.7,629.0C135.1,629.0 136.4,629.0 137.7,628.9C139.1,628.9 140.4,628.8 141.7,628.7C143.0,628.6 144.4,628.5 145.7,628.4C147.0,628.2 148.3,628.0 149.7,627.8C151.0,627.5 152.3,627.2 153.6,627.0C154.9,626.7 156.2,626.4 157.5,626.1C158.8,625.9 160.1,625.6 161.4,625.5C162.7,625.3 164.1,625.2 165.4,625.1C166.7,625.0 168.1,625.0 169.4,625.1C170.7,625.1 172.1,625.2 173.4,625.3C174.7,625.5 176.0,625.7 177.3,625.9C178.6,626.2 180.0,626.5 181.3,626.7C182.6,627.0 183.9,627.3 185.2,627.6C186.5,627.8 187.8,628.1 189.1,628.2C190.4,628.4 191.8,628.5 193.1,628.7C194.4,628.8 195.7,628.8 197.1,628.9C198.4,628.9 199.7,629.0 201.1,629.0C202.4,629.0 203.7,629.0 205.1,629.0C206.4,629.0 207.7,629.1 209.1,628.9C210.4,628.8 211.7,628.7 213.0,628.3C214.2,627.9 215.4,627.3 216.5,626.7C217.6,626.0 218.6,625.0 219.5,624.1C220.5,623.1 221.3,622.1 222.0,621.0C222.8,619.9 223.5,618.8 224.2,617.7C224.9,616.5 225.6,615.4 226.2,614.2C226.9,613.0 227.5,611.9 228.1,610.7C228.8,609.5 229.4,608.3 230.0,607.1C230.6,606.0 231.3,604.8 231.9,603.6C232.5,602.4 233.2,601.3 233.8,600.1C234.5,598.9 235.1,597.8 235.8,596.6C236.5,595.5 237.1,594.3 237.8,593.2C238.6,592.1 239.3,590.9 240.1,589.9C240.9,588.8 241.7,587.7 242.6,586.8C243.5,585.8 244.4,584.8 245.4,584.0C246.5,583.2 247.6,582.5 248.8,581.9C250.0,581.4 251.3,581.1 252.6,580.9C253.8,580.8 255.2,580.9 256.5,581.1C257.7,581.4 259.0,581.9 260.1,582.6C261.2,583.2 262.3,584.1 263.2,585.0C264.2,585.9 265.0,586.9 265.8,588.0C266.6,589.0 267.4,590.1 268.1,591.3C268.8,592.4 269.5,593.5 270.1,594.7C270.8,595.9 271.4,597.1 272.0,598.2C272.6,599.4 273.2,600.6 273.8,601.8C274.4,603.0 275.0,604.2 275.5,605.4C276.1,606.6 276.6,607.8 277.2,609.1C277.7,610.3 278.3,611.5 278.8,612.7C279.3,614.0 279.8,615.2 280.3,616.4C280.8,617.7 281.3,618.9 281.8,620.2C282.2,621.4 282.7,622.7 283.1,623.9C283.5,625.2 283.9,626.5 284.2,627.8C284.5,629.1 284.8,630.4 285.0,631.7C285.3,633.0 285.5,634.3 285.7,635.6C285.9,636.9 286.1,638.3 286.4,639.6C286.6,640.9 286.8,642.2 287.1,643.5C287.4,644.8 287.7,646.1 288.0,647.4C288.4,648.7 288.8,650.0 289.2,651.2C289.6,652.5 290.0,653.8 290.4,655.0C290.8,656.3 291.3,657.6 291.7,658.8C292.2,660.1 292.6,661.3 293.1,662.6C293.5,663.8 294.0,665.1 294.5,666.3C294.9,667.6 295.4,668.8 295.8,670.1C296.3,671.3 296.7,672.6 297.2,673.9C297.6,675.1 298.1,676.4 298.6,677.6C299.0,678.9 299.5,680.1 299.9,681.4C300.4,682.6 300.9,683.9 301.3,685.1C301.8,686.4 302.3,687.6 302.8,688.9C303.2,690.1 303.7,691.4 304.2,692.6C304.7,693.8 305.2,695.1 305.6,696.3C306.1,697.6 306.6,698.8 307.1,700.1C307.6,701.3 308.1,702.5 308.5,703.8C309.0,705.0 309.5,706.3 310.0,707.5C310.5,708.8 311.0,710.0 311.5,711.2C311.9,712.5 312.4,713.7 312.9,715.0C313.4,716.2 313.9,717.5 314.4,718.7C314.8,719.9 315.3,721.2 315.8,722.4C316.3,723.7 316.8,724.9 317.2,726.2C317.4,726.5 317.5,726.8 317.6,727.1" stroke="#5a4a0a"/>
<path d="M18.2,727.1C18.7,725.9 19.2,724.6 19.6,723.4C20.1,722.1 20.6,720.9 21.1,719.6C21.6,718.4 22.0,717.1 22.5,715.9C23.0,714.7 23.5,713.4 24.0,712.2C24.4,710.9 24.9,709.7 25.4,708.4C25.9,707.2 26.4,706.0 26.9,704.7C27.3,703.5 27.8,702.2 28.3,701.0C28.8,699.7 29.3,698.5 29.8,697.2C30.2,696.0 30.7,694.8 31.2,693.5C31.7,692.3 32.2,691.0 32.6,689.8C33.1,688.5 33.6,687.3 34.1,686.0C34.5,684.8 35.0,683.5 35.5,682.3C35.9,681.0 36.4,679.8 36.9,678.5C37.3,677.3 37.8,676.0 38.3,674.8C38.7,673.5 39.2,672.3 39.6,671.0C40.1,669.8 40.5,668.5 41.0,667.3C41.4,666.0 41.8,664.7 42.2,663.5C42.7,662.2 43.1,660.9 43.5,659.7C43.9,658.4 44.3,657.1 44.8,655.9C45.2,654.6 45.7,653.4 46.1,652.1C46.6,650.9 47.1,649.6 47.6,648.4C48.1,647.2 48.6,645.9 49.2,644.7C49.7,643.5 50.3,642.3 50.8,641.1C51.4,639.9 52.0,638.7 52.5,637.5C53.1,636.3 53.7,635.1 54.3,633.9C54.9,632.7 55.5,631.5 56.2,630.3C56.8,629.2 57.5,628.0 58.1,626.8C58.8,625.7 59.5,624.5 60.2,623.4C60.9,622.3 61.6,621.1 62.4,620.0C63.1,619.0 63.9,617.9 64.8,616.9C65.7,615.9 66.6,614.9 67.6,614.0C68.6,613.2 69.6,612.3 70.7,611.6C71.8,610.9 73.0,610.2 74.2,609.9C75.5,609.5 76.8,609.4 78.1,609.5C79.4,609.6 80.7,610.0 81.8,610.5C83.0,611.0 84.1,611.8 85.2,612.6C86.2,613.4 87.1,614.4 88.1,615.3C89.0,616.2 89.9,617.2 90.9,618.2C91.8,619.1 92.7,620.1 93.7,621.0C94.7,621.9 95.7,622.8 96.7,623.6C97.8,624.3 98.9,625.1 100.1,625.6C101.3,626.2 102.6,626.5 103.9,626.8C105.2,627.0 106.5,627.0 107.8,627.0C109.1,626.9 110.5,626.7 111.8,626.4C113.1,626.1 114.3,625.7 115.6,625.4C116.9,625.0 118.2,624.6 119.4,624.2C120.7,623.8 122.0,623.4 123.3,623.1C124.6,622.9 125.9,622.8 127.2,622.9C128.5,622.9 129.8,623.2 131.1,623.6C132.4,623.9 133.6,624.4 134.9,624.9C136.1,625.3 137.3,625.9 138.6,626.3C139.8,626.8 141.1,627.2 142.4,627.6C143.7,627.9 145.0,628.1 146.3,628.2C147.6,628.3 148.9,628.3 150.3,628.2C151.6,628.1 152.9,627.9 154.2,627.7C155.6,627.5 156.9,627.3 158.2,627.1C159.5,627.0 160.8,626.8 162.2,626.6C163.5,626.5 164.8,626.4 166.2,626.4C167.5,626.3 168.8,626.4 170.1,626.4C171.5,626.5 172.8,626.6 174.1,626.7C175.5,626.8 176.8,627.0 178.1,627.2C179.4,627.4 180.7,627.6 182.1,627.8C183.4,627.9 184.7,628.1 186.0,628.2C187.4,628.3 188.7,628.3 190.0,628.2C191.3,628.1 192.6,627.8 193.9,627.4C195.2,627.1 196.4,626.6 197.7,626.1C198.9,625.7 200.1,625.1 201.4,624.7C202.7,624.2 203.9,623.7 205.2,623.4C206.5,623.1 207.8,622.9 209.1,622.8C210.4,622.8 211.7,623.0 213.0,623.2C214.3,623.5 215.6,624.0 216.8,624.3C218.1,624.7 219.4,625.2 220.7,625.5C221.9,625.9 223.2,626.3 224.5,626.5C225.8,626.7 227.2,627.0 228.5,627.0C229.8,627.0 231.1,626.9 232.4,626.7C233.7,626.4 235.0,626.0 236.1,625.4C237.3,624.9 238.4,624.1 239.5,623.3C240.5,622.5 241.5,621.5 242.4,620.6C243.4,619.7 244.3,618.7 245.3,617.8C246.2,616.8 247.1,615.9 248.1,614.9C249.0,614.0 249.9,613.0 251.0,612.3C252.1,611.5 253.2,610.8 254.4,610.3C255.6,609.8 256.9,609.5 258.2,609.5C259.5,609.4 260.8,609.6 262.0,610.0C263.2,610.4 264.4,611.1 265.5,611.9C266.6,612.6 267.6,613.5 268.6,614.4C269.5,615.3 270.5,616.3 271.3,617.3C272.2,618.3 273.0,619.4 273.7,620.5C274.5,621.5 275.2,622.7 275.9,623.8C276.6,625.0 277.3,626.1 277.9,627.3C278.6,628.4 279.2,629.6 279.9,630.8C280.5,631.9 281.1,633.1 281.7,634.3C282.3,635.5 282.9,636.7 283.5,637.9C284.1,639.1 284.6,640.3 285.2,641.5C285.8,642.7 286.3,643.9 286.8,645.2C287.4,646.4 287.9,647.6 288.4,648.9C288.9,650.1 289.4,651.3 289.8,652.6C290.3,653.8 290.7,655.1 291.2,656.4C291.6,657.6 292.0,658.9 292.5,660.1C292.9,661.4 293.3,662.7 293.7,663.9C294.1,665.2 294.6,666.5 295.0,667.7C295.4,669.0 295.9,670.2 296.3,671.5C296.8,672.8 297.3,674.0 297.7,675.3C298.2,676.5 298.6,677.8 299.1,679.0C299.6,680.3 300.0,681.5 300.5,682.8C301.0,684.0 301.5,685.3 301.9,686.5C302.4,687.8 302.9,689.0 303.4,690.2C303.8,691.5 304.3,692.7 304.8,694.0C305.3,695.2 305.7,696.5 306.2,697.7C306.7,699.0 307.2,700.2 307.7,701.4C308.2,702.7 308.6,703.9 309.1,705.2C309.6,706.4 310.1,707.7 310.6,708.9C311.1,710.1 311.5,711.4 312.0,712.6C312.5,713.9 313.0,715.1 313.5,716.4C313.9,717.6 314.4,718.9 314.9,720.1C315.4,721.3 315.9,722.6 316.3,723.8C316.8,724.9 317.2,726.0 317.6,727.1" stroke="#44b4b6"/>
<path d="M18.2,727.1C18.8,725.9 19.3,724.7 19.9,723.5C20.5,722.3 21.0,721.1 21.6,719.9C22.2,718.6 22.7,717.4 23.3,716.2C23.9,715.0 24.4,713.8 25.0,712.6C25.6,711.4 26.1,710.2 26.7,709.0C27.2,707.8 27.8,706.6 28.4,705.3C28.9,704.1 29.5,702.9 30.1,701.7C30.6,700.5 31.2,699.3 31.8,698.1C32.3,696.9 32.9,695.7 33.5,694.5C34.0,693.3 34.6,692.0 35.2,690.8C35.7,689.6 36.3,688.4 36.9,687.2C37.4,686.0 38.0,684.8 38.6,683.6C39.1,682.4 39.7,681.2 40.3,680.0C40.9,678.8 41.4,677.6 42.0,676.4C42.6,675.2 43.2,674.0 43.8,672.8C44.3,671.6 44.9,670.4 45.5,669.2C46.1,668.0 46.7,666.8 47.3,665.6C47.9,664.4 48.5,663.2 49.0,662.0C49.6,660.8 50.1,659.6 50.7,658.3C51.2,657.1 51.7,655.9 52.2,654.7C52.7,653.4 53.2,652.2 53.6,650.9C54.1,649.7 54.5,648.4 54.9,647.1C55.3,645.8 55.6,644.5 56.1,643.3C56.5,642.0 57.0,640.8 57.6,639.6C58.1,638.4 58.8,637.2 59.5,636.1C60.2,635.0 61.0,633.9 61.9,633.0C62.8,632.0 63.9,631.2 65.0,630.5C66.1,629.8 67.3,629.2 68.5,628.7C69.8,628.2 71.1,627.9 72.3,627.6C73.6,627.3 75.0,627.2 76.3,627.1C77.6,626.9 79.0,627.0 80.3,626.9C81.6,626.8 83.0,626.9 84.3,626.7C85.6,626.5 86.9,626.2 88.1,625.7C89.4,625.3 90.6,624.8 91.7,624.1C92.8,623.4 93.9,622.5 94.9,621.7C95.9,620.9 96.9,619.9 97.9,619.0C98.9,618.2 99.9,617.3 100.9,616.4C101.9,615.6 103.0,614.7 104.0,613.9C105.1,613.1 106.2,612.3 107.3,611.7C108.4,611.0 109.6,610.3 110.9,609.9C112.1,609.4 113.4,609.0 114.7,608.7C115.9,608.5 117.3,608.4 118.6,608.4C119.9,608.5 121.2,608.7 122.5,609.1C123.7,609.5 124.9,610.1 126.0,610.8C127.2,611.5 128.3,612.3 129.3,613.1C130.3,614.0 131.2,615.0 132.0,616.0C132.9,617.0 133.8,618.0 134.6,619.0C135.5,620.0 136.3,621.1 137.2,622.1C138.1,623.1 139.0,624.1 139.9,625.0C140.8,626.0 141.8,626.9 142.8,627.7C143.9,628.5 145.0,629.3 146.2,629.8C147.4,630.4 148.7,630.7 149.9,631.0C151.2,631.3 152.6,631.4 153.9,631.5C155.2,631.6 156.6,631.7 157.9,631.7C159.2,631.8 160.6,631.8 161.9,631.8C163.2,631.9 164.6,631.9 165.9,631.9C167.2,631.9 168.6,631.9 169.9,631.9C171.2,631.9 172.6,631.9 173.9,631.8C175.2,631.8 176.6,631.8 177.9,631.7C179.2,631.7 180.6,631.6 181.9,631.5C183.2,631.4 184.6,631.3 185.9,631.0C187.1,630.7 188.4,630.4 189.6,629.8C190.8,629.3 191.9,628.5 193.0,627.7C194.0,626.9 195.0,626.0 195.9,625.0C196.8,624.1 197.7,623.1 198.6,622.1C199.5,621.1 200.3,620.0 201.2,619.0C202.0,618.0 202.9,617.0 203.8,616.0C204.6,615.0 205.5,614.0 206.5,613.1C207.5,612.3 208.6,611.5 209.8,610.8C210.9,610.1 212.1,609.5 213.3,609.1C214.6,608.7 215.9,608.5 217.2,608.4C218.5,608.4 219.9,608.5 221.1,608.7C222.4,609.0 223.7,609.4 224.9,609.9C226.2,610.3 227.4,611.0 228.5,611.7C229.6,612.3 230.7,613.1 231.8,613.9C232.8,614.7 233.9,615.6 234.9,616.4C235.9,617.3 236.9,618.2 237.9,619.0C238.9,619.9 239.9,620.9 240.9,621.7C241.9,622.5 243.0,623.4 244.1,624.1C245.2,624.8 246.4,625.3 247.7,625.7C248.9,626.2 250.2,626.5 251.5,626.7C252.8,626.9 254.2,626.8 255.5,626.9C256.8,627.0 258.2,626.9 259.5,627.1C260.8,627.2 262.2,627.3 263.5,627.6C264.7,627.9 266.0,628.2 267.3,628.7C268.5,629.2 269.7,629.8 270.8,630.5C271.9,631.2 273.0,632.0 273.9,633.0C274.8,633.9 275.6,635.0 276.3,636.1C277.0,637.2 277.7,638.4 278.2,639.6C278.8,640.8 279.3,642.0 279.7,643.3C280.2,644.5 280.5,645.8 280.9,647.1C281.3,648.4 281.7,649.7 282.2,650.9C282.6,652.2 283.1,653.4 283.6,654.7C284.1,655.9 284.6,657.1 285.1,658.3C285.7,659.6 286.2,660.8 286.8,662.0C287.3,663.2 287.9,664.4 288.5,665.6C289.1,666.8 289.7,668.0 290.3,669.2C290.9,670.4 291.5,671.6 292.0,672.8C292.6,674.0 293.2,675.2 293.8,676.4C294.4,677.6 294.9,678.8 295.5,680.0C296.1,681.2 296.7,682.4 297.2,683.6C297.8,684.8 298.4,686.0 298.9,687.2C299.5,688.4 300.1,689.6 300.6,690.8C301.2,692.0 301.8,693.3 302.3,694.5C302.9,695.7 303.5,696.9 304.0,698.1C304.6,699.3 305.2,700.5 305.7,701.7C306.3,702.9 306.9,704.1 307.4,705.3C308.0,706.6 308.6,707.8 309.1,709.0C309.7,710.2 310.2,711.4 310.8,712.6C311.4,713.8 311.9,715.0 312.5,716.2C313.1,717.4 313.6,718.6 314.2,719.9C314.8,721.1 315.3,722.3 315.9,723.5C316.5,724.7 317.0,725.9 317.6,727.1" stroke="#951e82"/>
<path d="M18.2,727.1C18.8,725.9 19.3,724.7 19.9,723.5C20.5,722.3 21.0,721.1 21.6,719.9C22.2,718.6 22.7,717.4 23.3,716.2C23.9,715.0 24.4,713.8 25.0,712.6C25.5,711.4 26.1,710.2 26.7,709.0C27.2,707.8 27.8,706.6 28.4,705.4C28.9,704.1 29.5,702.9 30.1,701.7C30.6,700.5 31.2,699.3 31.7,698.1C32.3,696.9 32.9,695.7 33.4,694.5C34.0,693.3 34.6,692.1 35.1,690.9C35.7,689.7 36.3,688.4 36.8,687.2C37.4,686.0 38.0,684.8 38.6,683.6C39.1,682.4 39.7,681.2 40.3,680.0C40.9,678.8 41.4,677.6 42.0,676.4C42.6,675.2 43.2,674.0 43.7,672.8C44.3,671.6 44.9,670.4 45.5,669.2C46.1,668.0 46.6,666.8 47.2,665.6C47.8,664.4 48.4,663.2 49.0,662.0C49.6,660.8 50.2,659.6 50.8,658.4C51.4,657.3 52.1,656.1 52.7,654.9C53.4,653.8 54.0,652.6 54.7,651.4C55.4,650.3 56.1,649.2 56.8,648.0C57.5,646.9 58.2,645.8 59.0,644.7C59.8,643.6 60.5,642.5 61.4,641.5C62.2,640.4 63.0,639.4 63.9,638.4C64.8,637.4 65.7,636.4 66.6,635.4C67.5,634.5 68.5,633.5 69.4,632.6C70.3,631.6 71.3,630.7 72.2,629.8C73.2,628.8 74.2,627.9 75.1,627.0C76.0,626.0 76.9,625.0 77.8,624.0C78.6,623.0 79.4,621.9 80.2,620.8C80.9,619.7 81.6,618.6 82.3,617.4C83.0,616.3 83.7,615.1 84.3,614.0C85.0,612.8 85.6,611.6 86.2,610.5C86.9,609.3 87.5,608.1 88.2,607.0C88.8,605.8 89.5,604.7 90.2,603.5C90.9,602.4 91.7,601.3 92.4,600.2C93.2,599.1 93.9,598.0 94.7,596.9C95.4,595.8 96.1,594.7 96.9,593.6C97.7,592.5 98.5,591.4 99.4,590.4C100.3,589.4 101.2,588.5 102.2,587.6C103.2,586.7 104.2,585.9 105.4,585.3C106.5,584.7 107.8,584.1 109.0,583.9C110.3,583.7 111.6,583.7 112.9,584.0C114.1,584.2 115.4,584.8 116.5,585.4C117.6,586.1 118.7,587.0 119.6,587.9C120.6,588.7 121.5,589.8 122.4,590.7C123.3,591.7 124.2,592.7 125.0,593.7C125.9,594.8 126.7,595.8 127.5,596.9C128.3,597.9 129.1,599.0 129.8,600.1C130.6,601.2 131.3,602.4 132.0,603.5C132.7,604.6 133.3,605.8 134.0,607.0C134.6,608.1 135.3,609.3 135.9,610.5C136.5,611.7 137.1,612.9 137.7,614.1C138.3,615.2 138.9,616.4 139.6,617.6C140.2,618.8 140.9,619.9 141.6,621.0C142.3,622.1 143.0,623.3 143.9,624.3C144.7,625.3 145.6,626.4 146.5,627.2C147.5,628.1 148.6,628.9 149.8,629.5C150.9,630.1 152.2,630.5 153.5,630.9C154.8,631.2 156.1,631.3 157.4,631.4C158.7,631.6 160.1,631.6 161.4,631.6C162.7,631.7 164.1,631.7 165.4,631.7C166.7,631.7 168.1,631.7 169.4,631.7C170.7,631.7 172.1,631.7 173.4,631.7C174.7,631.6 176.1,631.6 177.4,631.5C178.7,631.4 180.1,631.3 181.4,631.1C182.6,630.8 183.9,630.4 185.1,629.9C186.3,629.4 187.5,628.7 188.5,627.9C189.5,627.1 190.4,626.1 191.3,625.1C192.2,624.1 192.9,623.0 193.7,621.9C194.4,620.8 195.1,619.6 195.8,618.5C196.4,617.3 197.1,616.1 197.7,615.0C198.3,613.8 198.9,612.6 199.5,611.4C200.1,610.2 200.7,609.0 201.3,607.8C202.0,606.7 202.6,605.5 203.3,604.4C204.0,603.2 204.7,602.1 205.4,601.0C206.1,599.8 206.9,598.7 207.7,597.7C208.5,596.6 209.3,595.5 210.1,594.5C211.0,593.5 211.8,592.5 212.7,591.5C213.6,590.5 214.5,589.5 215.5,588.6C216.4,587.6 217.4,586.7 218.5,586.0C219.6,585.3 220.7,584.6 222.0,584.2C223.2,583.9 224.5,583.7 225.8,583.8C227.1,583.9 228.4,584.3 229.5,584.8C230.7,585.4 231.8,586.1 232.9,586.9C233.9,587.8 234.8,588.7 235.7,589.7C236.6,590.7 237.5,591.7 238.3,592.8C239.1,593.8 239.8,594.9 240.6,596.0C241.3,597.1 242.1,598.2 242.8,599.4C243.6,600.5 244.3,601.6 245.0,602.7C245.7,603.8 246.5,605.0 247.1,606.1C247.8,607.2 248.4,608.4 249.1,609.6C249.7,610.8 250.3,611.9 251.0,613.1C251.6,614.3 252.3,615.4 253.0,616.6C253.7,617.7 254.3,618.9 255.1,620.0C255.8,621.1 256.6,622.2 257.4,623.2C258.2,624.3 259.1,625.3 260.0,626.3C260.9,627.2 261.9,628.1 262.8,629.1C263.8,630.0 264.7,630.9 265.7,631.9C266.6,632.8 267.6,633.8 268.5,634.7C269.4,635.7 270.3,636.7 271.2,637.7C272.1,638.6 273.0,639.7 273.8,640.7C274.6,641.7 275.5,642.8 276.2,643.9C277.0,645.0 277.7,646.1 278.5,647.2C279.2,648.3 279.9,649.4 280.6,650.6C281.3,651.7 281.9,652.9 282.6,654.0C283.2,655.2 283.9,656.4 284.5,657.6C285.1,658.7 285.7,659.9 286.3,661.1C287.0,662.3 287.5,663.5 288.1,664.7C288.7,665.9 289.3,667.1 289.9,668.3C290.5,669.5 291.0,670.7 291.6,671.9C292.2,673.1 292.8,674.3 293.4,675.5C293.9,676.7 294.5,677.9 295.1,679.1C295.7,680.3 296.2,681.5 296.8,682.7C297.4,683.9 298.0,685.1 298.5,686.3C299.1,687.5 299.7,688.7 300.2,690.0C300.8,691.2 301.4,692.4 301.9,693.6C302.5,694.8 303.1,696.0 303.6,697.2C304.2,698.4 304.8,699.6 305.3,700.8C305.9,702.0 306.4,703.2 307.0,704.4C307.6,705.7 308.1,706.9 308.7,708.1C309.3,709.3 309.8,710.5 310.4,711.7C311.0,712.9 311.5,714.1 312.1,715.3C312.6,716.5 313.2,717.7 313.8,719.0C314.3,720.2 314.9,721.4 315.5,722.6C316.0,723.8 316.6,725.0 317.2,726.2C317.3,726.5 317.5,726.8 317.6,727.1" stroke="#f2560e"/>
<path d="M18.2,727.1C18.7,725.9 19.3,724.6 19.8,723.4C20.3,722.2 20.8,721.0 21.3,719.7C21.9,718.5 22.4,717.3 22.9,716.1C23.4,714.8 24.0,713.6 24.5,712.4C25.0,711.1 25.5,709.9 26.0,708.7C26.6,707.5 27.1,706.2 27.6,705.0C28.1,703.8 28.6,702.5 29.2,701.3C29.7,700.1 30.2,698.9 30.7,697.6C31.2,696.4 31.8,695.2 32.3,693.9C32.8,692.7 33.3,691.5 33.9,690.3C34.4,689.0 34.9,687.8 35.4,686.6C36.0,685.4 36.5,684.1 37.0,682.9C37.6,681.7 38.1,680.5 38.7,679.3C39.2,678.0 39.7,676.8 40.3,675.6C40.8,674.4 41.4,673.2 41.9,671.9C42.5,670.7 43.0,669.5 43.6,668.3C44.1,667.1 44.7,665.9 45.2,664.7C45.8,663.5 46.4,662.2 46.9,661.0C47.5,659.8 48.1,658.6 48.6,657.4C49.2,656.2 49.8,655.0 50.3,653.8C50.9,652.6 51.5,651.4 52.0,650.2C52.6,649.0 53.2,647.8 53.8,646.6C54.4,645.4 54.9,644.2 55.5,643.0C56.1,641.7 56.6,640.5 57.2,639.3C57.7,638.1 58.3,636.9 58.8,635.7C59.4,634.5 59.9,633.2 60.5,632.0C61.0,630.8 61.5,629.6 62.1,628.3C62.6,627.1 63.1,625.9 63.6,624.6C64.1,623.4 64.6,622.2 65.0,620.9C65.5,619.7 66.0,618.4 66.4,617.2C66.9,615.9 67.3,614.6 67.7,613.4C68.2,612.1 68.6,610.9 69.0,609.6C69.5,608.3 69.9,607.1 70.3,605.8C70.8,604.5 71.2,603.3 71.6,602.0C72.0,600.7 72.4,599.5 72.8,598.2C73.3,596.9 73.7,595.7 74.1,594.4C74.6,593.2 75.0,591.9 75.5,590.7C75.9,589.4 76.4,588.2 76.9,586.9C77.4,585.7 77.9,584.5 78.5,583.2C79.0,582.0 79.5,580.8 80.1,579.6C80.7,578.4 81.2,577.2 81.8,576.0C82.4,574.8 83.1,573.6 83.7,572.4C84.3,571.2 85.0,570.1 85.6,568.9C86.3,567.8 87.0,566.6 87.8,565.6C88.5,564.5 89.3,563.4 90.2,562.4C91.1,561.4 92.0,560.4 93.0,559.6C94.0,558.7 95.1,557.9 96.2,557.2C97.4,556.6 98.6,556.0 99.8,555.5C101.1,555.1 102.4,554.8 103.7,554.7C104.9,554.7 106.3,554.8 107.5,555.2C108.8,555.5 109.9,556.2 111.0,556.9C112.1,557.6 113.1,558.6 114.0,559.5C115.0,560.4 115.8,561.4 116.7,562.5C117.5,563.5 118.4,564.5 119.1,565.6C119.9,566.7 120.6,567.8 121.3,569.0C122.0,570.1 122.6,571.3 123.2,572.5C123.8,573.7 124.4,574.9 124.9,576.1C125.4,577.4 125.8,578.6 126.3,579.9C126.7,581.1 127.2,582.4 127.6,583.6C128.1,584.9 128.5,586.2 129.0,587.4C129.4,588.7 129.8,589.9 130.3,591.2C130.7,592.4 131.2,593.7 131.6,595.0C132.1,596.2 132.5,597.5 133.0,598.7C133.4,600.0 133.9,601.2 134.4,602.5C134.8,603.7 135.3,605.0 135.8,606.2C136.3,607.5 136.8,608.7 137.3,609.9C137.8,611.2 138.3,612.4 138.8,613.6C139.3,614.9 139.9,616.1 140.5,617.3C141.1,618.5 141.7,619.6 142.4,620.7C143.1,621.9 143.9,623.0 144.7,624.0C145.6,625.0 146.5,626.0 147.5,626.8C148.5,627.7 149.6,628.4 150.8,629.0C152.0,629.6 153.2,630.1 154.5,630.5C155.8,630.8 157.1,630.9 158.4,631.1C159.7,631.3 161.1,631.3 162.4,631.4C163.7,631.5 165.1,631.5 166.4,631.5C167.7,631.6 169.1,631.6 170.4,631.5C171.7,631.5 173.1,631.4 174.4,631.3C175.7,631.2 177.1,631.2 178.4,631.0C179.7,630.8 181.0,630.6 182.3,630.2C183.5,629.8 184.7,629.2 185.9,628.5C187.0,627.9 188.1,627.1 189.0,626.2C190.0,625.3 190.9,624.3 191.7,623.2C192.5,622.2 193.2,621.0 193.9,619.9C194.6,618.8 195.2,617.6 195.8,616.4C196.4,615.2 196.9,613.9 197.4,612.7C197.9,611.5 198.4,610.3 198.9,609.0C199.4,607.8 199.9,606.5 200.4,605.3C200.9,604.0 201.3,602.8 201.8,601.5C202.2,600.3 202.7,599.0 203.2,597.8C203.6,596.5 204.1,595.3 204.5,594.0C205.0,592.8 205.4,591.5 205.8,590.2C206.3,589.0 206.7,587.7 207.2,586.5C207.6,585.2 208.1,584.0 208.5,582.7C209.0,581.4 209.4,580.2 209.9,578.9C210.3,577.7 210.8,576.4 211.3,575.2C211.8,574.0 212.4,572.8 213.0,571.6C213.6,570.4 214.3,569.2 215.0,568.1C215.7,567.0 216.5,565.9 217.3,564.8C218.1,563.8 218.9,562.7 219.8,561.7C220.6,560.7 221.5,559.7 222.5,558.8C223.4,557.9 224.5,557.0 225.6,556.4C226.7,555.7 228.0,555.2 229.2,554.9C230.5,554.7 231.8,554.7 233.1,554.8C234.4,555.0 235.7,555.4 236.9,555.9C238.1,556.4 239.3,557.0 240.4,557.8C241.5,558.5 242.5,559.3 243.5,560.2C244.5,561.1 245.4,562.1 246.2,563.2C247.1,564.2 247.9,565.3 248.6,566.4C249.3,567.5 250.0,568.6 250.7,569.8C251.3,570.9 252.0,572.1 252.6,573.3C253.2,574.5 253.8,575.7 254.4,576.9C255.0,578.1 255.6,579.3 256.1,580.5C256.7,581.7 257.2,582.9 257.7,584.2C258.2,585.4 258.7,586.6 259.2,587.9C259.7,589.1 260.2,590.3 260.7,591.6C261.1,592.8 261.6,594.1 262.0,595.4C262.5,596.6 262.9,597.9 263.3,599.2C263.7,600.4 264.1,601.7 264.5,603.0C264.9,604.2 265.4,605.5 265.8,606.8C266.2,608.0 266.7,609.3 267.1,610.5C267.5,611.8 268.0,613.1 268.4,614.3C268.8,615.6 269.3,616.8 269.7,618.1C270.2,619.4 270.7,620.6 271.1,621.9C271.6,623.1 272.1,624.3 272.6,625.6C273.1,626.8 273.6,628.0 274.1,629.3C274.7,630.5 275.2,631.7 275.7,632.9C276.3,634.2 276.8,635.4 277.4,636.6C277.9,637.8 278.5,639.0 279.0,640.2C279.6,641.4 280.2,642.6 280.7,643.9C281.3,645.1 281.9,646.3 282.5,647.5C283.0,648.7 283.6,649.9 284.2,651.1C284.8,652.3 285.3,653.5 285.9,654.7C286.5,655.9 287.0,657.1 287.6,658.3C288.2,659.5 288.7,660.7 289.3,661.9C289.9,663.2 290.4,664.4 291.0,665.6C291.5,666.8 292.1,668.0 292.6,669.2C293.2,670.4 293.7,671.6 294.3,672.9C294.8,674.1 295.4,675.3 295.9,676.5C296.5,677.7 297.0,679.0 297.6,680.2C298.1,681.4 298.6,682.6 299.2,683.8C299.7,685.1 300.2,686.3 300.8,687.5C301.3,688.7 301.8,690.0 302.3,691.2C302.9,692.4 303.4,693.6 303.9,694.9C304.4,696.1 305.0,697.3 305.5,698.5C306.0,699.8 306.5,701.0 307.0,702.2C307.6,703.5 308.1,704.7 308.6,705.9C309.1,707.1 309.6,708.4 310.2,709.6C310.7,710.8 311.2,712.1 311.7,713.3C312.2,714.5 312.8,715.7 313.3,717.0C313.8,718.2 314.3,719.4 314.8,720.7C315.4,721.9 315.9,723.1 316.4,724.3C316.8,725.3 317.2,726.2 317.6,727.1" stroke="#3e9e0c"/>
<path d="M18.2,727.1C18.6,725.8 19.0,724.6 19.5,723.3C19.9,722.0 20.3,720.8 20.7,719.5C21.1,718.2 21.6,717.0 22.0,715.7C22.4,714.4 22.8,713.2 23.3,711.9C23.7,710.6 24.1,709.4 24.5,708.1C25.0,706.9 25.4,705.6 25.8,704.3C26.2,703.1 26.7,701.8 27.1,700.5C27.5,699.3 27.9,698.0 28.3,696.7C28.8,695.5 29.2,694.2 29.6,692.9C30.0,691.7 30.4,690.4 30.9,689.1C31.3,687.9 31.7,686.6 32.1,685.3C32.5,684.1 32.9,682.8 33.3,681.5C33.7,680.2 34.1,679.0 34.5,677.7C34.9,676.4 35.3,675.2 35.7,673.9C36.1,672.6 36.5,671.3 36.9,670.0C37.3,668.8 37.6,667.5 38.0,666.2C38.4,664.9 38.8,663.6 39.1,662.4C39.5,661.1 39.9,659.8 40.2,658.5C40.6,657.2 41.0,656.0 41.3,654.7C41.7,653.4 42.0,652.1 42.4,650.8C42.8,649.5 43.1,648.2 43.5,647.0C43.8,645.7 44.2,644.4 44.5,643.1C44.9,641.8 45.3,640.5 45.6,639.2C46.0,638.0 46.3,636.7 46.7,635.4C47.0,634.1 47.4,632.8 47.8,631.5C48.1,630.2 48.5,629.0 48.8,627.7C49.2,626.4 49.6,625.1 49.9,623.8C50.2,622.5 50.6,621.2 50.9,619.9C51.3,618.7 51.6,617.4 51.9,616.1C52.3,614.8 52.6,613.5 53.0,612.2C53.3,610.9 53.7,609.6 54.0,608.3C54.4,607.1 54.7,605.8 55.1,604.5C55.4,603.2 55.8,601.9 56.2,600.6C56.6,599.4 57.0,598.1 57.4,596.8C57.8,595.5 58.2,594.3 58.6,593.0C59.0,591.7 59.4,590.5 59.9,589.2C60.3,588.0 60.8,586.7 61.3,585.5C61.7,584.2 62.2,583.0 62.7,581.7C63.2,580.5 63.6,579.2 64.1,578.0C64.6,576.7 65.0,575.5 65.5,574.2C65.9,573.0 66.4,571.7 66.8,570.5C67.3,569.2 67.8,568.0 68.2,566.7C68.7,565.5 69.2,564.2 69.7,563.0C70.2,561.7 70.7,560.5 71.2,559.3C71.7,558.0 72.3,556.8 72.8,555.6C73.3,554.4 73.8,553.1 74.4,551.9C74.9,550.7 75.4,549.5 76.0,548.3C76.5,547.0 77.1,545.8 77.7,544.6C78.3,543.4 78.9,542.3 79.6,541.1C80.2,539.9 80.9,538.8 81.6,537.6C82.3,536.5 83.0,535.4 83.8,534.3C84.5,533.2 85.3,532.1 86.1,531.1C87.0,530.0 87.8,529.0 88.8,528.2C89.8,527.3 90.9,526.5 92.1,525.9C93.2,525.3 94.5,524.9 95.8,524.7C97.0,524.6 98.4,524.6 99.7,524.9C100.9,525.1 102.2,525.6 103.4,526.2C104.5,526.8 105.6,527.6 106.6,528.4C107.6,529.2 108.5,530.2 109.4,531.3C110.3,532.3 111.0,533.4 111.8,534.5C112.5,535.6 113.2,536.7 113.9,537.8C114.7,538.9 115.4,540.1 116.1,541.2C116.7,542.4 117.4,543.5 118.1,544.7C118.8,545.8 119.4,547.0 120.1,548.1C120.7,549.3 121.3,550.5 122.0,551.7C122.6,552.9 123.1,554.1 123.7,555.3C124.3,556.5 124.8,557.7 125.3,558.9C125.8,560.2 126.3,561.4 126.8,562.6C127.3,563.9 127.7,565.1 128.2,566.4C128.6,567.7 129.0,568.9 129.4,570.2C129.8,571.5 130.1,572.8 130.5,574.1C130.8,575.4 131.2,576.6 131.6,577.9C131.9,579.2 132.3,580.5 132.7,581.8C133.1,583.0 133.4,584.3 133.8,585.6C134.2,586.9 134.6,588.2 135.0,589.4C135.3,590.7 135.7,592.0 136.1,593.3C136.5,594.6 136.8,595.8 137.2,597.1C137.6,598.4 138.0,599.7 138.4,601.0C138.8,602.2 139.2,603.5 139.6,604.8C140.0,606.0 140.4,607.3 140.9,608.5C141.4,609.8 141.8,611.1 142.3,612.3C142.9,613.5 143.4,614.7 144.0,615.9C144.6,617.1 145.3,618.2 146.1,619.3C146.8,620.4 147.6,621.5 148.5,622.5C149.4,623.4 150.4,624.4 151.4,625.2C152.5,625.9 153.7,626.6 154.9,627.1C156.1,627.5 157.4,627.8 158.7,628.1C160.0,628.3 161.3,628.4 162.7,628.5C164.0,628.6 165.3,628.7 166.6,628.7C168.0,628.7 169.3,628.7 170.7,628.7C172.0,628.6 173.3,628.6 174.6,628.4C176.0,628.3 177.3,628.1 178.6,627.8C179.8,627.4 181.1,627.1 182.3,626.5C183.5,625.9 184.5,625.1 185.5,624.2C186.5,623.4 187.4,622.4 188.3,621.3C189.1,620.3 189.8,619.2 190.5,618.1C191.2,616.9 191.9,615.8 192.4,614.6C193.0,613.4 193.5,612.1 194.0,610.9C194.5,609.6 195.0,608.4 195.4,607.1C195.9,605.9 196.3,604.6 196.7,603.3C197.1,602.1 197.5,600.8 197.9,599.5C198.2,598.2 198.6,597.0 199.0,595.7C199.4,594.4 199.8,593.1 200.1,591.8C200.5,590.6 200.9,589.3 201.3,588.0C201.6,586.7 202.0,585.4 202.4,584.2C202.8,582.9 203.2,581.6 203.5,580.3C203.9,579.0 204.3,577.8 204.6,576.5C205.0,575.2 205.4,573.9 205.7,572.6C206.1,571.3 206.5,570.1 206.9,568.8C207.2,567.5 207.7,566.2 208.1,565.0C208.6,563.7 209.0,562.5 209.5,561.2C210.0,560.0 210.5,558.8 211.1,557.6C211.6,556.3 212.2,555.1 212.7,553.9C213.3,552.7 213.9,551.5 214.5,550.3C215.2,549.2 215.8,548.0 216.5,546.8C217.1,545.7 217.8,544.5 218.5,543.4C219.1,542.2 219.8,541.1 220.5,539.9C221.2,538.8 221.9,537.7 222.7,536.5C223.4,535.4 224.1,534.3 224.9,533.2C225.7,532.2 226.5,531.1 227.4,530.1C228.3,529.2 229.3,528.2 230.3,527.5C231.4,526.7 232.6,526.0 233.8,525.6C235.0,525.1 236.3,524.8 237.6,524.7C238.9,524.6 240.2,524.7 241.5,525.0C242.7,525.4 243.9,526.0 245.0,526.6C246.1,527.3 247.1,528.3 248.0,529.2C249.0,530.1 249.8,531.2 250.6,532.2C251.4,533.3 252.2,534.4 252.9,535.5C253.6,536.6 254.3,537.8 255.0,538.9C255.7,540.1 256.3,541.2 257.0,542.4C257.6,543.6 258.2,544.8 258.8,546.0C259.3,547.2 259.9,548.4 260.4,549.6C261.0,550.8 261.5,552.1 262.0,553.3C262.6,554.5 263.1,555.7 263.6,557.0C264.1,558.2 264.6,559.4 265.1,560.7C265.7,561.9 266.2,563.1 266.6,564.4C267.1,565.6 267.6,566.9 268.1,568.1C268.6,569.4 269.0,570.6 269.5,571.9C269.9,573.1 270.4,574.4 270.8,575.6C271.3,576.9 271.8,578.1 272.2,579.4C272.7,580.6 273.2,581.9 273.6,583.1C274.1,584.4 274.6,585.6 275.0,586.9C275.5,588.1 276.0,589.4 276.4,590.6C276.8,591.9 277.3,593.2 277.7,594.4C278.1,595.7 278.5,597.0 278.9,598.2C279.3,599.5 279.7,600.8 280.0,602.1C280.4,603.4 280.8,604.6 281.1,605.9C281.5,607.2 281.8,608.5 282.2,609.8C282.5,611.1 282.9,612.4 283.2,613.7C283.6,614.9 283.9,616.2 284.2,617.5C284.6,618.8 284.9,620.1 285.3,621.4C285.6,622.7 285.9,624.0 286.3,625.3C286.6,626.6 287.0,627.8 287.4,629.1C287.7,630.4 288.1,631.7 288.4,633.0C288.8,634.3 289.2,635.5 289.5,636.8C289.9,638.1 290.2,639.4 290.6,640.7C290.9,642.0 291.3,643.3 291.7,644.5C292.0,645.8 292.4,647.1 292.7,648.4C293.1,649.7 293.4,651.0 293.8,652.3C294.2,653.5 294.5,654.8 294.9,656.1C295.2,657.4 295.6,658.7 296.0,660.0C296.3,661.2 296.7,662.5 297.1,663.8C297.4,665.1 297.8,666.4 298.2,667.6C298.6,668.9 299.0,670.2 299.4,671.5C299.7,672.8 300.1,674.0 300.5,675.3C300.9,676.6 301.3,677.9 301.7,679.1C302.1,680.4 302.5,681.7 302.9,682.9C303.3,684.2 303.8,685.5 304.2,686.8C304.6,688.0 305.0,689.3 305.4,690.6C305.8,691.8 306.2,693.1 306.7,694.4C307.1,695.6 307.5,696.9 307.9,698.2C308.3,699.4 308.8,700.7 309.2,702.0C309.6,703.2 310.0,704.5 310.5,705.7C310.9,707.0 311.3,708.3 311.7,709.5C312.2,710.8 312.6,712.1 313.0,713.3C313.4,714.6 313.9,715.9 314.3,717.1C314.7,718.4 315.1,719.7 315.6,720.9C316.0,722.2 316.4,723.5 316.8,724.7C317.1,725.5 317.3,726.3 317.6,727.1" stroke="#e00410"/>
<path d="M18.2,727.1C18.6,725.8 18.9,724.5 19.3,723.2C19.6,722.0 20.0,720.7 20.3,719.4C20.7,718.1 21.0,716.8 21.4,715.5C21.7,714.2 22.1,712.9 22.4,711.7C22.8,710.4 23.1,709.1 23.5,707.8C23.8,706.5 24.2,705.2 24.5,703.9C24.9,702.6 25.2,701.4 25.6,700.1C25.9,698.8 26.3,697.5 26.6,696.2C27.0,694.9 27.3,693.6 27.7,692.3C28.0,691.1 28.4,689.8 28.7,688.5C29.1,687.2 29.5,685.9 29.8,684.6C30.2,683.3 30.5,682.1 30.9,680.8C31.2,679.5 31.6,678.2 32.0,676.9C32.3,675.6 32.7,674.3 33.0,673.1C33.4,671.8 33.8,670.5 34.1,669.2C34.5,667.9 34.9,666.6 35.2,665.4C35.6,664.1 36.0,662.8 36.3,661.5C36.7,660.2 37.1,659.0 37.4,657.7C37.8,656.4 38.2,655.1 38.6,653.8C38.9,652.5 39.3,651.3 39.7,650.0C40.1,648.7 40.4,647.4 40.8,646.1C41.2,644.9 41.6,643.6 41.9,642.3C42.3,641.0 42.7,639.7 43.1,638.5C43.4,637.2 43.8,635.9 44.2,634.6C44.5,633.3 44.9,632.1 45.3,630.8C45.6,629.5 46.0,628.2 46.4,626.9C46.7,625.6 47.1,624.3 47.4,623.1C47.8,621.8 48.1,620.5 48.5,619.2C48.8,617.9 49.2,616.6 49.5,615.3C49.9,614.0 50.2,612.8 50.6,611.5C50.9,610.2 51.3,608.9 51.6,607.6C52.0,606.3 52.3,605.0 52.7,603.8C53.1,602.5 53.4,601.2 53.8,599.9C54.2,598.6 54.5,597.3 54.9,596.1C55.3,594.8 55.7,593.5 56.1,592.2C56.5,591.0 56.9,589.7 57.3,588.4C57.7,587.2 58.1,585.9 58.6,584.6C59.0,583.3 59.4,582.1 59.8,580.8C60.3,579.6 60.7,578.3 61.1,577.0C61.6,575.8 62.0,574.5 62.5,573.3C62.9,572.0 63.4,570.8 63.8,569.5C64.3,568.3 64.8,567.0 65.3,565.8C65.7,564.5 66.2,563.3 66.7,562.0C67.2,560.8 67.7,559.6 68.2,558.3C68.7,557.1 69.3,555.9 69.8,554.6C70.3,553.4 70.9,552.2 71.4,551.0C71.9,549.8 72.5,548.5 73.1,547.3C73.6,546.1 74.2,544.9 74.8,543.7C75.4,542.5 75.9,541.3 76.5,540.1C77.1,538.9 77.7,537.7 78.3,536.5C78.9,535.4 79.6,534.2 80.2,533.0C80.9,531.9 81.5,530.7 82.3,529.6C83.0,528.5 83.8,527.4 84.7,526.5C85.6,525.5 86.7,524.7 87.8,523.9C88.8,523.2 90.0,522.5 91.2,522.0C92.4,521.5 93.7,521.1 95.0,520.9C96.3,520.8 97.7,520.8 98.9,521.0C100.2,521.2 101.5,521.7 102.6,522.3C103.8,522.9 104.9,523.7 105.9,524.5C107.0,525.3 107.9,526.3 108.8,527.2C109.7,528.2 110.5,529.3 111.3,530.3C112.2,531.4 112.9,532.5 113.7,533.6C114.4,534.7 115.2,535.8 115.9,536.9C116.6,538.0 117.3,539.2 117.9,540.3C118.6,541.5 119.3,542.7 119.9,543.8C120.5,545.0 121.1,546.2 121.7,547.4C122.2,548.6 122.8,549.8 123.3,551.1C123.8,552.3 124.3,553.5 124.8,554.8C125.3,556.0 125.8,557.3 126.2,558.5C126.7,559.8 127.2,561.0 127.6,562.3C128.0,563.5 128.4,564.8 128.8,566.1C129.1,567.4 129.5,568.7 129.8,570.0C130.1,571.3 130.4,572.6 130.7,573.9C131.1,575.1 131.4,576.4 131.7,577.7C132.1,579.0 132.5,580.3 132.8,581.6C133.2,582.9 133.5,584.2 133.9,585.4C134.3,586.7 134.7,588.0 135.0,589.3C135.4,590.6 135.8,591.8 136.2,593.1C136.5,594.4 136.9,595.7 137.3,597.0C137.7,598.2 138.1,599.5 138.5,600.8C138.8,602.1 139.2,603.3 139.7,604.6C140.1,605.9 140.5,607.1 141.0,608.4C141.4,609.6 141.9,610.9 142.4,612.1C143.0,613.3 143.5,614.5 144.1,615.7C144.8,616.9 145.4,618.0 146.2,619.1C147.0,620.2 147.8,621.3 148.7,622.3C149.6,623.2 150.5,624.2 151.6,624.9C152.7,625.7 153.9,626.3 155.1,626.7C156.3,627.2 157.6,627.5 158.9,627.7C160.2,627.9 161.6,628.1 162.9,628.2C164.2,628.3 165.6,628.3 166.9,628.3C168.2,628.3 169.6,628.3 170.9,628.3C172.2,628.2 173.6,628.1 174.9,628.0C176.2,627.8 177.5,627.7 178.8,627.3C180.1,627.0 181.4,626.6 182.5,625.9C183.7,625.3 184.7,624.5 185.7,623.7C186.7,622.8 187.6,621.8 188.4,620.7C189.2,619.7 190.0,618.6 190.7,617.5C191.4,616.3 192.0,615.1 192.6,613.9C193.1,612.7 193.6,611.5 194.1,610.3C194.6,609.0 195.1,607.8 195.5,606.5C195.9,605.2 196.4,604.0 196.8,602.7C197.2,601.4 197.5,600.1 197.9,598.9C198.3,597.6 198.7,596.3 199.1,595.0C199.5,593.8 199.8,592.5 200.2,591.2C200.6,589.9 201.0,588.6 201.3,587.4C201.7,586.1 202.1,584.8 202.4,583.5C202.8,582.2 203.2,580.9 203.5,579.7C203.9,578.4 204.2,577.1 204.6,575.8C204.9,574.5 205.2,573.2 205.5,571.9C205.9,570.6 206.2,569.3 206.5,568.0C206.8,566.7 207.2,565.5 207.6,564.2C208.0,562.9 208.4,561.6 208.9,560.4C209.3,559.1 209.8,557.9 210.3,556.6C210.7,555.4 211.2,554.1 211.7,552.9C212.2,551.7 212.8,550.4 213.3,549.2C213.8,548.0 214.4,546.8 215.0,545.6C215.6,544.4 216.2,543.2 216.9,542.1C217.5,540.9 218.2,539.7 218.9,538.6C219.6,537.5 220.3,536.3 221.0,535.2C221.7,534.1 222.5,533.0 223.3,531.9C224.1,530.8 224.8,529.8 225.7,528.7C226.5,527.7 227.4,526.7 228.4,525.8C229.4,524.9 230.4,524.0 231.5,523.3C232.6,522.6 233.7,521.9 235.0,521.5C236.2,521.1 237.5,520.9 238.8,520.8C240.1,520.8 241.5,521.0 242.7,521.3C244.0,521.7 245.2,522.2 246.4,522.9C247.5,523.5 248.6,524.3 249.6,525.1C250.6,526.0 251.5,527.0 252.4,528.0C253.2,529.0 253.9,530.2 254.6,531.3C255.3,532.4 255.9,533.6 256.5,534.8C257.2,535.9 257.8,537.1 258.4,538.3C259.0,539.5 259.6,540.7 260.2,541.9C260.7,543.1 261.3,544.3 261.9,545.5C262.5,546.7 263.0,547.9 263.6,549.2C264.1,550.4 264.7,551.6 265.2,552.8C265.7,554.0 266.3,555.3 266.8,556.5C267.3,557.7 267.8,558.9 268.3,560.2C268.8,561.4 269.3,562.7 269.8,563.9C270.3,565.1 270.8,566.4 271.2,567.6C271.7,568.9 272.2,570.1 272.6,571.4C273.1,572.6 273.6,573.9 274.0,575.1C274.4,576.4 274.9,577.7 275.3,578.9C275.8,580.2 276.2,581.5 276.6,582.7C277.0,584.0 277.5,585.2 277.9,586.5C278.3,587.8 278.7,589.1 279.1,590.3C279.5,591.6 279.9,592.9 280.3,594.1C280.7,595.4 281.1,596.7 281.4,598.0C281.8,599.3 282.2,600.5 282.5,601.8C282.9,603.1 283.3,604.4 283.6,605.7C284.0,607.0 284.3,608.3 284.7,609.5C285.0,610.8 285.4,612.1 285.7,613.4C286.1,614.7 286.4,616.0 286.8,617.3C287.1,618.6 287.5,619.8 287.8,621.1C288.2,622.4 288.5,623.7 288.9,625.0C289.3,626.3 289.6,627.6 290.0,628.8C290.3,630.1 290.7,631.4 291.1,632.7C291.4,634.0 291.8,635.3 292.2,636.5C292.6,637.8 292.9,639.1 293.3,640.4C293.7,641.7 294.0,642.9 294.4,644.2C294.8,645.5 295.2,646.8 295.5,648.1C295.9,649.3 296.3,650.6 296.7,651.9C297.0,653.2 297.4,654.5 297.8,655.7C298.2,657.0 298.5,658.3 298.9,659.6C299.3,660.9 299.7,662.2 300.0,663.4C300.4,664.7 300.8,666.0 301.1,667.3C301.5,668.6 301.9,669.9 302.2,671.1C302.6,672.4 302.9,673.7 303.3,675.0C303.7,676.3 304.0,677.6 304.4,678.8C304.7,680.1 305.1,681.4 305.5,682.7C305.8,684.0 306.2,685.3 306.5,686.6C306.9,687.8 307.2,689.1 307.6,690.4C307.9,691.7 308.3,693.0 308.6,694.3C309.0,695.6 309.3,696.9 309.7,698.1C310.1,699.4 310.4,700.7 310.8,702.0C311.1,703.3 311.5,704.6 311.8,705.9C312.2,707.1 312.5,708.4 312.9,709.7C313.2,711.0 313.6,712.3 313.9,713.6C314.3,714.9 314.6,716.2 315.0,717.4C315.3,718.7 315.7,720.0 316.0,721.3C316.4,722.6 316.7,723.9 317.1,725.2C317.2,725.8 317.4,726.5 317.6,727.1" stroke="#0c1c7c"/>
</g>
<g class="c" stroke-width="3.4">
<path d="M334.3,727.8C334.7,726.5 335.1,725.2 335.4,724.0C335.8,722.7 336.2,721.4 336.6,720.1C336.9,718.8 337.3,717.6 337.7,716.3C338.1,715.0 338.5,713.7 338.8,712.4C339.2,711.2 339.6,709.9 340.0,708.6C340.3,707.3 340.7,706.0 341.1,704.8C341.5,703.5 341.8,702.2 342.2,700.9C342.6,699.7 343.0,698.4 343.4,697.1C343.7,695.8 344.1,694.5 344.5,693.3C344.9,692.0 345.2,690.7 345.6,689.4C346.0,688.1 346.4,686.9 346.7,685.6C347.1,684.3 347.5,683.0 347.9,681.7C348.3,680.5 348.6,679.2 349.0,677.9C349.4,676.6 349.8,675.3 350.1,674.1C350.5,672.8 350.9,671.5 351.3,670.2C351.7,668.9 352.0,667.7 352.4,666.4C352.8,665.1 353.2,663.8 353.6,662.5C353.9,661.3 354.3,660.0 354.7,658.7C355.1,657.4 355.5,656.2 355.8,654.9C356.2,653.6 356.6,652.3 357.0,651.0C357.3,649.8 357.7,648.5 358.1,647.2C358.5,645.9 358.9,644.7 359.3,643.4C359.7,642.1 360.1,640.8 360.5,639.6C361.0,638.3 361.4,637.0 361.8,635.8C362.2,634.5 362.7,633.3 363.1,632.0C363.6,630.7 364.0,629.5 364.4,628.2C364.9,627.0 365.3,625.7 365.8,624.5C366.2,623.2 366.7,621.9 367.1,620.7C367.6,619.4 368.1,618.2 368.6,616.9C369.0,615.7 369.5,614.5 370.0,613.2C370.5,612.0 371.0,610.7 371.5,609.5C372.0,608.3 372.5,607.0 373.1,605.8C373.6,604.6 374.2,603.4 374.7,602.2C375.3,601.0 375.9,599.8 376.6,598.6C377.2,597.5 377.9,596.3 378.6,595.2C379.3,594.1 380.0,592.9 380.9,591.9C381.7,590.8 382.5,589.8 383.4,588.8C384.3,587.8 385.2,586.9 386.3,586.0C387.3,585.2 388.3,584.3 389.5,583.8C390.6,583.3 391.9,582.9 393.2,582.8C394.4,582.8 395.8,583.1 396.9,583.5C398.1,584.0 399.2,584.8 400.3,585.6C401.3,586.4 402.2,587.4 403.1,588.4C404.0,589.4 404.8,590.5 405.6,591.5C406.4,592.6 407.2,593.7 408.0,594.7C408.8,595.8 409.6,596.9 410.4,597.9C411.3,598.9 412.1,600.0 413.1,600.9C414.0,601.8 415.0,602.7 416.1,603.4C417.2,604.1 418.4,604.7 419.6,605.1C420.9,605.6 422.2,605.9 423.5,606.1C424.8,606.3 426.1,606.3 427.5,606.4C428.8,606.4 430.1,606.4 431.5,606.4C432.8,606.5 434.1,606.5 435.5,606.6C436.8,606.6 438.1,606.7 439.5,606.6C440.8,606.6 442.1,606.6 443.4,606.4C444.7,606.3 446.1,606.0 447.3,605.6C448.6,605.2 449.8,604.7 451.0,604.1C452.2,603.5 453.3,602.7 454.4,602.0C455.5,601.2 456.5,600.4 457.6,599.6C458.6,598.8 459.7,597.9 460.7,597.1C461.7,596.2 462.7,595.3 463.8,594.5C464.8,593.7 465.9,592.9 467.0,592.2C468.1,591.4 469.3,590.7 470.4,590.2C471.6,589.6 472.9,589.0 474.1,588.6C475.4,588.2 476.7,587.8 478.0,587.5C479.3,587.3 480.6,587.1 481.9,587.1C483.2,587.0 484.6,587.0 485.9,587.1C487.2,587.2 488.5,587.5 489.8,587.8C491.1,588.1 492.4,588.5 493.6,588.9C494.9,589.4 496.1,590.0 497.2,590.6C498.4,591.3 499.5,592.0 500.6,592.7C501.7,593.5 502.8,594.3 503.8,595.1C504.8,596.0 505.8,596.9 506.9,597.7C507.9,598.6 508.9,599.4 510.0,600.2C511.1,601.0 512.1,601.8 513.2,602.5C514.4,603.3 515.5,603.9 516.7,604.5C517.9,605.1 519.2,605.5 520.4,605.9C521.7,606.2 523.0,606.4 524.4,606.5C525.7,606.7 527.0,606.6 528.3,606.6C529.7,606.6 531.0,606.6 532.3,606.5C533.7,606.5 535.0,606.5 536.3,606.4C537.7,606.4 539.0,606.4 540.3,606.3C541.7,606.3 543.0,606.2 544.3,605.9C545.6,605.7 546.9,605.3 548.1,604.8C549.3,604.3 550.5,603.6 551.5,602.9C552.6,602.1 553.5,601.1 554.4,600.2C555.3,599.2 556.2,598.2 557.0,597.1C557.8,596.1 558.6,595.0 559.4,593.9C560.2,592.8 561.0,591.8 561.8,590.7C562.6,589.7 563.5,588.6 564.4,587.7C565.3,586.7 566.3,585.8 567.3,585.0C568.4,584.3 569.6,583.6 570.8,583.2C572.0,582.8 573.3,582.7 574.6,582.9C575.8,583.1 577.1,583.6 578.2,584.3C579.3,584.9 580.3,585.8 581.3,586.7C582.3,587.6 583.2,588.6 584.1,589.6C584.9,590.6 585.8,591.6 586.5,592.7C587.3,593.8 588.0,594.9 588.7,596.0C589.4,597.2 590.1,598.3 590.7,599.5C591.3,600.7 591.9,601.9 592.5,603.1C593.1,604.3 593.6,605.5 594.1,606.7C594.7,608.0 595.2,609.2 595.7,610.4C596.2,611.7 596.7,612.9 597.2,614.1C597.6,615.4 598.1,616.6 598.6,617.9C599.1,619.1 599.5,620.4 600.0,621.6C600.5,622.9 600.9,624.1 601.4,625.4C601.8,626.7 602.2,627.9 602.7,629.2C603.1,630.4 603.6,631.7 604.0,632.9C604.4,634.2 604.9,635.5 605.3,636.7C605.7,638.0 606.2,639.3 606.6,640.5C607.0,641.8 607.4,643.1 607.8,644.3C608.2,645.6 608.6,646.9 609.0,648.2C609.4,649.4 609.7,650.7 610.1,652.0C610.5,653.3 610.9,654.6 611.2,655.8C611.6,657.1 612.0,658.4 612.4,659.7C612.8,661.0 613.1,662.2 613.5,663.5C613.9,664.8 614.3,666.1 614.7,667.3C615.0,668.6 615.4,669.9 615.8,671.2C616.2,672.5 616.6,673.7 616.9,675.0C617.3,676.3 617.7,677.6 618.1,678.9C618.4,680.1 618.8,681.4 619.2,682.7C619.6,684.0 620.0,685.3 620.3,686.5C620.7,687.8 621.1,689.1 621.5,690.4C621.8,691.7 622.2,692.9 622.6,694.2C623.0,695.5 623.4,696.8 623.7,698.1C624.1,699.3 624.5,700.6 624.9,701.9C625.2,703.2 625.6,704.4 626.0,705.7C626.4,707.0 626.7,708.3 627.1,709.6C627.5,710.8 627.9,712.1 628.3,713.4C628.6,714.7 629.0,716.0 629.4,717.2C629.8,718.5 630.1,719.8 630.5,721.1C630.9,722.4 631.3,723.6 631.7,724.9C631.9,725.9 632.2,726.8 632.5,727.8" stroke="#44b4b6"/>
<path d="M334.3,727.8C334.8,726.6 335.3,725.3 335.7,724.1C336.2,722.8 336.7,721.6 337.2,720.3C337.7,719.1 338.2,717.8 338.6,716.6C339.1,715.4 339.6,714.1 340.1,712.9C340.6,711.6 341.1,710.4 341.6,709.2C342.0,707.9 342.5,706.7 343.0,705.4C343.5,704.2 344.0,702.9 344.5,701.7C345.0,700.5 345.4,699.2 345.9,698.0C346.4,696.7 346.9,695.5 347.4,694.2C347.9,693.0 348.4,691.8 348.8,690.5C349.3,689.3 349.8,688.0 350.3,686.8C350.8,685.5 351.3,684.3 351.7,683.1C352.2,681.8 352.7,680.6 353.2,679.3C353.7,678.1 354.1,676.8 354.6,675.6C355.1,674.3 355.6,673.1 356.0,671.9C356.5,670.6 357.0,669.4 357.4,668.1C357.9,666.9 358.4,665.6 358.9,664.4C359.3,663.1 359.8,661.9 360.2,660.6C360.7,659.4 361.2,658.1 361.6,656.9C362.1,655.6 362.5,654.3 363.0,653.1C363.4,651.8 363.9,650.6 364.3,649.3C364.8,648.1 365.2,646.8 365.7,645.5C366.1,644.3 366.6,643.0 367.1,641.8C367.5,640.6 368.0,639.3 368.5,638.1C369.0,636.8 369.5,635.6 370.1,634.4C370.6,633.2 371.1,631.9 371.7,630.7C372.2,629.5 372.8,628.3 373.3,627.1C373.9,625.9 374.5,624.7 375.0,623.4C375.6,622.2 376.1,621.0 376.7,619.8C377.2,618.6 377.8,617.4 378.3,616.2C378.9,615.0 379.5,613.8 380.2,612.6C380.8,611.5 381.6,610.4 382.5,609.4C383.3,608.4 384.3,607.5 385.4,606.8C386.5,606.2 387.8,605.7 389.0,605.4C390.3,605.1 391.7,605.0 393.0,605.0C394.3,604.9 395.6,605.1 396.9,605.2C398.3,605.2 399.6,605.3 400.9,605.2C402.2,605.1 403.6,604.9 404.8,604.6C406.1,604.3 407.4,603.8 408.6,603.3C409.8,602.8 411.0,602.1 412.2,601.6C413.4,601.0 414.6,600.4 415.8,599.9C417.0,599.4 418.3,598.9 419.6,598.5C420.9,598.2 422.2,598.0 423.5,597.9C424.8,597.8 426.1,597.8 427.4,598.0C428.7,598.2 430.0,598.6 431.3,599.0C432.5,599.5 433.7,600.1 434.9,600.7C436.1,601.3 437.1,602.1 438.3,602.8C439.4,603.4 440.5,604.2 441.7,604.7C442.9,605.2 444.2,605.6 445.5,605.7C446.8,605.8 448.1,605.6 449.3,605.3C450.6,605.0 451.8,604.4 453.0,603.7C454.1,603.1 455.2,602.3 456.3,601.6C457.4,600.8 458.4,600.0 459.5,599.1C460.5,598.3 461.6,597.5 462.6,596.7C463.7,595.9 464.7,595.0 465.9,594.3C467.0,593.6 468.1,592.9 469.3,592.3C470.5,591.8 471.8,591.3 473.0,590.9C474.3,590.5 475.6,590.3 476.9,590.1C478.2,589.9 479.6,589.9 480.9,589.8C482.2,589.8 483.6,589.8 484.9,589.8C486.2,589.8 487.6,589.9 488.9,590.0C490.2,590.1 491.5,590.3 492.8,590.6C494.1,591.0 495.4,591.4 496.6,591.9C497.8,592.5 499.0,593.1 500.1,593.8C501.2,594.5 502.3,595.3 503.4,596.1C504.5,596.9 505.5,597.7 506.5,598.5C507.6,599.3 508.6,600.2 509.7,601.0C510.8,601.8 511.8,602.6 513.0,603.2C514.1,603.9 515.3,604.6 516.5,605.0C517.7,605.4 519.1,605.7 520.3,605.8C521.6,605.8 522.9,605.5 524.2,605.1C525.4,604.7 526.5,603.9 527.7,603.3C528.8,602.6 529.9,601.8 531.0,601.2C532.2,600.5 533.4,599.9 534.6,599.4C535.8,598.9 537.1,598.5 538.4,598.2C539.7,597.9 541.0,597.8 542.3,597.8C543.6,597.8 545.0,598.0 546.3,598.3C547.5,598.6 548.8,599.0 550.1,599.5C551.3,600.0 552.5,600.6 553.7,601.1C554.9,601.7 556.1,602.3 557.3,602.9C558.5,603.4 559.7,603.9 561.0,604.3C562.3,604.7 563.6,605.0 564.9,605.1C566.2,605.3 567.5,605.2 568.9,605.2C570.2,605.2 571.5,605.0 572.8,605.0C574.2,605.0 575.5,605.0 576.8,605.2C578.1,605.4 579.4,605.8 580.5,606.4C581.7,606.9 582.7,607.8 583.7,608.7C584.6,609.6 585.4,610.7 586.1,611.8C586.8,612.9 587.4,614.1 588.0,615.3C588.6,616.5 589.2,617.7 589.7,618.9C590.3,620.1 590.8,621.3 591.4,622.5C591.9,623.8 592.5,625.0 593.1,626.2C593.6,627.4 594.2,628.6 594.7,629.8C595.3,631.0 595.8,632.2 596.3,633.5C596.9,634.7 597.4,635.9 597.9,637.2C598.4,638.4 598.9,639.6 599.4,640.9C599.9,642.1 600.3,643.4 600.8,644.6C601.3,645.9 601.7,647.1 602.2,648.4C602.6,649.6 603.0,650.9 603.5,652.1C603.9,653.4 604.4,654.7 604.8,655.9C605.3,657.2 605.7,658.4 606.2,659.7C606.7,660.9 607.1,662.2 607.6,663.4C608.1,664.7 608.5,665.9 609.0,667.2C609.5,668.4 609.9,669.7 610.4,670.9C610.9,672.2 611.4,673.4 611.8,674.7C612.3,675.9 612.8,677.1 613.3,678.4C613.7,679.6 614.2,680.9 614.7,682.1C615.2,683.4 615.7,684.6 616.1,685.9C616.6,687.1 617.1,688.3 617.6,689.6C618.1,690.8 618.6,692.1 619.0,693.3C619.5,694.6 620.0,695.8 620.5,697.0C621.0,698.3 621.5,699.5 622.0,700.8C622.5,702.0 622.9,703.3 623.4,704.5C623.9,705.7 624.4,707.0 624.9,708.2C625.4,709.5 625.9,710.7 626.3,711.9C626.8,713.2 627.3,714.4 627.8,715.7C628.3,716.9 628.8,718.2 629.3,719.4C629.7,720.6 630.2,721.9 630.7,723.1C631.2,724.4 631.7,725.6 632.1,726.9C632.3,727.2 632.4,727.5 632.5,727.8" stroke="#951e82"/>
<path d="M334.3,727.8C334.8,726.6 335.3,725.3 335.7,724.1C336.2,722.8 336.7,721.6 337.2,720.3C337.7,719.1 338.2,717.8 338.6,716.6C339.1,715.4 339.6,714.1 340.1,712.9C340.6,711.6 341.1,710.4 341.6,709.1C342.0,707.9 342.5,706.7 343.0,705.4C343.5,704.2 344.0,702.9 344.5,701.7C345.0,700.4 345.4,699.2 345.9,698.0C346.4,696.7 346.9,695.5 347.4,694.2C347.9,693.0 348.4,691.7 348.9,690.5C349.3,689.3 349.8,688.0 350.3,686.8C350.8,685.5 351.3,684.3 351.7,683.0C352.2,681.8 352.7,680.5 353.2,679.3C353.7,678.1 354.1,676.8 354.6,675.6C355.1,674.3 355.6,673.1 356.0,671.8C356.5,670.6 357.0,669.3 357.5,668.1C357.9,666.8 358.4,665.6 358.9,664.3C359.3,663.1 359.8,661.8 360.3,660.6C360.7,659.3 361.2,658.1 361.6,656.8C362.1,655.6 362.5,654.3 363.0,653.0C363.4,651.8 363.9,650.5 364.3,649.3C364.8,648.0 365.2,646.8 365.7,645.5C366.1,644.3 366.6,643.0 367.1,641.8C367.5,640.5 368.0,639.3 368.5,638.0C369.0,636.8 369.5,635.5 370.0,634.3C370.6,633.1 371.1,631.9 371.7,630.7C372.3,629.5 372.8,628.3 373.5,627.1C374.1,625.9 374.7,624.7 375.4,623.6C376.0,622.4 376.7,621.3 377.5,620.2C378.2,619.1 379.0,618.0 379.8,616.9C380.6,615.8 381.4,614.8 382.3,613.8C383.2,612.8 384.1,611.8 385.0,610.8C385.9,609.9 386.9,608.9 387.8,608.0C388.8,607.1 389.7,606.1 390.7,605.2C391.6,604.3 392.6,603.3 393.5,602.3C394.4,601.4 395.2,600.3 396.0,599.3C396.8,598.2 397.6,597.1 398.4,596.0C399.2,595.0 400.0,593.9 400.7,592.8C401.5,591.7 402.3,590.6 403.1,589.6C404.0,588.5 404.8,587.5 405.7,586.5C406.6,585.5 407.4,584.5 408.4,583.6C409.4,582.7 410.4,581.8 411.4,581.0C412.5,580.3 413.7,579.6 414.9,579.2C416.1,578.8 417.5,578.6 418.7,578.8C419.9,578.9 421.2,579.5 422.3,580.0C423.5,580.6 424.5,581.5 425.5,582.4C426.5,583.3 427.4,584.3 428.3,585.2C429.2,586.2 430.1,587.2 431.0,588.2C431.9,589.2 432.7,590.2 433.6,591.3C434.4,592.3 435.3,593.3 436.1,594.4C436.9,595.4 437.7,596.5 438.5,597.6C439.3,598.7 439.9,599.8 440.8,600.8C441.6,601.9 442.5,602.9 443.5,603.7C444.5,604.5 445.7,605.2 446.9,605.7C448.1,606.1 449.4,606.3 450.7,606.3C451.9,606.2 453.2,605.8 454.4,605.4C455.7,604.9 456.8,604.2 458.0,603.6C459.2,603.0 460.3,602.3 461.5,601.6C462.6,600.9 463.7,600.2 464.9,599.6C466.1,598.9 467.2,598.2 468.4,597.7C469.6,597.1 470.9,596.6 472.1,596.1C473.4,595.7 474.7,595.3 476.0,595.1C477.3,594.8 478.6,594.6 479.9,594.5C481.2,594.4 482.6,594.3 483.9,594.4C485.2,594.4 486.6,594.4 487.9,594.6C489.2,594.7 490.5,595.0 491.8,595.3C493.1,595.6 494.4,596.0 495.6,596.5C496.9,597.0 498.1,597.5 499.3,598.1C500.5,598.7 501.6,599.4 502.8,600.1C503.9,600.7 505.0,601.4 506.2,602.1C507.3,602.8 508.5,603.5 509.7,604.1C510.8,604.7 512.0,605.4 513.3,605.7C514.5,606.1 515.8,606.3 517.1,606.3C518.4,606.2 519.7,605.8 520.8,605.3C522.0,604.8 523.1,603.9 524.0,603.1C525.0,602.2 525.8,601.1 526.6,600.0C527.4,599.0 528.1,597.9 528.9,596.8C529.7,595.7 530.5,594.6 531.3,593.6C532.1,592.5 533.0,591.5 533.9,590.5C534.7,589.5 535.6,588.5 536.5,587.5C537.4,586.5 538.2,585.5 539.2,584.5C540.1,583.5 541.0,582.6 542.0,581.7C543.0,580.9 544.1,580.1 545.3,579.6C546.5,579.1 547.8,578.7 549.1,578.7C550.3,578.7 551.6,579.1 552.8,579.5C554.0,580.0 555.1,580.8 556.1,581.6C557.2,582.4 558.2,583.3 559.1,584.3C560.0,585.2 560.9,586.2 561.8,587.3C562.6,588.3 563.5,589.3 564.3,590.4C565.1,591.4 565.9,592.5 566.6,593.6C567.4,594.7 568.2,595.8 569.0,596.8C569.8,597.9 570.6,599.0 571.4,600.1C572.2,601.1 573.1,602.1 574.0,603.1C574.9,604.0 575.9,605.0 576.8,605.9C577.8,606.8 578.8,607.8 579.7,608.7C580.6,609.6 581.6,610.6 582.5,611.5C583.4,612.5 584.3,613.5 585.2,614.5C586.0,615.6 586.8,616.6 587.6,617.7C588.4,618.8 589.1,619.9 589.9,621.0C590.6,622.1 591.3,623.3 591.9,624.4C592.6,625.6 593.2,626.8 593.8,628.0C594.4,629.2 595.0,630.4 595.5,631.6C596.1,632.8 596.6,634.0 597.1,635.2C597.7,636.5 598.2,637.7 598.6,639.0C599.1,640.2 599.6,641.4 600.1,642.7C600.6,643.9 601.0,645.2 601.5,646.4C601.9,647.7 602.4,649.0 602.8,650.2C603.3,651.5 603.7,652.7 604.1,654.0C604.6,655.2 605.1,656.5 605.5,657.8C606.0,659.0 606.4,660.3 606.9,661.5C607.4,662.8 607.8,664.0 608.3,665.3C608.8,666.5 609.2,667.8 609.7,669.0C610.2,670.3 610.6,671.5 611.1,672.8C611.6,674.0 612.1,675.3 612.5,676.5C613.0,677.7 613.5,679.0 614.0,680.2C614.4,681.5 614.9,682.7 615.4,684.0C615.9,685.2 616.4,686.5 616.9,687.7C617.3,688.9 617.8,690.2 618.3,691.4C618.8,692.7 619.3,693.9 619.8,695.2C620.3,696.4 620.7,697.6 621.2,698.9C621.7,700.1 622.2,701.4 622.7,702.6C623.2,703.9 623.7,705.1 624.2,706.3C624.6,707.6 625.1,708.8 625.6,710.1C626.1,711.3 626.6,712.6 627.1,713.8C627.6,715.0 628.0,716.3 628.5,717.5C629.0,718.8 629.5,720.0 630.0,721.3C630.5,722.5 630.9,723.8 631.4,725.0C631.8,725.9 632.1,726.9 632.5,727.8" stroke="#f2560e"/>
<path d="M334.3,727.8C334.7,726.5 335.2,725.3 335.6,724.0C336.0,722.8 336.5,721.5 336.9,720.2C337.3,719.0 337.8,717.7 338.2,716.4C338.6,715.2 339.0,713.9 339.5,712.7C339.9,711.4 340.3,710.1 340.8,708.9C341.2,707.6 341.6,706.3 342.0,705.1C342.5,703.8 342.9,702.5 343.3,701.3C343.7,700.0 344.2,698.7 344.6,697.5C345.0,696.2 345.4,695.0 345.9,693.7C346.3,692.4 346.7,691.2 347.2,689.9C347.6,688.6 348.0,687.4 348.4,686.1C348.9,684.8 349.3,683.6 349.7,682.3C350.2,681.1 350.6,679.8 351.0,678.5C351.5,677.3 351.9,676.0 352.4,674.8C352.8,673.5 353.2,672.2 353.7,671.0C354.1,669.7 354.6,668.5 355.0,667.2C355.5,666.0 355.9,664.7 356.4,663.5C356.8,662.2 357.3,660.9 357.8,659.7C358.2,658.4 358.7,657.2 359.2,655.9C359.6,654.7 360.1,653.4 360.6,652.2C361.0,650.9 361.5,649.7 362.0,648.5C362.5,647.2 362.9,646.0 363.4,644.7C363.9,643.5 364.4,642.2 364.8,641.0C365.3,639.7 365.8,638.5 366.3,637.2C366.8,636.0 367.3,634.8 367.7,633.5C368.2,632.3 368.7,631.0 369.2,629.8C369.7,628.5 370.1,627.3 370.6,626.1C371.1,624.8 371.6,623.6 372.1,622.3C372.6,621.1 373.1,619.8 373.5,618.6C374.0,617.4 374.5,616.1 375.0,614.9C375.5,613.6 376.0,612.4 376.4,611.1C376.9,609.9 377.4,608.6 377.9,607.4C378.4,606.2 378.9,604.9 379.3,603.7C379.8,602.4 380.3,601.2 380.8,599.9C381.3,598.7 381.8,597.5 382.2,596.2C382.7,595.0 383.2,593.7 383.7,592.5C384.2,591.2 384.7,590.0 385.2,588.8C385.7,587.5 386.2,586.3 386.7,585.1C387.3,583.9 387.8,582.6 388.3,581.4C388.9,580.2 389.4,579.0 389.9,577.7C390.4,576.5 391.0,575.3 391.5,574.0C391.9,572.8 392.4,571.5 392.9,570.3C393.4,569.1 393.8,567.8 394.3,566.6C394.8,565.3 395.3,564.1 395.9,562.9C396.5,561.7 397.1,560.5 397.8,559.4C398.5,558.3 399.2,557.1 400.0,556.1C400.9,555.1 401.8,554.1 402.9,553.4C403.9,552.6 405.1,551.9 406.3,551.5C407.5,551.1 408.9,550.8 410.2,550.7C411.4,550.7 412.8,550.9 414.0,551.3C415.2,551.6 416.4,552.3 417.5,553.0C418.6,553.8 419.6,554.7 420.5,555.7C421.4,556.6 422.1,557.7 422.9,558.8C423.7,559.9 424.3,561.1 425.0,562.2C425.7,563.4 426.3,564.5 426.9,565.7C427.6,566.9 428.2,568.0 428.8,569.2C429.4,570.4 430.1,571.6 430.6,572.8C431.2,574.0 431.8,575.2 432.3,576.4C432.8,577.7 433.3,578.9 433.8,580.1C434.3,581.4 434.8,582.6 435.3,583.9C435.8,585.1 436.3,586.3 436.9,587.5C437.4,588.8 438.0,590.0 438.5,591.2C439.1,592.4 439.7,593.6 440.4,594.7C441.0,595.9 441.7,597.0 442.4,598.2C443.1,599.3 443.8,600.4 444.7,601.4C445.5,602.4 446.4,603.5 447.5,604.2C448.5,604.9 449.7,605.6 451.0,605.9C452.2,606.2 453.5,606.2 454.8,606.0C456.1,605.8 457.3,605.3 458.6,604.8C459.8,604.3 461.0,603.7 462.2,603.1C463.4,602.5 464.6,601.9 465.8,601.4C467.0,600.9 468.2,600.3 469.5,599.9C470.7,599.4 472.0,599.0 473.3,598.6C474.6,598.3 475.9,598.0 477.2,597.8C478.5,597.6 479.8,597.4 481.2,597.3C482.5,597.3 483.8,597.3 485.1,597.3C486.5,597.4 487.8,597.5 489.1,597.7C490.4,597.9 491.7,598.2 493.0,598.5C494.3,598.8 495.6,599.2 496.8,599.7C498.1,600.1 499.3,600.7 500.5,601.2C501.8,601.7 503.0,602.3 504.2,602.9C505.4,603.5 506.6,604.1 507.8,604.6C509.0,605.1 510.2,605.6 511.5,605.9C512.8,606.1 514.1,606.2 515.4,606.0C516.6,605.7 517.9,605.2 518.9,604.5C520.0,603.8 520.9,602.8 521.8,601.8C522.7,600.8 523.4,599.7 524.1,598.6C524.9,597.5 525.5,596.3 526.2,595.2C526.8,594.0 527.5,592.8 528.0,591.6C528.6,590.4 529.2,589.2 529.7,588.0C530.3,586.8 530.8,585.5 531.3,584.3C531.8,583.1 532.3,581.8 532.8,580.6C533.3,579.4 533.8,578.1 534.3,576.9C534.8,575.7 535.4,574.5 535.9,573.2C536.5,572.0 537.1,570.9 537.7,569.7C538.4,568.5 539.0,567.3 539.6,566.1C540.3,565.0 540.9,563.8 541.6,562.6C542.2,561.5 542.9,560.3 543.6,559.2C544.4,558.1 545.1,557.0 546.0,556.0C546.9,555.1 547.8,554.1 548.9,553.3C549.9,552.5 551.1,551.9 552.3,551.4C553.5,551.0 554.9,550.7 556.1,550.7C557.4,550.7 558.8,551.0 560.0,551.3C561.2,551.7 562.5,552.4 563.5,553.1C564.6,553.8 565.6,554.7 566.5,555.7C567.3,556.7 568.0,557.8 568.7,559.0C569.4,560.1 570.1,561.3 570.6,562.5C571.2,563.7 571.8,564.9 572.3,566.1C572.8,567.3 573.3,568.6 573.7,569.8C574.2,571.1 574.7,572.3 575.2,573.6C575.7,574.8 576.2,576.0 576.7,577.3C577.2,578.5 577.7,579.7 578.3,580.9C578.8,582.2 579.3,583.4 579.9,584.6C580.4,585.8 580.9,587.1 581.4,588.3C581.9,589.5 582.4,590.8 582.9,592.0C583.4,593.3 583.9,594.5 584.4,595.7C584.9,597.0 585.3,598.2 585.8,599.5C586.3,600.7 586.8,602.0 587.3,603.2C587.8,604.5 588.2,605.7 588.7,606.9C589.2,608.2 589.7,609.4 590.2,610.7C590.7,611.9 591.1,613.2 591.6,614.4C592.1,615.6 592.6,616.9 593.1,618.1C593.6,619.4 594.0,620.6 594.5,621.9C595.0,623.1 595.5,624.3 596.0,625.6C596.5,626.8 597.0,628.1 597.4,629.3C597.9,630.6 598.4,631.8 598.9,633.0C599.4,634.3 599.9,635.5 600.3,636.8C600.8,638.0 601.3,639.3 601.8,640.5C602.3,641.8 602.7,643.0 603.2,644.2C603.7,645.5 604.2,646.7 604.6,648.0C605.1,649.2 605.6,650.5 606.1,651.7C606.5,653.0 607.0,654.2 607.5,655.5C607.9,656.7 608.4,658.0 608.9,659.2C609.3,660.5 609.8,661.7 610.2,663.0C610.7,664.2 611.1,665.5 611.6,666.7C612.0,668.0 612.5,669.3 612.9,670.5C613.4,671.8 613.8,673.0 614.3,674.3C614.7,675.5 615.2,676.8 615.6,678.1C616.0,679.3 616.5,680.6 616.9,681.9C617.3,683.1 617.8,684.4 618.2,685.6C618.6,686.9 619.1,688.2 619.5,689.4C619.9,690.7 620.3,692.0 620.8,693.2C621.2,694.5 621.6,695.7 622.1,697.0C622.5,698.3 622.9,699.5 623.3,700.8C623.8,702.1 624.2,703.3 624.6,704.6C625.0,705.9 625.5,707.1 625.9,708.4C626.3,709.6 626.7,710.9 627.2,712.2C627.6,713.4 628.0,714.7 628.5,716.0C628.9,717.2 629.3,718.5 629.7,719.8C630.2,721.0 630.6,722.3 631.0,723.5C631.5,724.8 631.9,726.1 632.3,727.3C632.4,727.5 632.4,727.6 632.5,727.8" stroke="#3e9e0c"/>
<path d="M334.3,727.8C334.6,726.5 335.0,725.2 335.3,723.9C335.6,722.6 335.9,721.3 336.3,720.0C336.6,718.7 336.9,717.5 337.3,716.2C337.6,714.9 337.9,713.6 338.2,712.3C338.6,711.0 338.9,709.7 339.2,708.4C339.5,707.1 339.9,705.8 340.2,704.5C340.5,703.2 340.9,701.9 341.2,700.6C341.5,699.4 341.8,698.1 342.2,696.8C342.5,695.5 342.8,694.2 343.2,692.9C343.5,691.6 343.8,690.3 344.1,689.0C344.5,687.7 344.8,686.4 345.1,685.1C345.5,683.8 345.8,682.5 346.1,681.2C346.4,680.0 346.8,678.7 347.1,677.4C347.4,676.1 347.7,674.8 348.1,673.5C348.4,672.2 348.7,670.9 349.1,669.6C349.4,668.3 349.7,667.0 350.0,665.7C350.4,664.4 350.7,663.1 351.0,661.8C351.3,660.6 351.7,659.3 352.0,658.0C352.3,656.7 352.6,655.4 353.0,654.1C353.3,652.8 353.6,651.5 354.0,650.2C354.3,648.9 354.6,647.6 354.9,646.3C355.3,645.0 355.6,643.7 355.9,642.4C356.2,641.2 356.6,639.9 356.9,638.6C357.2,637.3 357.5,636.0 357.9,634.7C358.2,633.4 358.5,632.1 358.8,630.8C359.2,629.5 359.5,628.2 359.8,626.9C360.1,625.6 360.4,624.3 360.8,623.0C361.1,621.7 361.4,620.4 361.7,619.2C362.1,617.9 362.4,616.6 362.7,615.3C363.0,614.0 363.4,612.7 363.7,611.4C364.0,610.1 364.3,608.8 364.7,607.5C365.0,606.2 365.3,604.9 365.6,603.6C366.0,602.3 366.3,601.0 366.6,599.7C366.9,598.4 367.2,597.2 367.6,595.9C367.9,594.6 368.2,593.3 368.5,592.0C368.9,590.7 369.2,589.4 369.5,588.1C369.8,586.8 370.2,585.5 370.5,584.2C370.8,582.9 371.1,581.6 371.5,580.3C371.8,579.0 372.1,577.7 372.4,576.4C372.8,575.2 373.1,573.9 373.4,572.6C373.7,571.3 374.0,570.0 374.3,568.7C374.7,567.4 375.0,566.1 375.3,564.8C375.6,563.5 375.9,562.2 376.3,560.9C376.6,559.6 376.9,558.3 377.3,557.0C377.6,555.7 378.0,554.5 378.4,553.2C378.8,551.9 379.1,550.6 379.5,549.4C379.9,548.1 380.3,546.8 380.7,545.5C381.2,544.3 381.6,543.0 382.0,541.8C382.5,540.5 382.9,539.2 383.4,538.0C383.9,536.7 384.4,535.5 384.9,534.3C385.4,533.0 385.9,531.8 386.4,530.6C387.0,529.4 387.6,528.2 388.2,527.0C388.8,525.8 389.4,524.6 390.1,523.5C390.8,522.4 391.5,521.2 392.3,520.2C393.2,519.2 394.1,518.2 395.1,517.3C396.1,516.5 397.2,515.7 398.3,515.1C399.5,514.5 400.8,514.0 402.0,513.8C403.3,513.6 404.6,513.5 405.9,513.8C407.2,514.0 408.4,514.5 409.6,515.0C410.8,515.6 411.8,516.5 412.8,517.3C413.8,518.2 414.7,519.2 415.6,520.2C416.4,521.2 417.2,522.3 418.0,523.4C418.7,524.5 419.4,525.6 420.1,526.8C420.7,527.9 421.4,529.1 422.0,530.3C422.6,531.5 423.2,532.7 423.7,533.9C424.3,535.1 424.8,536.3 425.4,537.5C425.9,538.8 426.4,540.0 426.9,541.2C427.4,542.5 427.8,543.7 428.3,545.0C428.7,546.2 429.2,547.5 429.6,548.8C430.0,550.0 430.4,551.3 430.8,552.6C431.2,553.9 431.6,555.1 432.0,556.4C432.4,557.7 432.7,559.0 433.1,560.3C433.5,561.5 433.8,562.8 434.2,564.1C434.6,565.4 435.1,566.6 435.5,567.9C435.9,569.2 436.4,570.4 436.8,571.7C437.2,572.9 437.7,574.2 438.1,575.5C438.5,576.7 438.9,578.0 439.4,579.3C439.8,580.5 440.2,581.8 440.6,583.0C441.1,584.3 441.5,585.6 442.0,586.8C442.4,588.1 442.9,589.3 443.3,590.6C443.8,591.8 444.4,593.0 444.9,594.2C445.5,595.4 446.2,596.6 446.9,597.7C447.6,598.8 448.4,599.9 449.4,600.8C450.3,601.6 451.5,602.4 452.6,603.0C453.8,603.5 455.1,603.7 456.4,603.9C457.7,604.0 459.0,603.8 460.3,603.7C461.7,603.5 463.0,603.2 464.3,602.9C465.6,602.6 466.9,602.3 468.1,602.0C469.4,601.6 470.7,601.3 472.0,601.0C473.3,600.7 474.6,600.4 475.9,600.2C477.3,600.0 478.6,599.8 479.9,599.7C481.2,599.6 482.6,599.5 483.9,599.6C485.2,599.6 486.6,599.6 487.9,599.8C489.2,599.9 490.5,600.1 491.8,600.4C493.1,600.6 494.4,600.9 495.7,601.2C497.0,601.5 498.3,601.9 499.6,602.2C500.9,602.5 502.2,602.9 503.5,603.1C504.8,603.4 506.1,603.7 507.4,603.8C508.8,603.9 510.1,604.0 511.4,603.8C512.6,603.5 513.9,603.1 515.1,602.5C516.2,601.9 517.2,601.0 518.1,600.1C519.0,599.1 519.7,598.0 520.4,596.9C521.1,595.7 521.7,594.5 522.3,593.3C522.8,592.1 523.3,590.9 523.8,589.6C524.3,588.4 524.7,587.1 525.2,585.9C525.6,584.6 526.1,583.4 526.5,582.1C526.9,580.8 527.3,579.6 527.7,578.3C528.2,577.0 528.6,575.8 529.0,574.5C529.4,573.2 529.9,572.0 530.3,570.7C530.8,569.5 531.2,568.2 531.6,566.9C532.1,565.7 532.5,564.4 532.9,563.1C533.2,561.9 533.6,560.6 534.0,559.3C534.4,558.0 534.7,556.7 535.1,555.4C535.5,554.2 535.9,552.9 536.3,551.6C536.7,550.4 537.1,549.1 537.5,547.8C538.0,546.6 538.4,545.3 538.9,544.1C539.3,542.8 539.8,541.6 540.3,540.3C540.8,539.1 541.3,537.8 541.8,536.6C542.4,535.4 542.9,534.2 543.5,533.0C544.1,531.8 544.7,530.6 545.3,529.4C545.9,528.2 546.6,527.1 547.2,525.9C547.9,524.8 548.6,523.6 549.4,522.6C550.2,521.5 551.0,520.4 551.9,519.4C552.8,518.4 553.7,517.5 554.7,516.7C555.8,515.9 556.9,515.1 558.1,514.6C559.3,514.1 560.6,513.7 561.9,513.6C563.1,513.5 564.5,513.7 565.7,514.0C567.0,514.3 568.2,514.9 569.3,515.6C570.5,516.2 571.5,517.1 572.4,518.0C573.4,518.9 574.3,519.9 575.1,521.0C575.9,522.0 576.5,523.2 577.2,524.3C577.9,525.5 578.5,526.7 579.1,527.9C579.7,529.1 580.2,530.3 580.8,531.5C581.3,532.7 581.8,534.0 582.3,535.2C582.8,536.4 583.3,537.7 583.7,538.9C584.2,540.2 584.7,541.4 585.1,542.7C585.5,544.0 586.0,545.2 586.4,546.5C586.8,547.8 587.2,549.0 587.6,550.3C587.9,551.6 588.3,552.9 588.7,554.1C589.1,555.4 589.4,556.7 589.8,558.0C590.1,559.3 590.5,560.6 590.8,561.9C591.1,563.2 591.4,564.5 591.8,565.8C592.1,567.1 592.4,568.3 592.7,569.6C593.0,570.9 593.3,572.2 593.6,573.5C594.0,574.8 594.3,576.1 594.6,577.4C594.9,578.7 595.3,580.0 595.6,581.3C595.9,582.6 596.2,583.9 596.6,585.2C596.9,586.5 597.2,587.8 597.5,589.1C597.9,590.4 598.2,591.7 598.5,592.9C598.8,594.2 599.1,595.5 599.5,596.8C599.8,598.1 600.1,599.4 600.4,600.7C600.8,602.0 601.1,603.3 601.4,604.6C601.7,605.9 602.1,607.2 602.4,608.5C602.7,609.8 603.0,611.1 603.4,612.4C603.7,613.7 604.0,614.9 604.3,616.2C604.7,617.5 605.0,618.8 605.3,620.1C605.6,621.4 605.9,622.7 606.3,624.0C606.6,625.3 606.9,626.6 607.2,627.9C607.6,629.2 607.9,630.5 608.2,631.8C608.5,633.1 608.9,634.4 609.2,635.7C609.5,636.9 609.8,638.2 610.2,639.5C610.5,640.8 610.8,642.1 611.1,643.4C611.5,644.7 611.8,646.0 612.1,647.3C612.4,648.6 612.8,649.9 613.1,651.2C613.4,652.5 613.7,653.8 614.1,655.1C614.4,656.4 614.7,657.6 615.1,658.9C615.4,660.2 615.7,661.5 616.0,662.8C616.4,664.1 616.7,665.4 617.0,666.7C617.3,668.0 617.7,669.3 618.0,670.6C618.3,671.9 618.6,673.2 619.0,674.5C619.3,675.8 619.6,677.0 620.0,678.3C620.3,679.6 620.6,680.9 620.9,682.2C621.3,683.5 621.6,684.8 621.9,686.1C622.3,687.4 622.6,688.7 622.9,690.0C623.2,691.3 623.6,692.6 623.9,693.9C624.2,695.1 624.5,696.4 624.9,697.7C625.2,699.0 625.5,700.3 625.9,701.6C626.2,702.9 626.5,704.2 626.8,705.5C627.2,706.8 627.5,708.1 627.8,709.4C628.2,710.7 628.5,712.0 628.8,713.3C629.1,714.5 629.5,715.8 629.8,717.1C630.1,718.4 630.5,719.7 630.8,721.0C631.1,722.3 631.4,723.6 631.8,724.9C632.0,725.9 632.3,726.8 632.5,727.8" stroke="#e00410"/>
<path d="M334.3,727.8C334.6,726.5 334.9,725.2 335.3,723.9C335.6,722.6 335.9,721.3 336.2,720.0C336.6,718.7 336.9,717.4 337.2,716.2C337.5,714.9 337.8,713.6 338.2,712.3C338.5,711.0 338.8,709.7 339.1,708.4C339.5,707.1 339.8,705.8 340.1,704.5C340.4,703.2 340.8,701.9 341.1,700.6C341.4,699.3 341.7,698.0 342.0,696.7C342.4,695.4 342.7,694.2 343.0,692.9C343.3,691.6 343.7,690.3 344.0,689.0C344.3,687.7 344.6,686.4 344.9,685.1C345.3,683.8 345.6,682.5 345.9,681.2C346.2,679.9 346.6,678.6 346.9,677.3C347.2,676.0 347.5,674.7 347.8,673.4C348.2,672.1 348.5,670.9 348.8,669.6C349.1,668.3 349.5,667.0 349.8,665.7C350.1,664.4 350.4,663.1 350.8,661.8C351.1,660.5 351.4,659.2 351.7,657.9C352.0,656.6 352.4,655.3 352.7,654.0C353.0,652.7 353.3,651.4 353.7,650.2C354.0,648.9 354.3,647.6 354.6,646.3C355.0,645.0 355.3,643.7 355.6,642.4C355.9,641.1 356.3,639.8 356.6,638.5C356.9,637.2 357.2,635.9 357.5,634.6C357.9,633.3 358.2,632.0 358.5,630.7C358.8,629.4 359.2,628.2 359.5,626.9C359.8,625.6 360.1,624.3 360.5,623.0C360.8,621.7 361.1,620.4 361.4,619.1C361.8,617.8 362.1,616.5 362.4,615.2C362.7,613.9 363.1,612.6 363.4,611.3C363.7,610.0 364.0,608.7 364.4,607.5C364.7,606.2 365.0,604.9 365.3,603.6C365.7,602.3 366.0,601.0 366.3,599.7C366.6,598.4 367.0,597.1 367.3,595.8C367.6,594.5 367.9,593.2 368.2,591.9C368.6,590.6 368.9,589.3 369.2,588.1C369.5,586.8 369.9,585.5 370.2,584.2C370.5,582.9 370.8,581.6 371.2,580.3C371.5,579.0 371.8,577.7 372.1,576.4C372.5,575.1 372.8,573.8 373.1,572.5C373.4,571.2 373.7,569.9 374.0,568.6C374.4,567.3 374.7,566.0 375.0,564.7C375.3,563.4 375.6,562.2 376.0,560.9C376.3,559.6 376.6,558.3 377.0,557.0C377.3,555.7 377.7,554.4 378.1,553.2C378.5,551.9 378.8,550.6 379.2,549.3C379.6,548.0 380.0,546.8 380.5,545.5C380.9,544.2 381.3,543.0 381.7,541.7C382.2,540.5 382.7,539.2 383.1,538.0C383.6,536.7 384.1,535.5 384.6,534.2C385.1,533.0 385.6,531.8 386.2,530.6C386.7,529.3 387.3,528.1 387.9,527.0C388.5,525.8 389.1,524.6 389.8,523.5C390.5,522.3 391.3,521.2 392.1,520.2C392.9,519.1 393.7,518.1 394.7,517.2C395.7,516.3 396.7,515.4 397.8,514.8C398.9,514.1 400.2,513.6 401.5,513.3C402.7,513.1 404.1,513.0 405.3,513.1C406.6,513.3 407.9,513.7 409.1,514.2C410.3,514.7 411.4,515.5 412.4,516.3C413.4,517.2 414.3,518.2 415.1,519.2C416.0,520.2 416.8,521.3 417.6,522.4C418.3,523.5 419.0,524.6 419.7,525.7C420.4,526.9 421.1,528.0 421.7,529.2C422.3,530.4 422.9,531.6 423.5,532.8C424.1,534.0 424.6,535.2 425.2,536.4C425.7,537.6 426.2,538.9 426.7,540.1C427.2,541.3 427.7,542.6 428.2,543.8C428.6,545.1 429.1,546.3 429.5,547.6C429.9,548.9 430.4,550.1 430.8,551.4C431.2,552.7 431.6,553.9 431.9,555.2C432.3,556.5 432.7,557.8 433.1,559.1C433.4,560.3 433.8,561.6 434.2,562.9C434.6,564.2 435.0,565.5 435.4,566.7C435.8,568.0 436.3,569.2 436.7,570.5C437.1,571.8 437.6,573.0 438.0,574.3C438.4,575.5 438.9,576.8 439.3,578.1C439.7,579.3 440.1,580.6 440.5,581.9C441.0,583.1 441.4,584.4 441.9,585.7C442.3,586.9 442.7,588.2 443.2,589.4C443.7,590.7 444.2,591.9 444.7,593.1C445.3,594.3 445.9,595.5 446.6,596.7C447.2,597.8 448.0,598.9 448.8,599.9C449.7,600.9 450.7,601.8 451.8,602.4C452.9,603.1 454.2,603.5 455.4,603.8C456.7,604.0 458.1,603.9 459.4,603.8C460.7,603.7 462.0,603.4 463.3,603.1C464.6,602.9 465.9,602.5 467.2,602.2C468.5,601.9 469.8,601.5 471.1,601.2C472.4,600.9 473.7,600.6 475.0,600.4C476.3,600.1 477.6,599.9 478.9,599.8C480.2,599.6 481.6,599.6 482.9,599.6C484.2,599.5 485.6,599.6 486.9,599.7C488.2,599.8 489.5,600.0 490.9,600.2C492.2,600.4 493.5,600.7 494.8,601.0C496.1,601.3 497.4,601.6 498.6,602.0C499.9,602.3 501.2,602.6 502.5,602.9C503.8,603.2 505.1,603.5 506.5,603.7C507.8,603.8 509.1,604.0 510.4,603.9C511.7,603.7 513.0,603.4 514.1,602.9C515.3,602.4 516.4,601.5 517.3,600.6C518.2,599.7 519.0,598.6 519.7,597.5C520.5,596.4 521.1,595.2 521.7,594.0C522.2,592.8 522.7,591.6 523.2,590.4C523.7,589.1 524.2,587.9 524.6,586.6C525.1,585.3 525.5,584.1 525.9,582.8C526.4,581.6 526.8,580.3 527.2,579.0C527.6,577.8 528.0,576.5 528.5,575.2C528.9,574.0 529.3,572.7 529.8,571.4C530.2,570.2 530.7,568.9 531.1,567.7C531.5,566.4 531.9,565.1 532.3,563.9C532.7,562.6 533.1,561.3 533.5,560.0C533.8,558.7 534.2,557.5 534.6,556.2C534.9,554.9 535.3,553.6 535.7,552.4C536.1,551.1 536.6,549.8 537.0,548.6C537.4,547.3 537.8,546.0 538.3,544.8C538.8,543.5 539.2,542.3 539.7,541.0C540.2,539.8 540.7,538.6 541.2,537.3C541.8,536.1 542.3,534.9 542.9,533.7C543.4,532.5 544.0,531.3 544.6,530.1C545.2,528.9 545.9,527.7 546.6,526.6C547.2,525.4 547.9,524.3 548.7,523.2C549.4,522.1 550.2,521.0 551.0,520.0C551.9,518.9 552.7,517.9 553.7,517.0C554.6,516.1 555.7,515.3 556.8,514.6C558.0,514.0 559.2,513.5 560.5,513.3C561.7,513.0 563.1,513.0 564.4,513.2C565.7,513.3 567.0,513.7 568.1,514.3C569.3,514.9 570.4,515.7 571.4,516.5C572.4,517.4 573.3,518.4 574.1,519.4C575.0,520.4 575.7,521.5 576.4,522.6C577.2,523.7 577.8,524.9 578.4,526.1C579.1,527.3 579.7,528.4 580.2,529.7C580.8,530.9 581.3,532.1 581.8,533.3C582.4,534.5 582.8,535.8 583.3,537.0C583.8,538.3 584.3,539.5 584.7,540.8C585.2,542.0 585.6,543.3 586.0,544.6C586.5,545.8 586.9,547.1 587.3,548.4C587.7,549.6 588.0,550.9 588.4,552.2C588.8,553.5 589.2,554.8 589.5,556.0C589.9,557.3 590.2,558.6 590.6,559.9C590.9,561.2 591.3,562.5 591.6,563.8C591.9,565.1 592.2,566.4 592.5,567.7C592.8,569.0 593.1,570.3 593.5,571.6C593.8,572.8 594.1,574.1 594.4,575.4C594.7,576.7 595.1,578.0 595.4,579.3C595.7,580.6 596.0,581.9 596.4,583.2C596.7,584.5 597.0,585.8 597.3,587.1C597.7,588.4 598.0,589.7 598.3,591.0C598.6,592.3 599.0,593.5 599.3,594.8C599.6,596.1 599.9,597.4 600.3,598.7C600.6,600.0 600.9,601.3 601.2,602.6C601.6,603.9 601.9,605.2 602.2,606.5C602.5,607.8 602.9,609.1 603.2,610.4C603.5,611.7 603.8,613.0 604.1,614.2C604.5,615.5 604.8,616.8 605.1,618.1C605.4,619.4 605.8,620.7 606.1,622.0C606.4,623.3 606.7,624.6 607.1,625.9C607.4,627.2 607.7,628.5 608.0,629.8C608.4,631.1 608.7,632.4 609.0,633.7C609.3,634.9 609.7,636.2 610.0,637.5C610.3,638.8 610.6,640.1 611.0,641.4C611.3,642.7 611.6,644.0 611.9,645.3C612.2,646.6 612.6,647.9 612.9,649.2C613.2,650.5 613.5,651.8 613.9,653.1C614.2,654.4 614.5,655.7 614.8,656.9C615.2,658.2 615.5,659.5 615.8,660.8C616.1,662.1 616.5,663.4 616.8,664.7C617.1,666.0 617.4,667.3 617.7,668.6C618.1,669.9 618.4,671.2 618.7,672.5C619.0,673.8 619.4,675.1 619.7,676.4C620.0,677.6 620.3,678.9 620.6,680.2C621.0,681.5 621.3,682.8 621.6,684.1C621.9,685.4 622.3,686.7 622.6,688.0C622.9,689.3 623.2,690.6 623.6,691.9C623.9,693.2 624.2,694.5 624.5,695.8C624.8,697.1 625.2,698.4 625.5,699.7C625.8,700.9 626.1,702.2 626.5,703.5C626.8,704.8 627.1,706.1 627.4,707.4C627.7,708.7 628.1,710.0 628.4,711.3C628.7,712.6 629.0,713.9 629.4,715.2C629.7,716.5 630.0,717.8 630.3,719.1C630.6,720.4 631.0,721.7 631.3,722.9C631.6,724.2 631.9,725.5 632.3,726.8C632.3,727.2 632.4,727.5 632.5,727.8" stroke="#0c1c7c"/>
</g>
<g class="c" stroke-width="3.4">
<path d="M650.4,728.5C650.8,727.2 651.2,726.0 651.6,724.7C652.0,723.4 652.4,722.1 652.8,720.9C653.2,719.6 653.5,718.3 653.9,717.0C654.3,715.8 654.7,714.5 655.1,713.2C655.5,711.9 655.9,710.7 656.3,709.4C656.7,708.1 657.1,706.8 657.5,705.5C657.9,704.3 658.2,703.0 658.6,701.7C659.0,700.4 659.4,699.2 659.8,697.9C660.2,696.6 660.6,695.3 661.0,694.1C661.4,692.8 661.8,691.5 662.2,690.2C662.5,689.0 662.9,687.7 663.3,686.4C663.7,685.1 664.1,683.9 664.5,682.6C664.9,681.3 665.3,680.0 665.7,678.8C666.1,677.5 666.5,676.2 666.9,674.9C667.3,673.7 667.6,672.4 668.0,671.1C668.4,669.8 668.8,668.6 669.2,667.3C669.6,666.0 670.0,664.7 670.4,663.5C670.8,662.2 671.2,660.9 671.6,659.6C672.0,658.4 672.4,657.1 672.8,655.8C673.2,654.6 673.6,653.3 674.0,652.0C674.4,650.7 674.8,649.5 675.2,648.2C675.6,646.9 676.0,645.6 676.4,644.4C676.8,643.1 677.2,641.8 677.6,640.6C678.0,639.3 678.4,638.0 678.8,636.7C679.2,635.5 679.6,634.2 680.0,632.9C680.4,631.7 680.8,630.4 681.3,629.1C681.7,627.9 682.1,626.6 682.6,625.3C683.0,624.1 683.5,622.8 684.0,621.6C684.4,620.3 684.9,619.1 685.4,617.9C685.9,616.6 686.4,615.4 686.9,614.1C687.4,612.9 687.9,611.7 688.4,610.5C689.0,609.2 689.5,608.0 690.0,606.8C690.5,605.5 690.9,604.3 691.4,603.0C691.8,601.8 692.2,600.5 692.6,599.2C693.0,597.9 693.4,596.6 693.8,595.4C694.2,594.1 694.5,592.8 695.0,591.6C695.6,590.4 696.1,589.2 696.9,588.1C697.6,587.1 698.6,586.0 699.6,585.3C700.6,584.6 701.9,584.0 703.1,583.6C704.3,583.3 705.7,583.2 707.0,583.3C708.3,583.3 709.6,583.6 710.9,583.8C712.2,584.0 713.5,584.3 714.8,584.5C716.2,584.7 717.5,584.8 718.8,584.9C720.1,585.0 721.5,585.1 722.8,585.1C724.1,585.2 725.5,585.1 726.8,585.1C728.1,585.1 729.5,585.0 730.8,585.1C732.1,585.1 733.5,585.1 734.8,585.2C736.1,585.3 737.5,585.5 738.8,585.5C740.1,585.6 741.4,585.8 742.8,585.7C744.1,585.7 745.4,585.6 746.6,585.2C747.9,584.8 749.1,584.2 750.1,583.4C751.1,582.7 752.0,581.6 752.9,580.6C753.7,579.6 754.5,578.5 755.2,577.4C755.9,576.3 756.5,575.1 757.2,573.9C757.8,572.8 758.4,571.6 759.1,570.4C759.7,569.2 760.3,568.0 760.9,566.8C761.5,565.7 762.1,564.5 762.7,563.3C763.3,562.1 763.9,560.9 764.5,559.7C765.1,558.5 765.7,557.3 766.3,556.1C766.9,554.9 767.5,553.7 768.1,552.5C768.7,551.4 769.3,550.2 769.9,549.0C770.5,547.8 771.1,546.6 771.7,545.4C772.3,544.2 772.9,543.0 773.6,541.8C774.2,540.7 774.8,539.5 775.5,538.3C776.1,537.2 776.8,536.0 777.4,534.8C778.1,533.7 778.8,532.6 779.5,531.4C780.2,530.3 780.9,529.2 781.7,528.1C782.5,527.0 783.2,525.9 784.1,524.9C784.9,523.8 785.8,522.9 786.8,521.9C787.8,521.0 788.8,520.2 789.9,519.4C790.9,518.7 792.1,518.0 793.3,517.4C794.5,516.9 795.8,516.5 797.1,516.3C798.4,516.2 799.7,516.1 801.0,516.3C802.3,516.4 803.6,516.8 804.8,517.3C806.1,517.7 807.2,518.4 808.3,519.1C809.4,519.9 810.5,520.7 811.4,521.6C812.4,522.5 813.3,523.5 814.2,524.5C815.1,525.5 815.8,526.6 816.6,527.7C817.4,528.7 818.1,529.9 818.8,531.0C819.5,532.1 820.2,533.3 820.9,534.4C821.6,535.6 822.2,536.7 822.9,537.9C823.5,539.1 824.2,540.2 824.8,541.4C825.4,542.6 826.0,543.8 826.7,544.9C827.3,546.1 827.9,547.3 828.5,548.5C829.1,549.7 829.7,550.9 830.3,552.1C830.9,553.3 831.4,554.5 832.0,555.7C832.6,556.9 833.2,558.1 833.8,559.3C834.4,560.4 835.0,561.6 835.6,562.8C836.2,564.0 836.8,565.2 837.5,566.4C838.1,567.6 838.7,568.8 839.3,569.9C839.9,571.1 840.5,572.3 841.2,573.5C841.8,574.7 842.5,575.8 843.2,577.0C843.9,578.1 844.6,579.2 845.4,580.2C846.2,581.3 847.1,582.3 848.1,583.1C849.1,583.9 850.3,584.6 851.5,585.1C852.7,585.5 854.0,585.6 855.3,585.7C856.7,585.8 858.0,585.7 859.3,585.6C860.6,585.5 862.0,585.3 863.3,585.3C864.6,585.2 866.0,585.1 867.3,585.1C868.6,585.0 870.0,585.1 871.3,585.1C872.6,585.1 874.0,585.2 875.3,585.2C876.6,585.1 878.0,585.1 879.3,585.0C880.6,584.9 881.9,584.7 883.3,584.5C884.6,584.4 885.9,584.1 887.2,583.9C888.5,583.7 889.8,583.4 891.1,583.3C892.4,583.2 893.8,583.2 895.0,583.5C896.3,583.8 897.5,584.3 898.6,585.0C899.7,585.7 900.6,586.7 901.4,587.7C902.2,588.7 902.8,589.9 903.4,591.1C903.9,592.3 904.3,593.6 904.7,594.9C905.1,596.2 905.5,597.5 905.8,598.7C906.2,600.0 906.6,601.3 907.1,602.5C907.5,603.8 907.9,605.1 908.4,606.3C908.9,607.5 909.4,608.8 910.0,610.0C910.5,611.2 911.0,612.4 911.5,613.7C912.0,614.9 912.5,616.1 913.0,617.4C913.5,618.6 914.0,619.9 914.5,621.1C914.9,622.4 915.4,623.6 915.9,624.9C916.3,626.1 916.8,627.4 917.2,628.6C917.6,629.9 918.0,631.2 918.4,632.5C918.8,633.7 919.2,635.0 919.6,636.3C920.0,637.5 920.4,638.8 920.8,640.1C921.2,641.4 921.6,642.6 922.0,643.9C922.4,645.2 922.8,646.4 923.2,647.7C923.7,649.0 924.1,650.3 924.5,651.5C924.9,652.8 925.3,654.1 925.7,655.4C926.1,656.6 926.4,657.9 926.8,659.2C927.2,660.4 927.6,661.7 928.0,663.0C928.4,664.3 928.8,665.5 929.2,666.8C929.6,668.1 930.0,669.4 930.4,670.6C930.8,671.9 931.2,673.2 931.6,674.5C932.0,675.7 932.4,677.0 932.8,678.3C933.2,679.6 933.6,680.8 933.9,682.1C934.3,683.4 934.7,684.7 935.1,685.9C935.5,687.2 935.9,688.5 936.3,689.8C936.7,691.0 937.1,692.3 937.5,693.6C937.9,694.9 938.3,696.1 938.6,697.4C939.0,698.7 939.4,700.0 939.8,701.2C940.2,702.5 940.6,703.8 941.0,705.1C941.4,706.3 941.8,707.6 942.2,708.9C942.6,710.2 942.9,711.4 943.3,712.7C943.7,714.0 944.1,715.3 944.5,716.5C944.9,717.8 945.3,719.1 945.7,720.4C946.1,721.6 946.5,722.9 946.9,724.2C947.3,725.5 947.7,726.7 948.1,728.0C948.1,728.2 948.2,728.3 948.2,728.5" stroke="#951e82"/>
<path d="M650.4,728.5C650.8,727.2 651.2,726.0 651.6,724.7C652.0,723.4 652.4,722.1 652.8,720.9C653.2,719.6 653.5,718.3 653.9,717.0C654.3,715.8 654.7,714.5 655.1,713.2C655.5,711.9 655.9,710.7 656.3,709.4C656.7,708.1 657.1,706.8 657.5,705.6C657.9,704.3 658.2,703.0 658.6,701.7C659.0,700.5 659.4,699.2 659.8,697.9C660.2,696.6 660.6,695.4 661.0,694.1C661.4,692.8 661.8,691.5 662.2,690.3C662.5,689.0 662.9,687.7 663.3,686.4C663.7,685.2 664.1,683.9 664.5,682.6C664.9,681.3 665.3,680.1 665.7,678.8C666.1,677.5 666.5,676.2 666.9,675.0C667.2,673.7 667.6,672.4 668.0,671.1C668.4,669.9 668.8,668.6 669.2,667.3C669.6,666.0 670.0,664.8 670.4,663.5C670.8,662.2 671.2,660.9 671.6,659.7C672.0,658.4 672.4,657.1 672.8,655.9C673.2,654.6 673.6,653.3 674.0,652.0C674.4,650.8 674.8,649.5 675.2,648.2C675.6,647.0 676.0,645.7 676.4,644.4C676.8,643.1 677.2,641.9 677.6,640.6C678.0,639.3 678.4,638.1 678.8,636.8C679.2,635.5 679.6,634.2 680.0,633.0C680.4,631.7 680.8,630.4 681.2,629.2C681.7,627.9 682.1,626.6 682.6,625.4C683.0,624.1 683.5,622.9 683.9,621.6C684.4,620.4 684.9,619.1 685.4,617.9C685.9,616.7 686.4,615.4 686.8,614.2C687.3,612.9 687.8,611.7 688.3,610.4C688.8,609.2 689.3,608.0 689.8,606.8C690.4,605.5 690.9,604.3 691.5,603.1C692.1,601.9 692.7,600.7 693.4,599.6C694.0,598.4 694.7,597.3 695.4,596.1C696.1,595.0 696.9,593.9 697.6,592.8C698.4,591.7 699.2,590.7 700.1,589.7C700.9,588.6 701.8,587.7 702.8,586.7C703.7,585.8 704.7,584.9 705.7,584.0C706.7,583.1 707.7,582.2 708.7,581.3C709.7,580.5 710.7,579.6 711.8,578.8C712.8,578.0 713.9,577.1 715.0,576.4C716.0,575.6 717.2,574.9 718.3,574.3C719.5,573.7 720.8,573.2 722.0,572.9C723.3,572.7 724.6,572.6 725.9,572.7C727.2,572.9 728.5,573.3 729.7,573.8C730.9,574.4 732.0,575.1 733.1,575.9C734.2,576.6 735.2,577.5 736.2,578.3C737.3,579.2 738.3,580.0 739.4,580.8C740.4,581.5 741.5,582.3 742.7,582.8C743.9,583.3 745.2,583.8 746.4,583.8C747.7,583.9 749.0,583.5 750.1,583.0C751.2,582.4 752.1,581.4 753.0,580.5C753.8,579.5 754.5,578.3 755.3,577.2C756.0,576.1 756.8,575.0 757.5,573.9C758.2,572.8 759.0,571.7 759.6,570.5C760.3,569.4 761.0,568.2 761.6,567.1C762.2,565.9 762.8,564.7 763.5,563.5C764.1,562.3 764.7,561.1 765.3,560.0C765.9,558.8 766.5,557.6 767.1,556.4C767.7,555.2 768.3,554.0 768.9,552.8C769.5,551.6 770.1,550.4 770.7,549.3C771.3,548.1 772.0,546.9 772.6,545.7C773.2,544.5 773.9,543.4 774.5,542.2C775.2,541.0 775.8,539.9 776.5,538.8C777.2,537.6 777.9,536.5 778.7,535.4C779.4,534.2 780.1,533.1 780.9,532.0C781.7,531.0 782.5,529.9 783.3,528.9C784.2,527.8 785.0,526.8 786.0,525.9C786.9,524.9 787.8,524.0 788.9,523.2C789.9,522.4 791.0,521.6 792.2,521.0C793.4,520.4 794.6,519.9 795.9,519.6C797.2,519.3 798.5,519.1 799.8,519.2C801.1,519.2 802.4,519.5 803.7,519.9C804.9,520.3 806.1,520.8 807.3,521.5C808.4,522.2 809.5,523.0 810.5,523.8C811.5,524.7 812.4,525.6 813.3,526.6C814.2,527.6 815.1,528.6 815.9,529.6C816.7,530.7 817.5,531.8 818.3,532.9C819.0,534.0 819.8,535.1 820.5,536.2C821.2,537.3 821.9,538.5 822.6,539.6C823.3,540.8 823.9,541.9 824.6,543.1C825.2,544.2 825.8,545.4 826.5,546.6C827.1,547.8 827.7,549.0 828.3,550.1C829.0,551.3 829.6,552.5 830.2,553.7C830.8,554.9 831.3,556.1 832.0,557.3C832.6,558.5 833.2,559.7 833.8,560.8C834.4,562.0 835.0,563.2 835.6,564.4C836.2,565.6 836.8,566.8 837.5,567.9C838.1,569.1 838.8,570.3 839.5,571.4C840.2,572.5 840.9,573.6 841.7,574.7C842.4,575.9 843.1,577.0 843.9,578.1C844.7,579.1 845.3,580.3 846.3,581.2C847.2,582.1 848.2,583.0 849.4,583.4C850.5,583.8 851.9,583.9 853.1,583.7C854.3,583.6 855.6,583.0 856.7,582.4C857.9,581.8 859.0,581.0 860.0,580.2C861.1,579.4 862.1,578.5 863.2,577.7C864.2,576.9 865.2,576.0 866.4,575.3C867.5,574.6 868.6,573.9 869.8,573.5C871.1,573.0 872.4,572.7 873.7,572.6C874.9,572.6 876.3,572.8 877.5,573.2C878.8,573.5 880.0,574.1 881.1,574.8C882.3,575.4 883.4,576.2 884.5,577.0C885.5,577.7 886.6,578.6 887.6,579.4C888.6,580.3 889.7,581.1 890.7,582.0C891.7,582.9 892.7,583.7 893.7,584.6C894.6,585.5 895.6,586.5 896.5,587.4C897.4,588.4 898.3,589.4 899.2,590.4C900.0,591.5 900.8,592.5 901.5,593.6C902.3,594.7 903.0,595.9 903.7,597.0C904.4,598.1 905.1,599.3 905.7,600.5C906.3,601.6 906.9,602.8 907.5,604.0C908.1,605.2 908.6,606.4 909.2,607.7C909.7,608.9 910.2,610.1 910.7,611.4C911.2,612.6 911.6,613.9 912.1,615.1C912.6,616.3 913.1,617.6 913.6,618.8C914.1,620.1 914.5,621.3 915.0,622.6C915.5,623.8 915.9,625.1 916.4,626.3C916.8,627.6 917.2,628.8 917.7,630.1C918.1,631.4 918.5,632.6 918.9,633.9C919.3,635.2 919.7,636.5 920.1,637.7C920.5,639.0 920.9,640.3 921.3,641.5C921.7,642.8 922.1,644.1 922.5,645.4C922.9,646.6 923.3,647.9 923.7,649.2C924.1,650.4 924.5,651.7 924.9,653.0C925.3,654.3 925.7,655.5 926.1,656.8C926.5,658.1 926.9,659.4 927.3,660.6C927.7,661.9 928.1,663.2 928.5,664.4C928.9,665.7 929.3,667.0 929.7,668.3C930.1,669.5 930.5,670.8 930.9,672.1C931.3,673.4 931.6,674.6 932.0,675.9C932.4,677.2 932.8,678.5 933.2,679.7C933.6,681.0 934.0,682.3 934.4,683.6C934.8,684.8 935.2,686.1 935.6,687.4C936.0,688.7 936.4,689.9 936.7,691.2C937.1,692.5 937.5,693.8 937.9,695.0C938.3,696.3 938.7,697.6 939.1,698.9C939.5,700.1 939.9,701.4 940.3,702.7C940.7,704.0 941.0,705.2 941.4,706.5C941.8,707.8 942.2,709.1 942.6,710.3C943.0,711.6 943.4,712.9 943.8,714.2C944.2,715.4 944.6,716.7 945.0,718.0C945.3,719.3 945.7,720.5 946.1,721.8C946.5,723.1 946.9,724.4 947.3,725.6C947.6,726.6 947.9,727.5 948.2,728.5" stroke="#f2560e"/>
<path d="M650.4,728.5C650.8,727.2 651.1,725.9 651.5,724.6C651.8,723.4 652.2,722.1 652.6,720.8C652.9,719.5 653.3,718.2 653.6,716.9C654.0,715.7 654.4,714.4 654.7,713.1C655.1,711.8 655.5,710.5 655.8,709.2C656.2,708.0 656.6,706.7 656.9,705.4C657.3,704.1 657.7,702.8 658.0,701.5C658.4,700.3 658.8,699.0 659.1,697.7C659.5,696.4 659.9,695.1 660.2,693.8C660.6,692.6 661.0,691.3 661.3,690.0C661.7,688.7 662.1,687.4 662.4,686.1C662.8,684.9 663.2,683.6 663.5,682.3C663.9,681.0 664.2,679.7 664.6,678.4C665.0,677.2 665.3,675.9 665.7,674.6C666.0,673.3 666.4,672.0 666.8,670.7C667.1,669.4 667.5,668.2 667.8,666.9C668.2,665.6 668.5,664.3 668.9,663.0C669.3,661.7 669.6,660.4 670.0,659.2C670.3,657.9 670.6,656.6 671.0,655.3C671.3,654.0 671.7,652.7 672.0,651.4C672.4,650.1 672.7,648.8 673.0,647.6C673.4,646.3 673.7,645.0 674.1,643.7C674.4,642.4 674.7,641.1 675.0,639.8C675.4,638.5 675.7,637.2 676.0,635.9C676.3,634.6 676.6,633.3 676.9,632.0C677.2,630.7 677.6,629.4 677.9,628.1C678.2,626.8 678.6,625.6 678.9,624.3C679.3,623.0 679.7,621.7 680.0,620.4C680.4,619.1 680.8,617.9 681.2,616.6C681.6,615.3 682.1,614.1 682.5,612.8C682.9,611.5 683.4,610.3 683.8,609.0C684.2,607.8 684.7,606.5 685.2,605.3C685.6,604.0 686.1,602.8 686.6,601.5C687.1,600.3 687.6,599.0 688.1,597.8C688.6,596.6 689.1,595.3 689.6,594.1C690.1,592.9 690.7,591.6 691.2,590.4C691.7,589.2 692.2,588.0 692.7,586.7C693.3,585.5 693.8,584.3 694.3,583.1C694.9,581.8 695.4,580.6 696.0,579.4C696.5,578.2 697.1,577.0 697.7,575.8C698.2,574.6 698.8,573.4 699.4,572.2C699.9,571.0 700.5,569.7 701.0,568.5C701.6,567.3 702.1,566.1 702.7,564.9C703.3,563.7 703.9,562.5 704.5,561.3C705.2,560.2 705.8,559.0 706.6,557.9C707.3,556.8 708.1,555.7 709.0,554.8C709.9,553.8 710.9,552.9 712.0,552.1C713.0,551.4 714.2,550.7 715.5,550.3C716.7,550.0 718.0,549.8 719.3,549.9C720.6,550.0 721.9,550.4 723.0,550.9C724.2,551.4 725.3,552.3 726.3,553.1C727.3,553.9 728.2,554.9 729.1,555.9C730.0,556.9 730.8,557.9 731.7,559.0C732.5,560.0 733.2,561.1 734.0,562.2C734.7,563.3 735.4,564.5 736.1,565.6C736.8,566.8 737.4,568.0 738.0,569.1C738.6,570.3 739.2,571.5 739.8,572.7C740.5,573.9 741.0,575.1 741.7,576.2C742.4,577.3 743.1,578.5 744.0,579.4C744.9,580.4 745.9,581.3 747.0,581.8C748.1,582.3 749.5,582.6 750.7,582.4C751.9,582.3 753.1,581.7 754.2,581.0C755.3,580.3 756.2,579.3 757.1,578.4C758.0,577.4 758.9,576.4 759.7,575.3C760.5,574.2 761.2,573.1 761.9,572.0C762.6,570.9 763.2,569.7 763.9,568.6C764.6,567.4 765.3,566.2 765.9,565.1C766.6,563.9 767.2,562.8 767.9,561.6C768.5,560.4 769.2,559.3 769.8,558.1C770.4,556.9 771.1,555.7 771.7,554.6C772.4,553.4 773.0,552.2 773.6,551.0C774.2,549.9 774.9,548.7 775.5,547.5C776.2,546.4 776.9,545.2 777.6,544.1C778.3,543.0 779.0,541.8 779.8,540.8C780.6,539.7 781.3,538.6 782.2,537.6C783.0,536.6 783.9,535.6 784.9,534.6C785.8,533.7 786.8,532.8 787.9,532.0C789.0,531.2 790.1,530.5 791.2,529.9C792.4,529.3 793.7,528.7 794.9,528.4C796.2,528.0 797.5,527.8 798.8,527.7C800.1,527.7 801.5,527.8 802.7,528.1C804.0,528.4 805.3,528.9 806.5,529.4C807.7,530.0 808.8,530.7 809.9,531.4C811.0,532.2 812.0,533.0 813.0,533.9C814.0,534.8 814.9,535.8 815.8,536.8C816.6,537.8 817.4,538.9 818.2,539.9C819.0,541.0 819.8,542.1 820.5,543.2C821.2,544.4 821.9,545.5 822.6,546.7C823.3,547.8 823.9,549.0 824.5,550.2C825.2,551.3 825.8,552.5 826.4,553.7C827.0,554.9 827.7,556.0 828.3,557.2C829.0,558.4 829.6,559.6 830.2,560.7C830.9,561.9 831.5,563.1 832.2,564.2C832.8,565.4 833.5,566.5 834.2,567.7C834.9,568.8 835.5,570.0 836.2,571.1C836.9,572.3 837.6,573.4 838.4,574.5C839.1,575.6 839.9,576.7 840.8,577.7C841.7,578.6 842.6,579.6 843.6,580.4C844.7,581.2 845.8,582.0 847.0,582.3C848.2,582.5 849.6,582.5 850.7,582.2C851.9,581.8 853.0,581.0 853.9,580.2C854.9,579.3 855.6,578.2 856.3,577.1C857.1,576.0 857.7,574.8 858.3,573.6C858.9,572.4 859.5,571.2 860.1,570.0C860.7,568.8 861.3,567.7 862.0,566.5C862.7,565.3 863.3,564.2 864.1,563.1C864.8,562.0 865.6,560.9 866.3,559.8C867.1,558.7 868.0,557.7 868.8,556.7C869.7,555.6 870.6,554.6 871.6,553.8C872.5,552.9 873.6,552.0 874.7,551.4C875.8,550.7 877.1,550.2 878.4,550.0C879.6,549.8 881.0,549.8 882.2,550.1C883.5,550.4 884.7,550.9 885.8,551.6C886.9,552.2 888.0,553.1 888.9,554.0C889.8,555.0 890.7,556.0 891.4,557.1C892.2,558.2 892.9,559.3 893.6,560.5C894.3,561.6 894.9,562.8 895.5,564.0C896.1,565.2 896.6,566.4 897.1,567.6C897.7,568.8 898.2,570.0 898.8,571.3C899.4,572.5 900.0,573.7 900.5,574.9C901.1,576.1 901.7,577.3 902.2,578.5C902.8,579.7 903.3,580.9 903.9,582.1C904.4,583.4 904.9,584.6 905.5,585.8C906.0,587.0 906.5,588.3 907.0,589.5C907.6,590.7 908.1,592.0 908.6,593.2C909.1,594.4 909.6,595.7 910.1,596.9C910.6,598.1 911.1,599.4 911.6,600.6C912.1,601.8 912.6,603.1 913.1,604.3C913.5,605.6 914.0,606.8 914.5,608.1C914.9,609.3 915.4,610.6 915.8,611.9C916.2,613.1 916.6,614.4 917.1,615.6C917.5,616.9 917.9,618.2 918.3,619.5C918.7,620.7 919.0,622.0 919.4,623.3C919.8,624.6 920.1,625.9 920.5,627.2C920.8,628.5 921.1,629.8 921.4,631.0C921.7,632.3 922.1,633.6 922.4,634.9C922.7,636.2 923.0,637.5 923.3,638.8C923.6,640.1 924.0,641.4 924.3,642.7C924.6,644.0 925.0,645.3 925.3,646.6C925.6,647.9 926.0,649.2 926.3,650.5C926.7,651.7 927.0,653.0 927.3,654.3C927.7,655.6 928.0,656.9 928.4,658.2C928.7,659.5 929.1,660.8 929.4,662.1C929.8,663.3 930.1,664.6 930.5,665.9C930.9,667.2 931.2,668.5 931.6,669.8C931.9,671.1 932.3,672.3 932.6,673.6C933.0,674.9 933.4,676.2 933.7,677.5C934.1,678.8 934.4,680.0 934.8,681.3C935.2,682.6 935.5,683.9 935.9,685.2C936.3,686.5 936.6,687.7 937.0,689.0C937.4,690.3 937.7,691.6 938.1,692.9C938.5,694.2 938.8,695.4 939.2,696.7C939.6,698.0 939.9,699.3 940.3,700.6C940.7,701.9 941.0,703.1 941.4,704.4C941.8,705.7 942.1,707.0 942.5,708.3C942.9,709.6 943.2,710.8 943.6,712.1C944.0,713.4 944.3,714.7 944.7,716.0C945.0,717.3 945.4,718.5 945.8,719.8C946.1,721.1 946.5,722.4 946.9,723.7C947.2,725.0 947.6,726.3 947.9,727.5C948.0,727.9 948.1,728.2 948.2,728.5" stroke="#3e9e0c"/>
<path d="M650.4,728.5C650.7,727.2 651.0,725.9 651.3,724.6C651.6,723.3 651.9,722.0 652.1,720.7C652.4,719.4 652.7,718.1 653.0,716.8C653.3,715.5 653.6,714.2 653.9,712.9C654.2,711.6 654.5,710.3 654.8,709.0C655.0,707.7 655.3,706.4 655.6,705.1C655.9,703.8 656.2,702.5 656.5,701.2C656.8,699.9 657.1,698.6 657.4,697.3C657.6,695.9 657.9,694.6 658.2,693.3C658.5,692.0 658.8,690.7 659.1,689.4C659.4,688.1 659.7,686.8 660.0,685.5C660.2,684.2 660.5,682.9 660.8,681.6C661.1,680.3 661.4,679.0 661.7,677.7C662.0,676.4 662.3,675.1 662.6,673.8C662.9,672.5 663.2,671.2 663.4,669.9C663.7,668.6 664.0,667.3 664.3,666.0C664.6,664.7 664.9,663.4 665.2,662.1C665.5,660.8 665.8,659.5 666.1,658.2C666.4,656.9 666.7,655.6 667.0,654.3C667.3,653.0 667.6,651.7 667.9,650.4C668.2,649.1 668.5,647.8 668.8,646.5C669.1,645.2 669.4,643.9 669.7,642.6C670.0,641.3 670.3,640.0 670.6,638.7C670.9,637.4 671.2,636.1 671.5,634.8C671.8,633.5 672.2,632.2 672.5,630.9C672.8,629.6 673.1,628.3 673.4,627.0C673.7,625.7 674.0,624.4 674.4,623.1C674.7,621.9 675.0,620.6 675.3,619.3C675.6,618.0 675.9,616.7 676.2,615.4C676.6,614.1 676.9,612.8 677.2,611.5C677.5,610.2 677.8,608.9 678.1,607.6C678.4,606.3 678.7,605.0 679.0,603.7C679.3,602.4 679.6,601.1 679.9,599.8C680.2,598.5 680.5,597.2 680.8,595.9C681.1,594.6 681.4,593.3 681.6,592.0C681.9,590.7 682.2,589.4 682.4,588.1C682.7,586.7 683.0,585.4 683.3,584.1C683.5,582.8 683.8,581.5 684.1,580.2C684.4,578.9 684.7,577.6 685.0,576.3C685.3,575.0 685.6,573.7 685.9,572.4C686.2,571.1 686.6,569.8 686.9,568.6C687.2,567.3 687.6,566.0 687.9,564.7C688.3,563.4 688.6,562.1 689.0,560.8C689.4,559.6 689.8,558.3 690.1,557.0C690.5,555.7 690.9,554.4 691.3,553.2C691.7,551.9 692.1,550.6 692.5,549.4C692.9,548.1 693.4,546.8 693.8,545.6C694.2,544.3 694.7,543.0 695.1,541.8C695.6,540.5 696.1,539.3 696.6,538.1C697.1,536.8 697.6,535.6 698.1,534.4C698.7,533.2 699.2,532.0 699.9,530.8C700.5,529.6 701.1,528.4 701.8,527.3C702.5,526.1 703.2,525.0 704.0,523.9C704.8,522.9 705.7,521.9 706.7,521.1C707.7,520.2 708.8,519.5 710.0,519.0C711.2,518.6 712.5,518.4 713.8,518.6C715.0,518.7 716.3,519.3 717.3,519.9C718.5,520.5 719.4,521.5 720.4,522.4C721.3,523.4 722.1,524.4 722.9,525.5C723.7,526.6 724.4,527.7 725.1,528.8C725.9,529.9 726.6,531.1 727.2,532.2C727.8,533.4 728.4,534.6 729.0,535.8C729.6,537.0 730.2,538.2 730.8,539.4C731.3,540.6 731.9,541.8 732.4,543.0C733.0,544.2 733.5,545.5 734.0,546.7C734.5,547.9 735.0,549.2 735.4,550.4C735.9,551.7 736.2,553.0 736.6,554.3C737.0,555.5 737.4,556.8 737.8,558.1C738.2,559.4 738.5,560.6 739.0,561.9C739.4,563.2 739.8,564.4 740.2,565.7C740.7,567.0 741.2,568.2 741.7,569.4C742.2,570.6 742.8,571.9 743.4,573.0C744.1,574.2 744.8,575.3 745.6,576.3C746.4,577.4 747.3,578.4 748.4,579.1C749.4,579.9 750.6,580.5 751.8,580.7C753.0,580.9 754.3,580.6 755.5,580.2C756.6,579.7 757.7,578.8 758.6,578.0C759.6,577.1 760.5,576.1 761.3,575.1C762.2,574.0 763.0,573.0 763.8,571.9C764.5,570.8 765.3,569.7 766.0,568.6C766.7,567.5 767.5,566.3 768.2,565.2C768.9,564.1 769.6,563.0 770.3,561.8C771.0,560.7 771.7,559.5 772.4,558.4C773.1,557.3 773.8,556.2 774.5,555.0C775.3,553.9 776.0,552.8 776.8,551.7C777.5,550.6 778.3,549.5 779.1,548.5C780.0,547.5 780.8,546.4 781.8,545.5C782.7,544.5 783.7,543.6 784.7,542.8C785.7,542.0 786.8,541.2 788.0,540.5C789.1,539.9 790.3,539.3 791.5,538.8C792.8,538.3 794.1,537.9 795.4,537.7C796.6,537.4 798.0,537.3 799.3,537.3C800.6,537.3 802.0,537.4 803.2,537.7C804.5,537.9 805.8,538.3 807.1,538.8C808.3,539.3 809.5,539.9 810.6,540.5C811.8,541.2 812.9,542.0 813.9,542.8C814.9,543.6 815.9,544.5 816.8,545.5C817.8,546.4 818.6,547.5 819.5,548.5C820.3,549.5 821.1,550.6 821.8,551.7C822.6,552.8 823.3,553.9 824.1,555.0C824.8,556.2 825.5,557.3 826.2,558.4C826.9,559.5 827.6,560.7 828.3,561.8C829.0,563.0 829.7,564.1 830.4,565.2C831.1,566.3 831.9,567.5 832.6,568.6C833.3,569.7 834.1,570.8 834.8,571.9C835.6,573.0 836.4,574.0 837.3,575.1C838.1,576.1 839.0,577.1 840.0,578.0C840.9,578.8 842.0,579.7 843.1,580.2C844.3,580.6 845.6,580.9 846.8,580.7C848.0,580.5 849.2,579.9 850.2,579.1C851.3,578.4 852.2,577.4 853.0,576.3C853.8,575.3 854.5,574.2 855.2,573.0C855.8,571.9 856.4,570.6 856.9,569.4C857.4,568.2 857.9,567.0 858.4,565.7C858.8,564.4 859.2,563.2 859.6,561.9C860.1,560.6 860.4,559.4 860.8,558.1C861.2,556.8 861.6,555.5 862.0,554.3C862.4,553.0 862.7,551.7 863.2,550.4C863.6,549.2 864.1,547.9 864.6,546.7C865.1,545.5 865.6,544.2 866.2,543.0C866.7,541.8 867.3,540.6 867.8,539.4C868.4,538.2 869.0,537.0 869.6,535.8C870.2,534.6 870.8,533.4 871.4,532.2C872.0,531.1 872.7,529.9 873.5,528.8C874.2,527.7 874.9,526.6 875.7,525.5C876.5,524.4 877.3,523.4 878.2,522.4C879.2,521.5 880.1,520.5 881.3,519.9C882.3,519.3 883.6,518.7 884.8,518.6C886.1,518.4 887.4,518.6 888.6,519.0C889.8,519.5 890.9,520.2 891.9,521.1C892.9,521.9 893.8,522.9 894.6,523.9C895.4,525.0 896.1,526.1 896.8,527.3C897.5,528.4 898.1,529.6 898.7,530.8C899.4,532.0 899.9,533.2 900.5,534.4C901.0,535.6 901.5,536.8 902.0,538.1C902.5,539.3 903.0,540.5 903.5,541.8C903.9,543.0 904.4,544.3 904.8,545.6C905.2,546.8 905.7,548.1 906.1,549.4C906.5,550.6 906.9,551.9 907.3,553.2C907.7,554.4 908.1,555.7 908.5,557.0C908.8,558.3 909.2,559.6 909.6,560.8C910.0,562.1 910.3,563.4 910.7,564.7C911.0,566.0 911.4,567.3 911.7,568.6C912.0,569.8 912.4,571.1 912.7,572.4C913.0,573.7 913.3,575.0 913.6,576.3C913.9,577.6 914.2,578.9 914.5,580.2C914.8,581.5 915.1,582.8 915.3,584.1C915.6,585.4 915.9,586.7 916.2,588.1C916.4,589.4 916.7,590.7 917.0,592.0C917.2,593.3 917.5,594.6 917.8,595.9C918.1,597.2 918.4,598.5 918.7,599.8C919.0,601.1 919.3,602.4 919.6,603.7C919.9,605.0 920.2,606.3 920.5,607.6C920.8,608.9 921.1,610.2 921.4,611.5C921.7,612.8 922.0,614.1 922.4,615.4C922.7,616.7 923.0,618.0 923.3,619.3C923.6,620.6 923.9,621.9 924.2,623.1C924.6,624.4 924.9,625.7 925.2,627.0C925.5,628.3 925.8,629.6 926.1,630.9C926.4,632.2 926.8,633.5 927.1,634.8C927.4,636.1 927.7,637.4 928.0,638.7C928.3,640.0 928.6,641.3 928.9,642.6C929.2,643.9 929.5,645.2 929.8,646.5C930.1,647.8 930.4,649.1 930.7,650.4C931.0,651.7 931.3,653.0 931.6,654.3C931.9,655.6 932.2,656.9 932.5,658.2C932.8,659.5 933.1,660.8 933.4,662.1C933.7,663.4 934.0,664.7 934.3,666.0C934.6,667.3 934.9,668.6 935.2,669.9C935.4,671.2 935.7,672.5 936.0,673.8C936.3,675.1 936.6,676.4 936.9,677.7C937.2,679.0 937.5,680.3 937.8,681.6C938.1,682.9 938.4,684.2 938.6,685.5C938.9,686.8 939.2,688.1 939.5,689.4C939.8,690.7 940.1,692.0 940.4,693.3C940.7,694.6 941.0,695.9 941.2,697.3C941.5,698.6 941.8,699.9 942.1,701.2C942.4,702.5 942.7,703.8 943.0,705.1C943.3,706.4 943.6,707.7 943.8,709.0C944.1,710.3 944.4,711.6 944.7,712.9C945.0,714.2 945.3,715.5 945.6,716.8C945.9,718.1 946.2,719.4 946.5,720.7C946.7,722.0 947.0,723.3 947.3,724.6C947.6,725.9 947.9,727.2 948.2,728.5" stroke="#e00410"/>
<path d="M650.4,728.5C650.7,727.2 651.0,725.9 651.3,724.6C651.6,723.3 651.9,722.0 652.1,720.7C652.4,719.4 652.7,718.1 653.0,716.8C653.3,715.5 653.6,714.2 653.9,712.9C654.2,711.6 654.5,710.3 654.8,709.0C655.0,707.7 655.3,706.4 655.6,705.1C655.9,703.8 656.2,702.5 656.5,701.2C656.8,699.9 657.1,698.6 657.4,697.3C657.6,695.9 657.9,694.6 658.2,693.3C658.5,692.0 658.8,690.7 659.1,689.4C659.4,688.1 659.7,686.8 660.0,685.5C660.2,684.2 660.5,682.9 660.8,681.6C661.1,680.3 661.4,679.0 661.7,677.7C662.0,676.4 662.3,675.1 662.6,673.8C662.9,672.5 663.2,671.2 663.4,669.9C663.7,668.6 664.0,667.3 664.3,666.0C664.6,664.7 664.9,663.4 665.2,662.1C665.5,660.8 665.8,659.5 666.1,658.2C666.4,656.9 666.7,655.6 667.0,654.3C667.3,653.0 667.6,651.7 667.9,650.4C668.2,649.1 668.5,647.8 668.8,646.5C669.1,645.2 669.4,643.9 669.7,642.6C670.0,641.3 670.3,640.0 670.6,638.7C670.9,637.4 671.2,636.1 671.5,634.8C671.8,633.5 672.2,632.2 672.5,630.9C672.8,629.6 673.1,628.3 673.4,627.0C673.7,625.7 674.0,624.4 674.4,623.1C674.7,621.9 675.0,620.6 675.3,619.3C675.6,618.0 675.9,616.7 676.2,615.4C676.6,614.1 676.9,612.8 677.2,611.5C677.5,610.2 677.8,608.9 678.1,607.6C678.4,606.3 678.7,605.0 679.0,603.7C679.3,602.4 679.6,601.1 679.9,599.8C680.2,598.5 680.5,597.2 680.8,595.9C681.1,594.6 681.4,593.3 681.6,592.0C681.9,590.7 682.2,589.4 682.4,588.1C682.7,586.7 683.0,585.4 683.3,584.1C683.5,582.8 683.8,581.5 684.1,580.2C684.4,578.9 684.7,577.6 685.0,576.3C685.3,575.0 685.6,573.7 685.9,572.4C686.2,571.1 686.6,569.8 686.9,568.6C687.2,567.3 687.6,566.0 687.9,564.7C688.3,563.4 688.6,562.1 689.0,560.8C689.4,559.6 689.8,558.3 690.1,557.0C690.5,555.7 690.9,554.4 691.3,553.2C691.7,551.9 692.1,550.6 692.5,549.4C692.9,548.1 693.4,546.8 693.8,545.6C694.2,544.3 694.7,543.0 695.1,541.8C695.6,540.5 696.1,539.3 696.6,538.1C697.1,536.8 697.6,535.6 698.1,534.4C698.7,533.2 699.2,532.0 699.9,530.8C700.5,529.6 701.1,528.4 701.8,527.3C702.5,526.1 703.2,525.0 704.0,523.9C704.8,522.9 705.7,521.9 706.7,521.1C707.7,520.2 708.8,519.5 710.0,519.0C711.2,518.6 712.5,518.4 713.8,518.6C715.0,518.7 716.3,519.3 717.3,519.9C718.5,520.5 719.4,521.5 720.4,522.4C721.3,523.4 722.1,524.4 722.9,525.5C723.7,526.6 724.4,527.7 725.1,528.8C725.9,529.9 726.6,531.1 727.2,532.2C727.8,533.4 728.4,534.6 729.0,535.8C729.6,537.0 730.2,538.2 730.8,539.4C731.3,540.6 731.9,541.8 732.4,543.0C733.0,544.2 733.5,545.5 734.0,546.7C734.5,547.9 735.0,549.2 735.4,550.4C735.9,551.7 736.2,553.0 736.6,554.3C737.0,555.5 737.4,556.8 737.8,558.1C738.2,559.4 738.5,560.6 739.0,561.9C739.4,563.2 739.8,564.4 740.2,565.7C740.7,567.0 741.2,568.2 741.7,569.4C742.2,570.6 742.8,571.9 743.4,573.0C744.1,574.2 744.8,575.3 745.6,576.3C746.4,577.4 747.3,578.4 748.4,579.1C749.4,579.9 750.6,580.5 751.8,580.7C753.0,580.9 754.3,580.6 755.5,580.2C756.6,579.7 757.7,578.8 758.6,578.0C759.6,577.1 760.5,576.1 761.3,575.1C762.2,574.0 763.0,573.0 763.8,571.9C764.5,570.8 765.3,569.7 766.0,568.6C766.7,567.5 767.5,566.3 768.2,565.2C768.9,564.1 769.6,563.0 770.3,561.8C771.0,560.7 771.7,559.5 772.4,558.4C773.1,557.3 773.8,556.2 774.5,555.0C775.3,553.9 776.0,552.8 776.8,551.7C777.5,550.6 778.3,549.5 779.1,548.5C780.0,547.5 780.8,546.4 781.8,545.5C782.7,544.5 783.7,543.6 784.7,542.8C785.7,542.0 786.8,541.2 788.0,540.5C789.1,539.9 790.3,539.3 791.5,538.8C792.8,538.3 794.1,537.9 795.4,537.7C796.6,537.4 798.0,537.3 799.3,537.3C800.6,537.3 802.0,537.4 803.2,537.7C804.5,537.9 805.8,538.3 807.1,538.8C808.3,539.3 809.5,539.9 810.6,540.5C811.8,541.2 812.9,542.0 813.9,542.8C814.9,543.6 815.9,544.5 816.8,545.5C817.8,546.4 818.6,547.5 819.5,548.5C820.3,549.5 821.1,550.6 821.8,551.7C822.6,552.8 823.3,553.9 824.1,555.0C824.8,556.2 825.5,557.3 826.2,558.4C826.9,559.5 827.6,560.7 828.3,561.8C829.0,563.0 829.7,564.1 830.4,565.2C831.1,566.3 831.9,567.5 832.6,568.6C833.3,569.7 834.1,570.8 834.8,571.9C835.6,573.0 836.4,574.0 837.3,575.1C838.1,576.1 839.0,577.1 840.0,578.0C840.9,578.8 842.0,579.7 843.1,580.2C844.3,580.6 845.6,580.9 846.8,580.7C848.0,580.5 849.2,579.9 850.2,579.1C851.3,578.4 852.2,577.4 853.0,576.3C853.8,575.3 854.5,574.2 855.2,573.0C855.8,571.9 856.4,570.6 856.9,569.4C857.4,568.2 857.9,567.0 858.4,565.7C858.8,564.4 859.2,563.2 859.6,561.9C860.1,560.6 860.4,559.4 860.8,558.1C861.2,556.8 861.6,555.5 862.0,554.3C862.4,553.0 862.7,551.7 863.2,550.4C863.6,549.2 864.1,547.9 864.6,546.7C865.1,545.5 865.6,544.2 866.2,543.0C866.7,541.8 867.3,540.6 867.8,539.4C868.4,538.2 869.0,537.0 869.6,535.8C870.2,534.6 870.8,533.4 871.4,532.2C872.0,531.1 872.7,529.9 873.5,528.8C874.2,527.7 874.9,526.6 875.7,525.5C876.5,524.4 877.3,523.4 878.2,522.4C879.2,521.5 880.1,520.5 881.3,519.9C882.3,519.3 883.6,518.7 884.8,518.6C886.1,518.4 887.4,518.6 888.6,519.0C889.8,519.5 890.9,520.2 891.9,521.1C892.9,521.9 893.8,522.9 894.6,523.9C895.4,525.0 896.1,526.1 896.8,527.3C897.5,528.4 898.1,529.6 898.7,530.8C899.4,532.0 899.9,533.2 900.5,534.4C901.0,535.6 901.5,536.8 902.0,538.1C902.5,539.3 903.0,540.5 903.5,541.8C903.9,543.0 904.4,544.3 904.8,545.6C905.2,546.8 905.7,548.1 906.1,549.4C906.5,550.6 906.9,551.9 907.3,553.2C907.7,554.4 908.1,555.7 908.5,557.0C908.8,558.3 909.2,559.6 909.6,560.8C910.0,562.1 910.3,563.4 910.7,564.7C911.0,566.0 911.4,567.3 911.7,568.6C912.0,569.8 912.4,571.1 912.7,572.4C913.0,573.7 913.3,575.0 913.6,576.3C913.9,577.6 914.2,578.9 914.5,580.2C914.8,581.5 915.1,582.8 915.3,584.1C915.6,585.4 915.9,586.7 916.2,588.1C916.4,589.4 916.7,590.7 917.0,592.0C917.2,593.3 917.5,594.6 917.8,595.9C918.1,597.2 918.4,598.5 918.7,599.8C919.0,601.1 919.3,602.4 919.6,603.7C919.9,605.0 920.2,606.3 920.5,607.6C920.8,608.9 921.1,610.2 921.4,611.5C921.7,612.8 922.0,614.1 922.4,615.4C922.7,616.7 923.0,618.0 923.3,619.3C923.6,620.6 923.9,621.9 924.2,623.1C924.6,624.4 924.9,625.7 925.2,627.0C925.5,628.3 925.8,629.6 926.1,630.9C926.4,632.2 926.8,633.5 927.1,634.8C927.4,636.1 927.7,637.4 928.0,638.7C928.3,640.0 928.6,641.3 928.9,642.6C929.2,643.9 929.5,645.2 929.8,646.5C930.1,647.8 930.4,649.1 930.7,650.4C931.0,651.7 931.3,653.0 931.6,654.3C931.9,655.6 932.2,656.9 932.5,658.2C932.8,659.5 933.1,660.8 933.4,662.1C933.7,663.4 934.0,664.7 934.3,666.0C934.6,667.3 934.9,668.6 935.2,669.9C935.4,671.2 935.7,672.5 936.0,673.8C936.3,675.1 936.6,676.4 936.9,677.7C937.2,679.0 937.5,680.3 937.8,681.6C938.1,682.9 938.4,684.2 938.6,685.5C938.9,686.8 939.2,688.1 939.5,689.4C939.8,690.7 940.1,692.0 940.4,693.3C940.7,694.6 941.0,695.9 941.2,697.3C941.5,698.6 941.8,699.9 942.1,701.2C942.4,702.5 942.7,703.8 943.0,705.1C943.3,706.4 943.6,707.7 943.8,709.0C944.1,710.3 944.4,711.6 944.7,712.9C945.0,714.2 945.3,715.5 945.6,716.8C945.9,718.1 946.2,719.4 946.5,720.7C946.7,722.0 947.0,723.3 947.3,724.6C947.6,725.9 947.9,727.2 948.2,728.5" stroke="#0c1c7c"/>
</g>
<g class="c" stroke-width="3.4">
<path d="M965.1,728.5C965.5,727.2 966.0,726.0 966.4,724.7C966.9,723.5 967.3,722.2 967.8,721.0C968.2,719.7 968.6,718.4 969.1,717.2C969.5,715.9 970.0,714.7 970.4,713.4C970.9,712.2 971.3,710.9 971.8,709.6C972.2,708.4 972.7,707.1 973.1,705.9C973.6,704.6 974.0,703.4 974.5,702.1C974.9,700.9 975.4,699.6 975.8,698.3C976.3,697.1 976.7,695.8 977.2,694.6C977.6,693.3 978.1,692.1 978.5,690.8C978.9,689.5 979.4,688.3 979.8,687.0C980.3,685.8 980.7,684.5 981.2,683.3C981.6,682.0 982.0,680.7 982.5,679.5C982.9,678.2 983.4,677.0 983.8,675.7C984.2,674.4 984.7,673.2 985.1,671.9C985.5,670.7 986.0,669.4 986.4,668.1C986.8,666.9 987.2,665.6 987.6,664.3C988.1,663.1 988.5,661.8 988.9,660.5C989.3,659.3 989.7,658.0 990.1,656.7C990.5,655.5 990.9,654.2 991.3,652.9C991.7,651.6 992.1,650.4 992.5,649.1C992.9,647.8 993.3,646.5 993.7,645.3C994.1,644.0 994.4,642.7 994.8,641.4C995.2,640.2 995.6,638.9 996.1,637.6C996.5,636.4 996.9,635.1 997.3,633.8C997.8,632.6 998.2,631.3 998.7,630.1C999.1,628.8 999.6,627.6 1000.1,626.3C1000.5,625.1 1001.0,623.8 1001.5,622.6C1002.0,621.3 1002.5,620.1 1003.0,618.9C1003.6,617.7 1004.1,616.4 1004.6,615.2C1005.2,614.0 1005.7,612.8 1006.3,611.6C1006.8,610.4 1007.4,609.2 1008.1,608.0C1008.7,606.8 1009.4,605.7 1010.2,604.6C1011.0,603.5 1011.8,602.5 1012.7,601.5C1013.6,600.5 1014.5,599.5 1015.5,598.7C1016.6,597.9 1017.7,597.2 1018.9,596.7C1020.1,596.1 1021.3,595.6 1022.6,595.3C1023.9,594.9 1025.2,594.6 1026.5,594.4C1027.8,594.2 1029.1,594.0 1030.5,594.0C1031.8,594.0 1033.1,594.2 1034.4,594.4C1035.7,594.6 1037.0,594.9 1038.3,595.1C1039.7,595.3 1041.0,595.6 1042.3,595.7C1043.6,595.7 1044.9,595.8 1046.2,595.4C1047.4,595.1 1048.6,594.5 1049.6,593.7C1050.6,592.9 1051.4,591.8 1052.2,590.8C1052.9,589.7 1053.5,588.5 1054.1,587.3C1054.7,586.1 1055.1,584.8 1055.6,583.6C1056.0,582.3 1056.4,581.1 1056.8,579.8C1057.2,578.5 1057.6,577.2 1058.0,576.0C1058.4,574.7 1058.9,573.5 1059.4,572.2C1059.8,571.0 1060.3,569.7 1060.8,568.5C1061.3,567.2 1061.8,566.0 1062.2,564.7C1062.7,563.5 1063.1,562.2 1063.6,561.0C1064.0,559.7 1064.5,558.4 1064.9,557.2C1065.3,555.9 1065.8,554.7 1066.2,553.4C1066.7,552.2 1067.1,550.9 1067.6,549.6C1068.0,548.4 1068.5,547.1 1069.0,545.9C1069.5,544.7 1070.0,543.4 1070.5,542.2C1070.9,540.9 1071.4,539.7 1071.9,538.5C1072.4,537.2 1072.8,536.0 1073.3,534.7C1073.7,533.4 1074.1,532.2 1074.5,530.9C1075.0,529.6 1075.4,528.4 1075.8,527.1C1076.3,525.9 1076.8,524.6 1077.3,523.4C1077.8,522.1 1078.3,520.9 1078.8,519.7C1079.4,518.5 1079.9,517.3 1080.5,516.1C1081.1,514.9 1081.6,513.6 1082.2,512.5C1082.8,511.3 1083.4,510.1 1084.0,508.9C1084.6,507.7 1085.2,506.5 1085.8,505.3C1086.4,504.1 1087.0,502.9 1087.6,501.7C1088.2,500.5 1088.8,499.3 1089.4,498.1C1089.9,496.9 1090.5,495.7 1091.1,494.5C1091.7,493.3 1092.3,492.2 1093.0,491.0C1093.6,489.8 1094.2,488.6 1094.9,487.5C1095.5,486.3 1096.2,485.2 1096.9,484.0C1097.6,482.9 1098.3,481.8 1099.1,480.7C1099.8,479.6 1100.5,478.4 1101.4,477.4C1102.2,476.3 1103.0,475.3 1103.9,474.3C1104.8,473.4 1105.8,472.4 1106.8,471.6C1107.9,470.9 1109.0,470.1 1110.2,469.6C1111.4,469.2 1112.7,468.8 1114.0,468.7C1115.3,468.6 1116.7,468.7 1117.9,469.0C1119.2,469.3 1120.4,469.9 1121.5,470.5C1122.7,471.2 1123.7,472.1 1124.7,472.9C1125.7,473.8 1126.6,474.8 1127.4,475.8C1128.3,476.8 1129.0,477.9 1129.8,479.0C1130.6,480.1 1131.3,481.2 1132.0,482.3C1132.7,483.5 1133.4,484.6 1134.1,485.8C1134.8,486.9 1135.5,488.1 1136.1,489.2C1136.7,490.4 1137.4,491.6 1138.0,492.8C1138.6,493.9 1139.2,495.1 1139.8,496.3C1140.4,497.5 1140.9,498.7 1141.5,499.9C1142.1,501.1 1142.7,502.3 1143.3,503.5C1143.9,504.7 1144.5,505.9 1145.1,507.1C1145.7,508.3 1146.3,509.5 1146.9,510.7C1147.5,511.9 1148.1,513.0 1148.7,514.3C1149.2,515.5 1149.8,516.7 1150.4,517.9C1150.9,519.1 1151.5,520.3 1152.0,521.5C1152.5,522.8 1153.0,524.0 1153.5,525.2C1154.0,526.5 1154.4,527.7 1154.8,529.0C1155.3,530.3 1155.7,531.5 1156.1,532.8C1156.5,534.1 1156.9,535.3 1157.4,536.6C1157.8,537.8 1158.3,539.1 1158.8,540.3C1159.3,541.6 1159.8,542.8 1160.3,544.0C1160.8,545.3 1161.3,546.5 1161.7,547.8C1162.2,549.0 1162.7,550.3 1163.1,551.5C1163.6,552.8 1164.0,554.0 1164.5,555.3C1164.9,556.6 1165.3,557.8 1165.8,559.1C1166.2,560.3 1166.6,561.6 1167.1,562.8C1167.6,564.1 1168.0,565.4 1168.5,566.6C1169.0,567.8 1169.4,569.1 1169.9,570.3C1170.4,571.6 1170.9,572.8 1171.3,574.1C1171.8,575.3 1172.2,576.6 1172.6,577.9C1173.0,579.1 1173.4,580.4 1173.8,581.7C1174.2,583.0 1174.6,584.2 1175.1,585.5C1175.6,586.7 1176.1,587.9 1176.8,589.1C1177.5,590.2 1178.1,591.4 1179.0,592.3C1179.9,593.3 1180.9,594.2 1182.0,594.7C1183.2,595.3 1184.5,595.6 1185.8,595.7C1187.0,595.8 1188.4,595.6 1189.7,595.5C1191.0,595.3 1192.3,595.0 1193.6,594.7C1194.9,594.5 1196.2,594.2 1197.6,594.1C1198.9,594.0 1200.2,594.0 1201.5,594.1C1202.8,594.2 1204.2,594.5 1205.5,594.7C1206.8,595.0 1208.0,595.4 1209.3,595.9C1210.5,596.4 1211.7,596.9 1212.8,597.6C1214.0,598.3 1215.0,599.1 1216.0,600.0C1216.9,601.0 1217.8,602.0 1218.6,603.0C1219.4,604.1 1220.2,605.2 1220.9,606.3C1221.6,607.4 1222.3,608.6 1222.9,609.8C1223.5,610.9 1224.0,612.2 1224.6,613.4C1225.1,614.6 1225.6,615.8 1226.2,617.0C1226.7,618.3 1227.2,619.5 1227.7,620.7C1228.2,622.0 1228.7,623.2 1229.2,624.4C1229.7,625.7 1230.2,626.9 1230.6,628.2C1231.1,629.4 1231.5,630.7 1232.0,631.9C1232.4,633.2 1232.9,634.5 1233.3,635.7C1233.7,637.0 1234.1,638.3 1234.6,639.5C1235.0,640.8 1235.4,642.1 1235.7,643.3C1236.1,644.6 1236.5,645.9 1236.9,647.2C1237.3,648.5 1237.7,649.7 1238.1,651.0C1238.5,652.3 1238.9,653.6 1239.3,654.8C1239.7,656.1 1240.1,657.4 1240.5,658.6C1240.9,659.9 1241.3,661.2 1241.7,662.4C1242.1,663.7 1242.6,665.0 1243.0,666.2C1243.4,667.5 1243.8,668.8 1244.3,670.0C1244.7,671.3 1245.1,672.5 1245.6,673.8C1246.0,675.1 1246.4,676.3 1246.9,677.6C1247.3,678.9 1247.7,680.1 1248.2,681.4C1248.6,682.6 1249.1,683.9 1249.5,685.1C1249.9,686.4 1250.4,687.7 1250.8,688.9C1251.3,690.2 1251.7,691.4 1252.2,692.7C1252.6,693.9 1253.1,695.2 1253.5,696.5C1254.0,697.7 1254.4,699.0 1254.9,700.2C1255.3,701.5 1255.8,702.7 1256.2,704.0C1256.7,705.2 1257.1,706.5 1257.6,707.8C1258.0,709.0 1258.5,710.3 1258.9,711.5C1259.3,712.8 1259.8,714.0 1260.2,715.3C1260.7,716.6 1261.1,717.8 1261.6,719.1C1262.0,720.3 1262.5,721.6 1262.9,722.8C1263.4,724.1 1263.8,725.4 1264.2,726.6C1264.5,727.2 1264.7,727.9 1264.9,728.5" stroke="#f2560e"/>
<path d="M965.1,728.5C965.5,727.2 965.9,726.0 966.3,724.7C966.7,723.4 967.2,722.2 967.6,720.9C968.0,719.6 968.4,718.4 968.8,717.1C969.3,715.8 969.7,714.6 970.1,713.3C970.5,712.0 970.9,710.8 971.4,709.5C971.8,708.2 972.2,707.0 972.6,705.7C973.0,704.4 973.5,703.2 973.9,701.9C974.3,700.6 974.7,699.4 975.2,698.1C975.6,696.8 976.0,695.6 976.4,694.3C976.8,693.1 977.3,691.8 977.7,690.5C978.1,689.3 978.5,688.0 978.9,686.7C979.3,685.5 979.8,684.2 980.2,682.9C980.6,681.6 981.0,680.4 981.4,679.1C981.8,677.8 982.2,676.6 982.6,675.3C983.0,674.0 983.4,672.8 983.8,671.5C984.2,670.2 984.6,668.9 985.0,667.7C985.4,666.4 985.8,665.1 986.2,663.8C986.6,662.6 987.0,661.3 987.3,660.0C987.7,658.7 988.1,657.4 988.5,656.2C988.8,654.9 989.2,653.6 989.5,652.3C989.9,651.0 990.3,649.7 990.6,648.5C991.0,647.2 991.3,645.9 991.6,644.6C992.0,643.3 992.3,642.0 992.7,640.7C993.1,639.4 993.4,638.2 993.8,636.9C994.2,635.6 994.6,634.3 995.0,633.1C995.3,631.8 995.8,630.5 996.2,629.2C996.6,628.0 997.0,626.7 997.4,625.4C997.8,624.2 998.2,622.9 998.7,621.6C999.1,620.4 999.5,619.1 1000.0,617.9C1000.4,616.6 1000.9,615.3 1001.3,614.1C1001.8,612.8 1002.2,611.6 1002.7,610.3C1003.1,609.1 1003.5,607.8 1004.0,606.6C1004.5,605.3 1005.0,604.1 1005.5,602.8C1006.0,601.6 1006.5,600.4 1007.1,599.2C1007.7,598.0 1008.2,596.8 1008.8,595.6C1009.5,594.4 1010.1,593.2 1010.7,592.1C1011.4,590.9 1012.2,589.8 1013.0,588.8C1013.8,587.8 1014.7,586.8 1015.7,585.9C1016.7,585.0 1017.7,584.2 1018.9,583.6C1020.0,583.0 1021.3,582.6 1022.6,582.4C1023.9,582.3 1025.2,582.4 1026.5,582.6C1027.7,582.9 1029.0,583.5 1030.1,584.1C1031.3,584.7 1032.3,585.6 1033.4,586.3C1034.5,587.1 1035.4,588.1 1036.5,588.9C1037.5,589.7 1038.6,590.6 1039.7,591.3C1040.8,592.0 1041.9,592.7 1043.1,593.1C1044.3,593.6 1045.7,593.9 1046.9,593.8C1048.1,593.7 1049.4,593.1 1050.4,592.5C1051.5,591.8 1052.4,590.8 1053.2,589.8C1054.1,588.8 1054.8,587.6 1055.4,586.5C1056.1,585.3 1056.6,584.1 1057.1,582.9C1057.6,581.6 1058.0,580.4 1058.4,579.1C1058.8,577.8 1059.2,576.6 1059.7,575.3C1060.1,574.0 1060.6,572.8 1061.0,571.5C1061.5,570.3 1062.0,569.1 1062.5,567.8C1062.9,566.6 1063.4,565.3 1063.9,564.1C1064.3,562.8 1064.8,561.6 1065.3,560.3C1065.7,559.1 1066.2,557.8 1066.6,556.5C1067.1,555.3 1067.5,554.0 1068.0,552.8C1068.4,551.5 1068.9,550.3 1069.4,549.0C1069.9,547.8 1070.3,546.5 1070.8,545.3C1071.3,544.1 1071.8,542.8 1072.3,541.6C1072.7,540.3 1073.2,539.1 1073.7,537.8C1074.2,536.6 1074.7,535.3 1075.1,534.1C1075.6,532.9 1076.1,531.6 1076.5,530.4C1077.0,529.1 1077.5,527.9 1078.0,526.6C1078.5,525.4 1079.0,524.2 1079.6,522.9C1080.1,521.7 1080.7,520.5 1081.2,519.3C1081.8,518.1 1082.4,516.9 1083.0,515.7C1083.6,514.5 1084.2,513.3 1084.8,512.1C1085.4,510.9 1086.0,509.7 1086.6,508.6C1087.2,507.4 1087.8,506.2 1088.4,505.0C1089.0,503.8 1089.6,502.6 1090.2,501.4C1090.8,500.2 1091.4,499.1 1092.0,497.9C1092.7,496.7 1093.3,495.5 1093.9,494.4C1094.6,493.2 1095.3,492.0 1095.9,490.9C1096.6,489.7 1097.3,488.6 1098.0,487.5C1098.8,486.4 1099.5,485.3 1100.3,484.2C1101.1,483.2 1102.0,482.1 1102.9,481.2C1103.8,480.2 1104.8,479.2 1105.8,478.4C1106.8,477.6 1107.9,476.8 1109.1,476.3C1110.3,475.7 1111.5,475.2 1112.8,475.0C1114.1,474.8 1115.4,474.7 1116.7,474.9C1118.0,475.1 1119.3,475.5 1120.5,476.0C1121.6,476.6 1122.8,477.3 1123.8,478.1C1124.9,478.9 1125.8,479.8 1126.8,480.8C1127.7,481.7 1128.5,482.8 1129.4,483.8C1130.2,484.9 1130.9,486.0 1131.7,487.1C1132.4,488.2 1133.1,489.3 1133.8,490.5C1134.5,491.6 1135.2,492.8 1135.8,493.9C1136.5,495.1 1137.1,496.3 1137.7,497.4C1138.3,498.6 1139.0,499.8 1139.6,501.0C1140.2,502.2 1140.8,503.4 1141.4,504.5C1142.0,505.7 1142.6,506.9 1143.2,508.1C1143.8,509.3 1144.4,510.5 1145.0,511.7C1145.6,512.9 1146.2,514.1 1146.8,515.3C1147.4,516.5 1148.0,517.7 1148.5,518.9C1149.1,520.1 1149.7,521.3 1150.2,522.5C1150.8,523.7 1151.3,524.9 1151.8,526.2C1152.3,527.4 1152.8,528.6 1153.3,529.9C1153.8,531.1 1154.2,532.4 1154.7,533.6C1155.2,534.9 1155.6,536.1 1156.1,537.4C1156.6,538.6 1157.1,539.9 1157.6,541.1C1158.0,542.3 1158.5,543.6 1159.0,544.8C1159.5,546.1 1160.0,547.3 1160.4,548.6C1160.9,549.8 1161.4,551.1 1161.8,552.3C1162.3,553.6 1162.8,554.8 1163.2,556.1C1163.7,557.3 1164.1,558.6 1164.6,559.8C1165.0,561.1 1165.5,562.3 1166.0,563.6C1166.4,564.8 1166.9,566.1 1167.4,567.3C1167.8,568.6 1168.3,569.8 1168.8,571.1C1169.3,572.3 1169.7,573.6 1170.2,574.8C1170.6,576.1 1171.0,577.4 1171.4,578.6C1171.9,579.9 1172.2,581.2 1172.7,582.4C1173.2,583.6 1173.7,584.9 1174.3,586.0C1175.0,587.2 1175.7,588.4 1176.5,589.4C1177.3,590.4 1178.2,591.5 1179.2,592.2C1180.2,592.9 1181.5,593.5 1182.6,593.7C1183.8,593.9 1185.2,593.7 1186.4,593.3C1187.6,592.9 1188.8,592.2 1189.9,591.6C1191.0,590.9 1192.1,590.0 1193.1,589.2C1194.2,588.4 1195.2,587.5 1196.2,586.7C1197.3,585.9 1198.3,585.0 1199.5,584.3C1200.6,583.7 1201.8,583.1 1203.1,582.8C1204.3,582.4 1205.6,582.3 1206.9,582.4C1208.2,582.5 1209.5,582.8 1210.7,583.4C1211.8,583.9 1212.9,584.7 1213.9,585.5C1214.9,586.4 1215.8,587.4 1216.7,588.4C1217.5,589.4 1218.3,590.5 1219.0,591.6C1219.7,592.8 1220.3,594.0 1220.9,595.1C1221.5,596.3 1222.1,597.5 1222.7,598.7C1223.3,599.9 1223.8,601.1 1224.3,602.4C1224.9,603.6 1225.3,604.8 1225.8,606.1C1226.3,607.3 1226.7,608.6 1227.2,609.8C1227.6,611.1 1228.1,612.4 1228.5,613.6C1229.0,614.9 1229.4,616.1 1229.8,617.4C1230.3,618.7 1230.7,619.9 1231.2,621.2C1231.6,622.4 1232.0,623.7 1232.4,625.0C1232.9,626.2 1233.3,627.5 1233.7,628.8C1234.1,630.0 1234.5,631.3 1234.9,632.6C1235.3,633.9 1235.7,635.1 1236.1,636.4C1236.4,637.7 1236.8,639.0 1237.2,640.3C1237.5,641.5 1237.9,642.8 1238.2,644.1C1238.6,645.4 1238.9,646.7 1239.3,648.0C1239.6,649.3 1240.0,650.5 1240.3,651.8C1240.7,653.1 1241.0,654.4 1241.4,655.7C1241.8,657.0 1242.1,658.2 1242.5,659.5C1242.9,660.8 1243.3,662.1 1243.7,663.4C1244.1,664.6 1244.4,665.9 1244.8,667.2C1245.2,668.5 1245.6,669.7 1246.0,671.0C1246.4,672.3 1246.8,673.6 1247.2,674.8C1247.6,676.1 1248.0,677.4 1248.4,678.6C1248.8,679.9 1249.3,681.2 1249.7,682.4C1250.1,683.7 1250.5,685.0 1250.9,686.2C1251.3,687.5 1251.7,688.8 1252.2,690.0C1252.6,691.3 1253.0,692.6 1253.4,693.8C1253.8,695.1 1254.3,696.4 1254.7,697.6C1255.1,698.9 1255.5,700.2 1256.0,701.4C1256.4,702.7 1256.8,704.0 1257.2,705.2C1257.6,706.5 1258.1,707.8 1258.5,709.0C1258.9,710.3 1259.3,711.6 1259.7,712.8C1260.2,714.1 1260.6,715.4 1261.0,716.6C1261.4,717.9 1261.8,719.1 1262.3,720.4C1262.7,721.7 1263.1,723.0 1263.5,724.2C1263.9,725.5 1264.3,726.8 1264.7,728.0C1264.8,728.2 1264.8,728.3 1264.9,728.5" stroke="#3e9e0c"/>
<path d="M965.1,728.5C965.5,727.2 965.8,725.9 966.2,724.7C966.6,723.4 966.9,722.1 967.3,720.8C967.7,719.5 968.1,718.2 968.4,717.0C968.8,715.7 969.2,714.4 969.5,713.1C969.9,711.8 970.3,710.6 970.6,709.3C971.0,708.0 971.4,706.7 971.8,705.4C972.1,704.2 972.5,702.9 972.9,701.6C973.2,700.3 973.6,699.0 974.0,697.8C974.4,696.5 974.7,695.2 975.1,693.9C975.5,692.6 975.8,691.3 976.2,690.1C976.6,688.8 976.9,687.5 977.3,686.2C977.7,684.9 978.0,683.7 978.4,682.4C978.8,681.1 979.2,679.8 979.5,678.5C979.9,677.3 980.3,676.0 980.6,674.7C981.0,673.4 981.4,672.1 981.7,670.8C982.1,669.6 982.5,668.3 982.8,667.0C983.2,665.7 983.5,664.4 983.9,663.1C984.3,661.9 984.6,660.6 985.0,659.3C985.4,658.0 985.7,656.7 986.1,655.4C986.4,654.2 986.8,652.9 987.1,651.6C987.5,650.3 987.8,649.0 988.2,647.7C988.6,646.4 988.9,645.2 989.3,643.9C989.6,642.6 990.0,641.3 990.3,640.0C990.7,638.7 991.0,637.4 991.4,636.2C991.8,634.9 992.2,633.6 992.5,632.3C992.9,631.1 993.3,629.8 993.7,628.5C994.1,627.2 994.5,625.9 994.9,624.7C995.3,623.4 995.7,622.1 996.1,620.9C996.5,619.6 996.9,618.3 997.3,617.1C997.7,615.8 998.1,614.5 998.5,613.3C999.0,612.0 999.4,610.7 999.8,609.5C1000.2,608.2 1000.6,606.9 1001.1,605.7C1001.5,604.4 1002.0,603.1 1002.4,601.9C1002.9,600.6 1003.4,599.4 1003.9,598.2C1004.4,596.9 1004.9,595.7 1005.4,594.5C1005.9,593.2 1006.4,592.0 1006.9,590.8C1007.5,589.6 1008.0,588.3 1008.7,587.2C1009.3,586.0 1010.0,584.9 1010.8,583.8C1011.6,582.8 1012.5,581.7 1013.4,580.8C1014.4,579.9 1015.4,579.0 1016.5,578.3C1017.6,577.7 1018.9,577.1 1020.1,576.9C1021.3,576.6 1022.7,576.5 1024.0,576.7C1025.2,576.9 1026.5,577.4 1027.6,577.9C1028.8,578.5 1029.9,579.3 1030.9,580.2C1032.0,581.0 1032.9,581.9 1033.8,582.9C1034.8,583.8 1035.7,584.8 1036.6,585.8C1037.5,586.7 1038.5,587.7 1039.5,588.6C1040.4,589.4 1041.4,590.3 1042.5,591.1C1043.6,591.7 1044.8,592.5 1046.0,592.8C1047.2,593.0 1048.5,593.0 1049.7,592.6C1050.8,592.2 1051.9,591.4 1052.9,590.6C1053.9,589.8 1054.8,588.7 1055.5,587.6C1056.3,586.6 1057.0,585.4 1057.5,584.2C1058.1,583.0 1058.6,581.8 1059.0,580.5C1059.5,579.3 1059.8,578.0 1060.3,576.7C1060.7,575.5 1061.2,574.2 1061.6,573.0C1062.1,571.7 1062.6,570.5 1063.1,569.2C1063.6,568.0 1064.0,566.7 1064.5,565.5C1065.0,564.3 1065.5,563.0 1065.9,561.8C1066.4,560.5 1066.9,559.3 1067.3,558.0C1067.8,556.8 1068.3,555.5 1068.7,554.3C1069.2,553.0 1069.7,551.8 1070.1,550.5C1070.6,549.3 1071.1,548.0 1071.5,546.8C1072.0,545.5 1072.5,544.3 1073.0,543.0C1073.4,541.8 1073.9,540.5 1074.4,539.3C1074.9,538.1 1075.4,536.8 1076.0,535.6C1076.5,534.4 1077.0,533.2 1077.6,531.9C1078.1,530.7 1078.6,529.5 1079.1,528.3C1079.7,527.0 1080.1,525.8 1080.6,524.6C1081.1,523.3 1081.6,522.1 1082.1,520.9C1082.7,519.6 1083.2,518.4 1083.7,517.2C1084.3,516.0 1084.8,514.7 1085.4,513.5C1085.9,512.3 1086.5,511.1 1087.1,509.9C1087.6,508.7 1088.2,507.5 1088.8,506.3C1089.4,505.1 1090.0,503.9 1090.6,502.7C1091.2,501.5 1091.8,500.4 1092.5,499.2C1093.2,498.1 1093.8,496.9 1094.6,495.8C1095.3,494.7 1096.0,493.6 1096.8,492.5C1097.6,491.4 1098.5,490.4 1099.4,489.4C1100.2,488.4 1101.2,487.5 1102.1,486.5C1103.1,485.6 1104.1,484.7 1105.1,483.9C1106.1,483.0 1107.2,482.2 1108.3,481.5C1109.4,480.9 1110.6,480.2 1111.9,479.9C1113.1,479.5 1114.5,479.3 1115.7,479.4C1117.0,479.5 1118.3,479.9 1119.5,480.4C1120.7,480.9 1121.8,481.6 1122.9,482.3C1124.0,483.1 1125.0,484.0 1126.0,484.8C1127.0,485.7 1128.0,486.7 1128.9,487.6C1129.9,488.6 1130.8,489.5 1131.6,490.5C1132.5,491.6 1133.3,492.6 1134.1,493.7C1134.8,494.8 1135.5,495.9 1136.2,497.1C1136.9,498.2 1137.6,499.4 1138.2,500.5C1138.9,501.7 1139.5,502.9 1140.1,504.1C1140.7,505.3 1141.3,506.5 1141.8,507.7C1142.4,508.9 1143.0,510.1 1143.6,511.3C1144.1,512.5 1144.7,513.7 1145.3,514.9C1145.8,516.1 1146.4,517.3 1146.9,518.6C1147.4,519.8 1147.9,521.0 1148.4,522.2C1148.9,523.5 1149.4,524.7 1149.9,526.0C1150.4,527.2 1150.9,528.4 1151.4,529.7C1152.0,530.9 1152.5,532.1 1153.0,533.3C1153.6,534.5 1154.1,535.8 1154.6,537.0C1155.1,538.2 1155.6,539.5 1156.1,540.7C1156.6,541.9 1157.1,543.2 1157.6,544.4C1158.0,545.7 1158.5,546.9 1159.0,548.2C1159.5,549.4 1159.9,550.7 1160.4,551.9C1160.9,553.2 1161.3,554.4 1161.8,555.7C1162.3,556.9 1162.7,558.2 1163.2,559.4C1163.7,560.7 1164.1,561.9 1164.6,563.2C1165.1,564.4 1165.5,565.7 1166.0,566.9C1166.5,568.1 1167.0,569.4 1167.5,570.6C1167.9,571.9 1168.4,573.1 1168.9,574.4C1169.3,575.6 1169.8,576.9 1170.2,578.1C1170.6,579.4 1171.0,580.7 1171.5,581.9C1172.0,583.2 1172.5,584.4 1173.1,585.5C1173.8,586.7 1174.5,587.8 1175.4,588.8C1176.2,589.8 1177.2,590.8 1178.2,591.5C1179.3,592.2 1180.5,592.8 1181.7,592.9C1182.9,593.1 1184.2,592.7 1185.3,592.3C1186.5,591.8 1187.6,591.0 1188.7,590.2C1189.7,589.4 1190.7,588.4 1191.6,587.5C1192.6,586.6 1193.5,585.6 1194.4,584.7C1195.4,583.7 1196.3,582.7 1197.2,581.8C1198.2,580.9 1199.2,580.0 1200.3,579.3C1201.3,578.5 1202.5,577.8 1203.7,577.3C1204.9,576.9 1206.2,576.6 1207.5,576.6C1208.8,576.6 1210.1,576.8 1211.3,577.3C1212.5,577.7 1213.7,578.4 1214.7,579.2C1215.8,580.0 1216.7,580.9 1217.6,581.9C1218.5,582.9 1219.3,584.0 1220.0,585.1C1220.8,586.2 1221.4,587.3 1222.0,588.5C1222.6,589.7 1223.1,590.9 1223.7,592.2C1224.2,593.4 1224.7,594.6 1225.2,595.8C1225.7,597.1 1226.2,598.3 1226.7,599.6C1227.2,600.8 1227.6,602.0 1228.1,603.3C1228.5,604.6 1229.0,605.8 1229.4,607.1C1229.8,608.3 1230.2,609.6 1230.7,610.9C1231.1,612.1 1231.5,613.4 1231.9,614.7C1232.3,615.9 1232.8,617.2 1233.2,618.5C1233.6,619.7 1234.0,621.0 1234.4,622.3C1234.8,623.6 1235.2,624.8 1235.6,626.1C1236.0,627.4 1236.4,628.7 1236.7,629.9C1237.1,631.2 1237.5,632.5 1237.9,633.8C1238.3,635.0 1238.6,636.3 1239.0,637.6C1239.4,638.9 1239.7,640.2 1240.1,641.5C1240.4,642.7 1240.8,644.0 1241.1,645.3C1241.5,646.6 1241.8,647.9 1242.2,649.2C1242.5,650.5 1242.9,651.7 1243.3,653.0C1243.6,654.3 1244.0,655.6 1244.3,656.9C1244.7,658.2 1245.1,659.5 1245.4,660.7C1245.8,662.0 1246.1,663.3 1246.5,664.6C1246.9,665.9 1247.2,667.2 1247.6,668.4C1248.0,669.7 1248.3,671.0 1248.7,672.3C1249.1,673.6 1249.4,674.8 1249.8,676.1C1250.2,677.4 1250.5,678.7 1250.9,680.0C1251.3,681.3 1251.6,682.5 1252.0,683.8C1252.4,685.1 1252.7,686.4 1253.1,687.7C1253.5,688.9 1253.8,690.2 1254.2,691.5C1254.6,692.8 1255.0,694.1 1255.3,695.4C1255.7,696.6 1256.1,697.9 1256.4,699.2C1256.8,700.5 1257.2,701.8 1257.5,703.0C1257.9,704.3 1258.3,705.6 1258.7,706.9C1259.0,708.2 1259.4,709.4 1259.8,710.7C1260.1,712.0 1260.5,713.3 1260.9,714.6C1261.3,715.8 1261.6,717.1 1262.0,718.4C1262.4,719.7 1262.7,721.0 1263.1,722.3C1263.5,723.5 1263.8,724.8 1264.2,726.1C1264.4,726.9 1264.7,727.7 1264.9,728.5" stroke="#e00410"/>
<path d="M965.1,728.5C965.5,727.2 965.8,725.9 966.2,724.7C966.6,723.4 966.9,722.1 967.3,720.8C967.7,719.5 968.1,718.2 968.4,717.0C968.8,715.7 969.2,714.4 969.5,713.1C969.9,711.8 970.3,710.6 970.6,709.3C971.0,708.0 971.4,706.7 971.8,705.4C972.1,704.1 972.5,702.9 972.9,701.6C973.2,700.3 973.6,699.0 974.0,697.7C974.4,696.5 974.7,695.2 975.1,693.9C975.5,692.6 975.8,691.3 976.2,690.1C976.6,688.8 976.9,687.5 977.3,686.2C977.7,684.9 978.1,683.6 978.4,682.4C978.8,681.1 979.2,679.8 979.5,678.5C979.9,677.2 980.3,676.0 980.6,674.7C981.0,673.4 981.4,672.1 981.7,670.8C982.1,669.5 982.5,668.3 982.8,667.0C983.2,665.7 983.5,664.4 983.9,663.1C984.3,661.8 984.6,660.6 985.0,659.3C985.4,658.0 985.7,656.7 986.1,655.4C986.4,654.1 986.8,652.8 987.1,651.6C987.5,650.3 987.9,649.0 988.2,647.7C988.6,646.4 988.9,645.1 989.3,643.8C989.6,642.6 990.0,641.3 990.3,640.0C990.7,638.7 991.1,637.4 991.4,636.1C991.8,634.9 992.2,633.6 992.6,632.3C992.9,631.0 993.3,629.7 993.7,628.5C994.1,627.2 994.5,625.9 994.9,624.6C995.3,623.4 995.7,622.1 996.1,620.8C996.5,619.6 996.9,618.3 997.3,617.0C997.7,615.7 998.1,614.5 998.6,613.2C999.0,611.9 999.4,610.7 999.8,609.4C1000.2,608.1 1000.7,606.9 1001.1,605.6C1001.5,604.4 1002.0,603.1 1002.4,601.9C1002.9,600.6 1003.4,599.4 1003.9,598.1C1004.4,596.9 1004.9,595.7 1005.4,594.4C1005.9,593.2 1006.4,592.0 1007.0,590.8C1007.6,589.5 1008.1,588.3 1008.8,587.2C1009.4,586.0 1010.1,584.9 1010.9,583.8C1011.6,582.7 1012.4,581.6 1013.3,580.6C1014.2,579.7 1015.2,578.7 1016.2,578.0C1017.3,577.3 1018.5,576.7 1019.8,576.3C1021.0,576.0 1022.4,575.9 1023.6,576.0C1024.9,576.2 1026.2,576.6 1027.3,577.2C1028.5,577.7 1029.6,578.5 1030.6,579.4C1031.6,580.2 1032.5,581.2 1033.4,582.1C1034.4,583.1 1035.2,584.2 1036.1,585.1C1037.0,586.1 1037.9,587.1 1038.9,588.0C1039.8,588.9 1040.8,589.8 1041.9,590.6C1043.0,591.3 1044.1,592.1 1045.3,592.5C1046.4,592.9 1047.8,593.1 1048.9,592.8C1050.1,592.6 1051.3,591.8 1052.3,591.1C1053.4,590.3 1054.3,589.3 1055.1,588.3C1055.9,587.2 1056.6,586.1 1057.2,584.9C1057.8,583.7 1058.3,582.5 1058.8,581.3C1059.2,580.0 1059.6,578.7 1060.0,577.5C1060.5,576.2 1060.9,574.9 1061.4,573.7C1061.8,572.4 1062.3,571.2 1062.8,570.0C1063.3,568.7 1063.8,567.5 1064.2,566.2C1064.7,565.0 1065.2,563.7 1065.7,562.5C1066.1,561.2 1066.6,560.0 1067.1,558.7C1067.5,557.5 1068.0,556.2 1068.4,555.0C1068.9,553.7 1069.4,552.5 1069.8,551.2C1070.3,550.0 1070.8,548.7 1071.3,547.5C1071.7,546.2 1072.2,545.0 1072.7,543.8C1073.2,542.5 1073.6,541.3 1074.1,540.0C1074.6,538.8 1075.1,537.6 1075.7,536.3C1076.2,535.1 1076.7,533.9 1077.3,532.7C1077.8,531.4 1078.3,530.2 1078.8,529.0C1079.4,527.8 1079.9,526.5 1080.4,525.3C1080.9,524.0 1081.3,522.8 1081.9,521.6C1082.4,520.3 1082.9,519.1 1083.4,517.9C1083.9,516.7 1084.5,515.4 1085.0,514.2C1085.6,513.0 1086.2,511.8 1086.7,510.6C1087.3,509.4 1087.9,508.2 1088.5,507.0C1089.1,505.8 1089.6,504.6 1090.2,503.4C1090.8,502.2 1091.5,501.0 1092.1,499.9C1092.8,498.7 1093.4,497.6 1094.1,496.4C1094.9,495.3 1095.6,494.2 1096.4,493.1C1097.2,492.0 1098.0,491.0 1098.9,490.0C1099.7,489.0 1100.7,488.0 1101.6,487.1C1102.5,486.1 1103.5,485.2 1104.5,484.4C1105.5,483.5 1106.6,482.6 1107.7,481.9C1108.8,481.2 1110.0,480.5 1111.2,480.1C1112.4,479.7 1113.7,479.4 1115.0,479.4C1116.3,479.4 1117.6,479.7 1118.8,480.1C1120.0,480.5 1121.2,481.2 1122.3,481.9C1123.4,482.6 1124.5,483.5 1125.5,484.4C1126.5,485.2 1127.5,486.1 1128.4,487.1C1129.3,488.0 1130.3,489.0 1131.1,490.0C1132.0,491.0 1132.8,492.0 1133.6,493.1C1134.4,494.2 1135.1,495.3 1135.9,496.4C1136.6,497.6 1137.2,498.7 1137.9,499.9C1138.5,501.0 1139.2,502.2 1139.8,503.4C1140.4,504.6 1140.9,505.8 1141.5,507.0C1142.1,508.2 1142.7,509.4 1143.3,510.6C1143.8,511.8 1144.4,513.0 1145.0,514.2C1145.5,515.4 1146.1,516.7 1146.6,517.9C1147.1,519.1 1147.6,520.3 1148.1,521.6C1148.7,522.8 1149.1,524.0 1149.6,525.3C1150.1,526.5 1150.6,527.8 1151.2,529.0C1151.7,530.2 1152.2,531.4 1152.7,532.7C1153.3,533.9 1153.8,535.1 1154.3,536.3C1154.9,537.6 1155.4,538.8 1155.9,540.0C1156.4,541.3 1156.8,542.5 1157.3,543.8C1157.8,545.0 1158.3,546.2 1158.7,547.5C1159.2,548.7 1159.7,550.0 1160.2,551.2C1160.6,552.5 1161.1,553.7 1161.6,555.0C1162.0,556.2 1162.5,557.5 1162.9,558.7C1163.4,560.0 1163.9,561.2 1164.3,562.5C1164.8,563.7 1165.3,565.0 1165.8,566.2C1166.2,567.5 1166.7,568.7 1167.2,570.0C1167.7,571.2 1168.2,572.4 1168.6,573.7C1169.1,574.9 1169.5,576.2 1170.0,577.5C1170.4,578.7 1170.8,580.0 1171.2,581.3C1171.7,582.5 1172.2,583.7 1172.8,584.9C1173.4,586.1 1174.1,587.2 1174.9,588.3C1175.7,589.3 1176.6,590.3 1177.7,591.1C1178.7,591.8 1179.9,592.6 1181.1,592.8C1182.2,593.1 1183.6,592.9 1184.7,592.5C1185.9,592.1 1187.0,591.3 1188.1,590.6C1189.2,589.8 1190.2,588.9 1191.1,588.0C1192.1,587.1 1193.0,586.1 1193.9,585.1C1194.8,584.2 1195.6,583.1 1196.6,582.1C1197.5,581.2 1198.4,580.2 1199.4,579.4C1200.4,578.5 1201.5,577.7 1202.7,577.2C1203.8,576.6 1205.1,576.2 1206.4,576.0C1207.6,575.9 1209.0,576.0 1210.2,576.3C1211.5,576.7 1212.7,577.3 1213.8,578.0C1214.8,578.7 1215.8,579.7 1216.7,580.6C1217.6,581.6 1218.4,582.7 1219.1,583.8C1219.9,584.9 1220.6,586.0 1221.2,587.2C1221.9,588.3 1222.4,589.5 1223.0,590.8C1223.6,592.0 1224.1,593.2 1224.6,594.4C1225.1,595.7 1225.6,596.9 1226.1,598.1C1226.6,599.4 1227.1,600.6 1227.6,601.9C1228.0,603.1 1228.5,604.4 1228.9,605.6C1229.3,606.9 1229.8,608.1 1230.2,609.4C1230.6,610.7 1231.0,611.9 1231.4,613.2C1231.9,614.5 1232.3,615.7 1232.7,617.0C1233.1,618.3 1233.5,619.6 1233.9,620.8C1234.3,622.1 1234.7,623.4 1235.1,624.6C1235.5,625.9 1235.9,627.2 1236.3,628.5C1236.7,629.7 1237.1,631.0 1237.4,632.3C1237.8,633.6 1238.2,634.9 1238.6,636.1C1238.9,637.4 1239.3,638.7 1239.7,640.0C1240.0,641.3 1240.4,642.6 1240.7,643.8C1241.1,645.1 1241.4,646.4 1241.8,647.7C1242.1,649.0 1242.5,650.3 1242.9,651.6C1243.2,652.8 1243.6,654.1 1243.9,655.4C1244.3,656.7 1244.6,658.0 1245.0,659.3C1245.4,660.6 1245.7,661.8 1246.1,663.1C1246.5,664.4 1246.8,665.7 1247.2,667.0C1247.5,668.3 1247.9,669.5 1248.3,670.8C1248.6,672.1 1249.0,673.4 1249.4,674.7C1249.7,676.0 1250.1,677.2 1250.5,678.5C1250.8,679.8 1251.2,681.1 1251.6,682.4C1251.9,683.6 1252.3,684.9 1252.7,686.2C1253.1,687.5 1253.4,688.8 1253.8,690.1C1254.2,691.3 1254.5,692.6 1254.9,693.9C1255.3,695.2 1255.6,696.5 1256.0,697.7C1256.4,699.0 1256.8,700.3 1257.1,701.6C1257.5,702.9 1257.9,704.1 1258.2,705.4C1258.6,706.7 1259.0,708.0 1259.4,709.3C1259.7,710.6 1260.1,711.8 1260.5,713.1C1260.8,714.4 1261.2,715.7 1261.6,717.0C1261.9,718.2 1262.3,719.5 1262.7,720.8C1263.1,722.1 1263.4,723.4 1263.8,724.7C1264.2,725.9 1264.5,727.2 1264.9,728.5" stroke="#0c1c7c"/>
</g>
<g filter="url(#g)">
<rect x="2.7" y="2.7" width="1263.7" height="312.8" fill="none" stroke="#000" stroke-width="2.8"/>
<rect x="2.9" y="439.2" width="1263.4" height="312.3" fill="none" stroke="#000" stroke-width="2.8"/>
<rect x="53.4" y="12.35" width="1025.2" height="39.4" fill="#fff" stroke="#fab07a" stroke-width="2.9"/>
<rect x="18.05" y="445.9" width="1060.5" height="39.35" fill="#fff" stroke="#fab07a" stroke-width="2.9"/>
<text x="68.5" y="40.4" letter-spacing="0.33">Ring</text>
<line x1="137.1" y1="32" x2="161.1" y2="32" stroke="#5a4a0a" stroke-width="3"/>
<text x="175.6" y="40.4">300 <tspan dx="-1.4">μ</tspan><tspan dx="-1.4">m</tspan></text>
<line x1="273.1" y1="32" x2="297.1" y2="32" stroke="#44b4b6" stroke-width="3"/>
<text x="310.6" y="40.4">400 <tspan dx="-1.4">μ</tspan><tspan dx="-1.4">m</tspan></text>
<line x1="409.2" y1="32" x2="433.2" y2="32" stroke="#951e82" stroke-width="3"/>
<text x="445.6" y="40.4">500 <tspan dx="-1.4">μ</tspan><tspan dx="-1.4">m</tspan></text>
<line x1="545.2" y1="32" x2="569.2" y2="32" stroke="#f2560e" stroke-width="3"/>
<text x="580.6" y="40.4">600 <tspan dx="-1.4">μ</tspan><tspan dx="-1.4">m</tspan></text>
<line x1="681.3" y1="32" x2="705.3" y2="32" stroke="#3e9e0c" stroke-width="3"/>
<text x="715.6" y="40.4">700 <tspan dx="-1.4">μ</tspan><tspan dx="-1.4">m</tspan></text>
<line x1="817.4" y1="32" x2="841.4" y2="32" stroke="#e00410" stroke-width="3"/>
<text x="850.6" y="40.4">800 <tspan dx="-1.4">μ</tspan><tspan dx="-1.4">m</tspan></text>
<line x1="953.4" y1="32" x2="977.4" y2="32" stroke="#0e1a80" stroke-width="3"/>
<text x="985.6" y="40.4">900 <tspan dx="-1.4">μ</tspan><tspan dx="-1.4">m</tspan></text>
<text x="22.6" y="470.1" letter-spacing="0.41">Outer ring</text>
<line x1="146.6" y1="464.4" x2="170.6" y2="464.4" stroke="#5a4a0a" stroke-width="3"/>
<text x="185.2" y="472.5">300 <tspan dx="-1.4">μ</tspan><tspan dx="-1.4">m</tspan></text>
<line x1="282.7" y1="464.4" x2="306.7" y2="464.4" stroke="#44b4b6" stroke-width="3"/>
<text x="320.2" y="472.5">400 <tspan dx="-1.4">μ</tspan><tspan dx="-1.4">m</tspan></text>
<line x1="418.8" y1="464.4" x2="442.8" y2="464.4" stroke="#951e82" stroke-width="3"/>
<text x="455.3" y="472.5">500 <tspan dx="-1.4">μ</tspan><tspan dx="-1.4">m</tspan></text>
<line x1="554.9" y1="464.4" x2="578.9" y2="464.4" stroke="#f2560e" stroke-width="3"/>
<text x="590.4" y="472.5">600 <tspan dx="-1.4">μ</tspan><tspan dx="-1.4">m</tspan></text>
<line x1="691.0" y1="464.4" x2="715.0" y2="464.4" stroke="#3e9e0c" stroke-width="3"/>
<text x="725.4" y="472.5">700 <tspan dx="-1.4">μ</tspan><tspan dx="-1.4">m</tspan></text>
<line x1="827.1" y1="464.4" x2="851.1" y2="464.4" stroke="#e00410" stroke-width="3"/>
<text x="860.5" y="472.5">800 <tspan dx="-1.4">μ</tspan><tspan dx="-1.4">m</tspan></text>
<line x1="963.2" y1="464.4" x2="987.2" y2="464.4" stroke="#0e1a80" stroke-width="3"/>
<text x="995.5" y="472.5">900 <tspan dx="-1.4">μ</tspan><tspan dx="-1.4">m</tspan></text>
<line x1="1181.3" y1="34.3" x2="1242" y2="34.3" stroke="#000" stroke-width="2.6"/>
<text x="1179.2" y="65.4" style="font-size:26.3px">0.2mm</text>
<line x1="1181.3" y1="462.4" x2="1242" y2="462.4" stroke="#000" stroke-width="2.6"/>
<text x="1179.2" y="488.1" style="font-size:26.3px">0.2mm</text>
<text x="120.4" y="347.8">100 <tspan dx="-1.4">μ</tspan><tspan dx="-1.4">m</tspan></text>
<text x="120.4" y="782.9">100 <tspan dx="-1.4">μ</tspan><tspan dx="-1.4">m</tspan></text>
<text x="435.2" y="347.8">200 <tspan dx="-1.4">μ</tspan><tspan dx="-1.4">m</tspan></text>
<text x="435.2" y="782.9">200 <tspan dx="-1.4">μ</tspan><tspan dx="-1.4">m</tspan></text>
<text x="751.2" y="347.8">300 <tspan dx="-1.4">μ</tspan><tspan dx="-1.4">m</tspan></text>
<text x="751.2" y="782.9">300 <tspan dx="-1.4">μ</tspan><tspan dx="-1.4">m</tspan></text>
<text x="1066.7" y="347.8">400 <tspan dx="-1.4">μ</tspan><tspan dx="-1.4">m</tspan></text>
<text x="1066.7" y="782.9">400 <tspan dx="-1.4">μ</tspan><tspan dx="-1.4">m</tspan></text>
<text x="588.6" y="375.2" letter-spacing="0.2">Cylinder</text>
<text x="620.4" y="412.2" letter-spacing="0.85">(a)</text>
<text x="578.1" y="814.8" letter-spacing="0.29">Inner ring</text>
<text x="620.3" y="853" letter-spacing="1.1">(b)</text>
</g>
</svg>
</body></html>
